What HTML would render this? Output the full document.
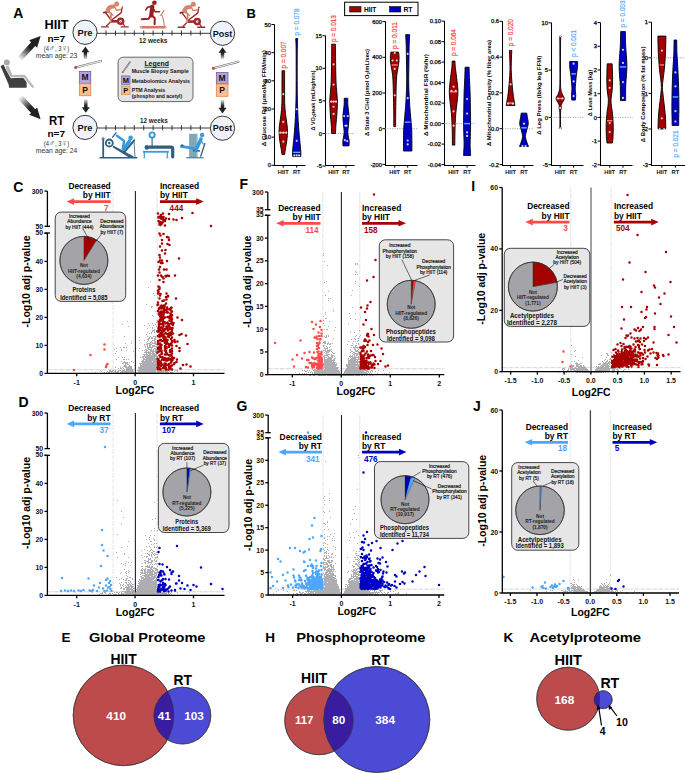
<!DOCTYPE html>
<html><head><meta charset="utf-8"><style>
html,body{margin:0;padding:0;background:#fff;width:685px;height:773px;overflow:hidden}
svg{display:block}
text{font-family:"Liberation Sans",sans-serif}
</style></head><body>
<svg width="685" height="773" viewBox="0 0 685 773">
<text x="246.5" y="17.8" font-size="13" font-weight="bold">B</text>
<rect x="344.6" y="2.2" width="73.4" height="13.4" fill="#fff" stroke="#000" stroke-width="1"/>
<rect x="349.7" y="6.6" width="11.3" height="5.4" fill="#a30000" stroke="#000" stroke-width="0.6"/>
<text x="363.9" y="12" font-size="7" font-weight="bold" textLength="12.5" lengthAdjust="spacingAndGlyphs">HIIT</text>
<rect x="389.6" y="6.6" width="11.2" height="5.4" fill="#0000c4" stroke="#000" stroke-width="0.6"/>
<text x="403.4" y="12" font-size="7" font-weight="bold" textLength="9.1" lengthAdjust="spacingAndGlyphs">RT</text>
<path d="M274.5 24.5V165.5H305.5" fill="none" stroke="#000" stroke-width="1.05"/>
<line x1="271.5" y1="165.3" x2="274.5" y2="165.3" stroke="#000" stroke-width="1" />
<text x="271" y="167.4" font-size="5.8" text-anchor="end" stroke="#000" stroke-width="0.25">0</text>
<line x1="271.5" y1="137.14" x2="274.5" y2="137.14" stroke="#000" stroke-width="1" />
<text x="271" y="139.24" font-size="5.8" text-anchor="end" stroke="#000" stroke-width="0.25">10</text>
<line x1="271.5" y1="108.98" x2="274.5" y2="108.98" stroke="#000" stroke-width="1" />
<text x="271" y="111.08" font-size="5.8" text-anchor="end" stroke="#000" stroke-width="0.25">20</text>
<line x1="271.5" y1="80.82" x2="274.5" y2="80.82" stroke="#000" stroke-width="1" />
<text x="271" y="82.92" font-size="5.8" text-anchor="end" stroke="#000" stroke-width="0.25">30</text>
<line x1="271.5" y1="52.66" x2="274.5" y2="52.66" stroke="#000" stroke-width="1" />
<text x="271" y="54.76" font-size="5.8" text-anchor="end" stroke="#000" stroke-width="0.25">40</text>
<line x1="271.5" y1="24.5" x2="274.5" y2="24.5" stroke="#000" stroke-width="1" />
<text x="271" y="26.6" font-size="5.8" text-anchor="end" stroke="#000" stroke-width="0.25">50</text>
<line x1="283.3" y1="165.5" x2="283.3" y2="167.7" stroke="#000" stroke-width="1" />
<line x1="296.7" y1="165.5" x2="296.7" y2="167.7" stroke="#000" stroke-width="1" />
<text x="283.3" y="173.6" font-size="5.8" font-weight="bold" text-anchor="middle" fill="#111" textLength="10.9" lengthAdjust="spacingAndGlyphs">HIIT</text>
<text x="296.7" y="173.6" font-size="5.8" font-weight="bold" text-anchor="middle" fill="#111" textLength="7.6" lengthAdjust="spacingAndGlyphs">RT</text>
<text x="265.8" y="98.2" font-size="5.6" font-weight="bold" text-anchor="middle" transform="rotate(-90 265.8 98.2)" textLength="96" lengthAdjust="spacingAndGlyphs">&#916; Glucose Rd (&#956;mol/kg FFM/min)</text>
<path d="M282 70.68L284.6 70.68C284.6 73.31 284.58 81.01 284.6 86.45C284.62 91.9 284.53 98.65 284.7 103.35C284.87 108.04 285.25 111.33 285.6 114.61C285.95 117.9 286.48 120.34 286.8 123.06C287.12 125.78 287.48 128.13 287.5 130.94C287.52 133.76 287.23 137.05 286.9 139.96C286.57 142.87 285.88 145.96 285.5 148.4C285.12 150.84 284.75 153.57 284.6 154.6L282 154.6C281.85 153.57 281.48 150.84 281.1 148.4C280.72 145.96 280.03 142.87 279.7 139.96C279.37 137.05 279.08 133.76 279.1 130.94C279.12 128.13 279.48 125.78 279.8 123.06C280.12 120.34 280.65 117.9 281 114.61C281.35 111.33 281.73 108.04 281.9 103.35C282.07 98.65 281.98 91.9 282 86.45C282.02 81.01 282 73.31 282 70.68Z" fill="#a30000" stroke="#000" stroke-width="0.9"/>
<path d="M295.7 38.58L297.7 38.58C297.63 39.99 297.38 42.33 297.3 47.03C297.22 51.72 297.2 58.76 297.2 66.74C297.2 74.72 297.17 86.45 297.3 94.9C297.43 103.35 297.68 110.86 298 117.43C298.32 124 298.82 129.63 299.2 134.32C299.58 139.02 300.02 142.54 300.3 145.59C300.58 148.64 300.83 150.8 300.9 152.63C300.97 154.46 300.73 155.91 300.7 156.57L292.7 156.57C292.67 155.91 292.43 154.46 292.5 152.63C292.57 150.8 292.82 148.64 293.1 145.59C293.38 142.54 293.82 139.02 294.2 134.32C294.58 129.63 295.08 124 295.4 117.43C295.72 110.86 295.97 103.35 296.1 94.9C296.23 86.45 296.2 74.72 296.2 66.74C296.2 58.76 296.18 51.72 296.1 47.03C296.02 42.33 295.77 39.99 295.7 38.58Z" fill="#0000c4" stroke="#000" stroke-width="0.9"/>
<line x1="279.81" y1="132.63" x2="286.79" y2="132.63" stroke="#ff7a7a" stroke-width="1.4" />
<line x1="293.12" y1="152.35" x2="300.28" y2="152.35" stroke="#5cb0ff" stroke-width="1.4" />
<circle cx="283.3" cy="94.06" r="1.1" fill="#d4d4d4"/>
<circle cx="283.3" cy="121.93" r="1.1" fill="#d4d4d4"/>
<circle cx="280.3" cy="132.63" r="1.1" fill="#d4d4d4"/>
<circle cx="283.3" cy="132.63" r="1.1" fill="#d4d4d4"/>
<circle cx="286.3" cy="132.63" r="1.1" fill="#d4d4d4"/>
<circle cx="283.3" cy="141.65" r="1.1" fill="#d4d4d4"/>
<circle cx="296.7" cy="109.26" r="1.1" fill="#d4d4d4"/>
<circle cx="296.7" cy="140.8" r="1.1" fill="#d4d4d4"/>
<circle cx="294.3" cy="155.44" r="1.1" fill="#d4d4d4"/>
<circle cx="296.7" cy="155.44" r="1.1" fill="#d4d4d4"/>
<circle cx="299.1" cy="155.44" r="1.1" fill="#d4d4d4"/>
<text x="286" y="54.9" font-size="6.8" text-anchor="middle" fill="#ff3b3b" transform="rotate(-90 286 54.9)" textLength="27" lengthAdjust="spacingAndGlyphs" stroke="#ff3b3b" stroke-width="0.2">p = 0.007</text>
<text x="299" y="22" font-size="6.8" text-anchor="middle" fill="#55a8ff" transform="rotate(-90 299 22)" textLength="27" lengthAdjust="spacingAndGlyphs" stroke="#55a8ff" stroke-width="0.2">p = 0.078</text>
<path d="M325.5 35.7V165.5H354.5" fill="none" stroke="#000" stroke-width="1.05"/>
<line x1="322.5" y1="166.1" x2="325.5" y2="166.1" stroke="#000" stroke-width="1" />
<text x="322" y="168.2" font-size="5.8" text-anchor="end" stroke="#000" stroke-width="0.25">-5</text>
<line x1="322.5" y1="133.5" x2="325.5" y2="133.5" stroke="#000" stroke-width="1" />
<text x="322" y="135.6" font-size="5.8" text-anchor="end" stroke="#000" stroke-width="0.25">0</text>
<line x1="322.5" y1="100.9" x2="325.5" y2="100.9" stroke="#000" stroke-width="1" />
<text x="322" y="103" font-size="5.8" text-anchor="end" stroke="#000" stroke-width="0.25">5</text>
<line x1="322.5" y1="68.3" x2="325.5" y2="68.3" stroke="#000" stroke-width="1" />
<text x="322" y="70.4" font-size="5.8" text-anchor="end" stroke="#000" stroke-width="0.25">10</text>
<line x1="322.5" y1="35.7" x2="325.5" y2="35.7" stroke="#000" stroke-width="1" />
<text x="322" y="37.8" font-size="5.8" text-anchor="end" stroke="#000" stroke-width="0.25">15</text>
<line x1="333.6" y1="165.5" x2="333.6" y2="167.7" stroke="#000" stroke-width="1" />
<line x1="346" y1="165.5" x2="346" y2="167.7" stroke="#000" stroke-width="1" />
<text x="333.6" y="173.6" font-size="5.8" font-weight="bold" text-anchor="middle" fill="#111" textLength="10.9" lengthAdjust="spacingAndGlyphs">HIIT</text>
<text x="346" y="173.6" font-size="5.8" font-weight="bold" text-anchor="middle" fill="#111" textLength="7.6" lengthAdjust="spacingAndGlyphs">RT</text>
<line x1="325.4" y1="133.5" x2="354.5" y2="133.5" stroke="#888" stroke-width="0.7" stroke-dasharray="1.2 1.2"/>
<text x="314.9" y="100.5" font-size="5.6" font-weight="bold" text-anchor="middle" transform="rotate(-90 314.9 100.5)" textLength="60" lengthAdjust="spacingAndGlyphs">&#916; VO<tspan font-size="4" dy="1.2">2</tspan><tspan dy="-1.2">peak (mL/kg/min)</tspan></text>
<path d="M331.7 44.18L335.5 44.18C335.52 47.11 335.52 55.59 335.6 61.78C335.68 67.97 335.8 76.23 336 81.34C336.2 86.45 336.57 89.16 336.8 92.42C337.03 95.68 337.38 97.31 337.4 100.9C337.42 104.49 337.15 109.92 336.9 113.94C336.65 117.96 336.13 121.76 335.9 125.02C335.67 128.28 335.57 132.09 335.5 133.5L331.7 133.5C331.63 132.09 331.53 128.28 331.3 125.02C331.07 121.76 330.55 117.96 330.3 113.94C330.05 109.92 329.78 104.49 329.8 100.9C329.82 97.31 330.17 95.68 330.4 92.42C330.63 89.16 331 86.45 331.2 81.34C331.4 76.23 331.52 67.97 331.6 61.78C331.68 55.59 331.68 47.11 331.7 44.18Z" fill="#a30000" stroke="#000" stroke-width="0.9"/>
<path d="M344.2 98.29L347.8 98.29C347.8 99.27 347.7 102.2 347.8 104.16C347.9 106.12 348.18 107.96 348.4 110.03C348.62 112.09 349.08 114.05 349.1 116.55C349.12 119.05 348.72 122.42 348.5 125.02C348.28 127.63 347.8 130.13 347.8 132.2C347.8 134.26 348.27 135.89 348.5 137.41C348.73 138.93 349.12 139.91 349.2 141.32C349.28 142.74 349.03 145.13 349 145.89L343 145.89C342.97 145.13 342.72 142.74 342.8 141.32C342.88 139.91 343.27 138.93 343.5 137.41C343.73 135.89 344.2 134.26 344.2 132.2C344.2 130.13 343.72 127.63 343.5 125.02C343.28 122.42 342.88 119.05 342.9 116.55C342.92 114.05 343.38 112.09 343.6 110.03C343.82 107.96 344.1 106.12 344.2 104.16C344.3 102.2 344.2 99.27 344.2 98.29Z" fill="#0000c4" stroke="#000" stroke-width="0.9"/>
<line x1="330.43" y1="101.55" x2="336.77" y2="101.55" stroke="#ff7a7a" stroke-width="1.4" />
<line x1="344.16" y1="125.68" x2="347.84" y2="125.68" stroke="#5cb0ff" stroke-width="1.4" />
<circle cx="333.6" cy="64.39" r="1.1" fill="#d4d4d4"/>
<circle cx="333.6" cy="84.6" r="1.1" fill="#d4d4d4"/>
<circle cx="331.2" cy="101.55" r="1.1" fill="#d4d4d4"/>
<circle cx="333.6" cy="101.55" r="1.1" fill="#d4d4d4"/>
<circle cx="336" cy="101.55" r="1.1" fill="#d4d4d4"/>
<circle cx="333.6" cy="106.77" r="1.1" fill="#d4d4d4"/>
<circle cx="333.6" cy="113.94" r="1.1" fill="#d4d4d4"/>
<circle cx="344.2" cy="116.09" r="1.1" fill="#d4d4d4"/>
<circle cx="347.8" cy="116.09" r="1.1" fill="#d4d4d4"/>
<circle cx="346" cy="125.68" r="1.1" fill="#d4d4d4"/>
<circle cx="344.8" cy="140.22" r="1.1" fill="#d4d4d4"/>
<circle cx="347.2" cy="141.19" r="1.1" fill="#d4d4d4"/>
<text x="335.9" y="28.6" font-size="6.8" text-anchor="middle" fill="#ff3b3b" transform="rotate(-90 335.9 28.6)" textLength="27" lengthAdjust="spacingAndGlyphs" stroke="#ff3b3b" stroke-width="0.2">p = 0.013</text>
<path d="M385.5 21.6V165.5H417.5" fill="none" stroke="#000" stroke-width="1.05"/>
<line x1="382.5" y1="164.4" x2="385.5" y2="164.4" stroke="#000" stroke-width="1" />
<text x="382" y="166.5" font-size="5.8" text-anchor="end" stroke="#000" stroke-width="0.25">-200</text>
<line x1="382.5" y1="128.7" x2="385.5" y2="128.7" stroke="#000" stroke-width="1" />
<text x="382" y="130.8" font-size="5.8" text-anchor="end" stroke="#000" stroke-width="0.25">0</text>
<line x1="382.5" y1="93" x2="385.5" y2="93" stroke="#000" stroke-width="1" />
<text x="382" y="95.1" font-size="5.8" text-anchor="end" stroke="#000" stroke-width="0.25">200</text>
<line x1="382.5" y1="57.3" x2="385.5" y2="57.3" stroke="#000" stroke-width="1" />
<text x="382" y="59.4" font-size="5.8" text-anchor="end" stroke="#000" stroke-width="0.25">400</text>
<line x1="382.5" y1="21.6" x2="385.5" y2="21.6" stroke="#000" stroke-width="1" />
<text x="382" y="23.7" font-size="5.8" text-anchor="end" stroke="#000" stroke-width="0.25">600</text>
<line x1="394.7" y1="165.5" x2="394.7" y2="167.7" stroke="#000" stroke-width="1" />
<line x1="407.7" y1="165.5" x2="407.7" y2="167.7" stroke="#000" stroke-width="1" />
<text x="394.7" y="173.6" font-size="5.8" font-weight="bold" text-anchor="middle" fill="#111" textLength="10.9" lengthAdjust="spacingAndGlyphs">HIIT</text>
<text x="407.7" y="173.6" font-size="5.8" font-weight="bold" text-anchor="middle" fill="#111" textLength="7.6" lengthAdjust="spacingAndGlyphs">RT</text>
<line x1="385" y1="128.7" x2="417.5" y2="128.7" stroke="#888" stroke-width="0.7" stroke-dasharray="1.2 1.2"/>
<text x="368.9" y="92.5" font-size="5.6" font-weight="bold" text-anchor="middle" transform="rotate(-90 368.9 92.5)" textLength="87" lengthAdjust="spacingAndGlyphs">&#916; State 3 CI+II (pmol O<tspan font-size="4" dy="1.2">2</tspan><tspan dy="-1.2">/mL/sec)</tspan></text>
<path d="M390.9 52.12L398.5 52.12C398.58 52.69 398.93 53.91 399 55.51C399.07 57.12 399.08 59.68 398.9 61.76C398.72 63.84 398.27 65.66 397.9 68.01C397.53 70.36 396.98 72.89 396.7 75.86C396.42 78.84 396.32 82.68 396.2 85.86C396.08 89.04 396.08 90.8 396 94.96C395.92 99.13 395.77 105.58 395.7 110.85C395.63 116.12 395.62 123.94 395.6 126.56L393.8 126.56C393.78 123.94 393.77 116.12 393.7 110.85C393.63 105.58 393.48 99.13 393.4 94.96C393.32 90.8 393.32 89.04 393.2 85.86C393.08 82.68 392.98 78.84 392.7 75.86C392.42 72.89 391.87 70.36 391.5 68.01C391.13 65.66 390.68 63.84 390.5 61.76C390.32 59.68 390.33 57.12 390.4 55.51C390.47 53.91 390.82 52.69 390.9 52.12Z" fill="#a30000" stroke="#000" stroke-width="0.9"/>
<path d="M405.7 34.63L409.7 34.63C409.62 36.33 409.32 41.03 409.2 44.8C409.08 48.58 409.08 50.96 409 57.3C408.92 63.64 408.62 75.39 408.7 82.83C408.78 90.26 409.23 96.99 409.5 101.92C409.77 106.86 410.03 109.12 410.3 112.46C410.57 115.79 410.87 119 411.1 121.92C411.33 124.83 411.57 126.74 411.7 129.95C411.83 133.16 411.87 137.68 411.9 141.19C411.93 144.71 411.9 149.38 411.9 151.01L403.5 151.01C403.5 149.38 403.47 144.71 403.5 141.19C403.53 137.68 403.57 133.16 403.7 129.95C403.83 126.74 404.07 124.83 404.3 121.92C404.53 119 404.83 115.79 405.1 112.46C405.37 109.12 405.63 106.86 405.9 101.92C406.17 96.99 406.62 90.26 406.7 82.83C406.78 75.39 406.48 63.64 406.4 57.3C406.32 50.96 406.32 48.58 406.2 44.8C406.08 41.03 405.78 36.33 405.7 34.63Z" fill="#0000c4" stroke="#000" stroke-width="0.9"/>
<line x1="391.61" y1="64.98" x2="397.79" y2="64.98" stroke="#ff7a7a" stroke-width="1.4" />
<line x1="404.89" y1="122.1" x2="410.51" y2="122.1" stroke="#5cb0ff" stroke-width="1.4" />
<circle cx="394.7" cy="53.02" r="1.1" fill="#d4d4d4"/>
<circle cx="392.6" cy="60.51" r="1.1" fill="#d4d4d4"/>
<circle cx="396.8" cy="60.51" r="1.1" fill="#d4d4d4"/>
<circle cx="394.7" cy="68.9" r="1.1" fill="#d4d4d4"/>
<circle cx="394.7" cy="95.32" r="1.1" fill="#d4d4d4"/>
<circle cx="407.7" cy="53.91" r="1.1" fill="#d4d4d4"/>
<circle cx="407.7" cy="98.18" r="1.1" fill="#d4d4d4"/>
<circle cx="407.7" cy="140.48" r="1.1" fill="#d4d4d4"/>
<circle cx="407.7" cy="144.41" r="1.1" fill="#d4d4d4"/>
<text x="397.1" y="35.5" font-size="6.8" text-anchor="middle" fill="#ff3b3b" transform="rotate(-90 397.1 35.5)" textLength="27" lengthAdjust="spacingAndGlyphs" stroke="#ff3b3b" stroke-width="0.2">p = 0.011</text>
<path d="M444.5 21.1V165.5H475.5" fill="none" stroke="#000" stroke-width="1.05"/>
<line x1="441.5" y1="164.6" x2="444.5" y2="164.6" stroke="#000" stroke-width="1" />
<text x="441" y="166.7" font-size="5.8" text-anchor="end" stroke="#000" stroke-width="0.25">-0.04</text>
<line x1="441.5" y1="144.1" x2="444.5" y2="144.1" stroke="#000" stroke-width="1" />
<text x="441" y="146.2" font-size="5.8" text-anchor="end" stroke="#000" stroke-width="0.25">-0.02</text>
<line x1="441.5" y1="123.6" x2="444.5" y2="123.6" stroke="#000" stroke-width="1" />
<text x="441" y="125.7" font-size="5.8" text-anchor="end" stroke="#000" stroke-width="0.25">0.00</text>
<line x1="441.5" y1="103.1" x2="444.5" y2="103.1" stroke="#000" stroke-width="1" />
<text x="441" y="105.2" font-size="5.8" text-anchor="end" stroke="#000" stroke-width="0.25">0.02</text>
<line x1="441.5" y1="82.6" x2="444.5" y2="82.6" stroke="#000" stroke-width="1" />
<text x="441" y="84.7" font-size="5.8" text-anchor="end" stroke="#000" stroke-width="0.25">0.04</text>
<line x1="441.5" y1="62.1" x2="444.5" y2="62.1" stroke="#000" stroke-width="1" />
<text x="441" y="64.2" font-size="5.8" text-anchor="end" stroke="#000" stroke-width="0.25">0.06</text>
<line x1="441.5" y1="41.6" x2="444.5" y2="41.6" stroke="#000" stroke-width="1" />
<text x="441" y="43.7" font-size="5.8" text-anchor="end" stroke="#000" stroke-width="0.25">0.08</text>
<line x1="441.5" y1="21.1" x2="444.5" y2="21.1" stroke="#000" stroke-width="1" />
<text x="441" y="23.2" font-size="5.8" text-anchor="end" stroke="#000" stroke-width="0.25">0.10</text>
<line x1="453.6" y1="165.5" x2="453.6" y2="167.7" stroke="#000" stroke-width="1" />
<line x1="467.1" y1="165.5" x2="467.1" y2="167.7" stroke="#000" stroke-width="1" />
<text x="453.6" y="173.6" font-size="5.8" font-weight="bold" text-anchor="middle" fill="#111" textLength="10.9" lengthAdjust="spacingAndGlyphs">HIIT</text>
<text x="467.1" y="173.6" font-size="5.8" font-weight="bold" text-anchor="middle" fill="#111" textLength="7.6" lengthAdjust="spacingAndGlyphs">RT</text>
<line x1="444" y1="123.6" x2="475.5" y2="123.6" stroke="#888" stroke-width="0.7" stroke-dasharray="1.2 1.2"/>
<text x="427.7" y="95" font-size="5.6" font-weight="bold" text-anchor="middle" transform="rotate(-90 427.7 95)" textLength="82" lengthAdjust="spacingAndGlyphs">&#916; Mitochondrial FSR (%/hr)</text>
<path d="M452.2 61.07L455 61.07C455.05 62.1 455.03 64.49 455.3 67.22C455.57 69.96 456.17 73.55 456.6 77.47C457.03 81.4 457.8 86.87 457.9 90.8C458 94.73 457.55 97.29 457.2 101.05C456.85 104.81 456.13 109.59 455.8 113.35C455.47 117.11 455.35 120.18 455.2 123.6C455.05 127.02 454.97 130.26 454.9 133.85C454.83 137.44 454.82 143.25 454.8 145.12L452.4 145.12C452.38 143.25 452.37 137.44 452.3 133.85C452.23 130.26 452.15 127.02 452 123.6C451.85 120.18 451.73 117.11 451.4 113.35C451.07 109.59 450.35 104.81 450 101.05C449.65 97.29 449.2 94.73 449.3 90.8C449.4 86.87 450.17 81.4 450.6 77.47C451.03 73.55 451.63 69.96 451.9 67.22C452.17 64.49 452.15 62.1 452.2 61.07Z" fill="#a30000" stroke="#000" stroke-width="0.9"/>
<path d="M465.1 67.22L469.1 67.22C469.15 68.93 469.23 73.2 469.4 77.47C469.57 81.75 469.93 87.72 470.1 92.85C470.27 97.97 470.32 103.1 470.4 108.22C470.48 113.35 470.6 119.33 470.6 123.6C470.6 127.87 470.48 130.43 470.4 133.85C470.32 137.27 470.08 141.03 470.1 144.1C470.12 147.17 470.4 150.42 470.5 152.3C470.6 154.18 470.67 154.86 470.7 155.38L463.5 155.38C463.53 154.86 463.6 154.18 463.7 152.3C463.8 150.42 464.08 147.17 464.1 144.1C464.12 141.03 463.88 137.27 463.8 133.85C463.72 130.43 463.6 127.87 463.6 123.6C463.6 119.33 463.72 113.35 463.8 108.22C463.88 103.1 463.93 97.97 464.1 92.85C464.27 87.72 464.63 81.75 464.8 77.47C464.97 73.2 465.05 68.93 465.1 67.22Z" fill="#0000c4" stroke="#000" stroke-width="0.9"/>
<line x1="449.97" y1="91.82" x2="457.23" y2="91.82" stroke="#ff7a7a" stroke-width="1.4" />
<line x1="464.2" y1="123.6" x2="470" y2="123.6" stroke="#5cb0ff" stroke-width="1.4" />
<circle cx="453.6" cy="86.7" r="1.1" fill="#d4d4d4"/>
<circle cx="451.5" cy="90.8" r="1.1" fill="#d4d4d4"/>
<circle cx="455.7" cy="90.8" r="1.1" fill="#d4d4d4"/>
<circle cx="453.6" cy="111.3" r="1.1" fill="#d4d4d4"/>
<circle cx="453.6" cy="125.65" r="1.1" fill="#d4d4d4"/>
<circle cx="467.1" cy="99" r="1.1" fill="#d4d4d4"/>
<circle cx="467.1" cy="113.55" r="1.1" fill="#d4d4d4"/>
<circle cx="467.1" cy="132.31" r="1.1" fill="#d4d4d4"/>
<circle cx="467.1" cy="135.9" r="1.1" fill="#d4d4d4"/>
<text x="456" y="42.6" font-size="6.8" text-anchor="middle" fill="#ff3b3b" transform="rotate(-90 456 42.6)" textLength="27" lengthAdjust="spacingAndGlyphs" stroke="#ff3b3b" stroke-width="0.2">p = 0.064</text>
<path d="M502.5 21.3V165.5H533.5" fill="none" stroke="#000" stroke-width="1.05"/>
<line x1="499.5" y1="164.5" x2="502.5" y2="164.5" stroke="#000" stroke-width="1" />
<text x="499" y="166.6" font-size="5.8" text-anchor="end" stroke="#000" stroke-width="0.25">-0.2</text>
<line x1="499.5" y1="128.7" x2="502.5" y2="128.7" stroke="#000" stroke-width="1" />
<text x="499" y="130.8" font-size="5.8" text-anchor="end" stroke="#000" stroke-width="0.25">0.0</text>
<line x1="499.5" y1="92.9" x2="502.5" y2="92.9" stroke="#000" stroke-width="1" />
<text x="499" y="95" font-size="5.8" text-anchor="end" stroke="#000" stroke-width="0.25">0.2</text>
<line x1="499.5" y1="57.1" x2="502.5" y2="57.1" stroke="#000" stroke-width="1" />
<text x="499" y="59.2" font-size="5.8" text-anchor="end" stroke="#000" stroke-width="0.25">0.4</text>
<line x1="499.5" y1="21.3" x2="502.5" y2="21.3" stroke="#000" stroke-width="1" />
<text x="499" y="23.4" font-size="5.8" text-anchor="end" stroke="#000" stroke-width="0.25">0.6</text>
<line x1="510.6" y1="165.5" x2="510.6" y2="167.7" stroke="#000" stroke-width="1" />
<line x1="524" y1="165.5" x2="524" y2="167.7" stroke="#000" stroke-width="1" />
<text x="510.6" y="173.6" font-size="5.8" font-weight="bold" text-anchor="middle" fill="#111" textLength="10.9" lengthAdjust="spacingAndGlyphs">HIIT</text>
<text x="524" y="173.6" font-size="5.8" font-weight="bold" text-anchor="middle" fill="#111" textLength="7.6" lengthAdjust="spacingAndGlyphs">RT</text>
<line x1="502.5" y1="128.7" x2="533.5" y2="128.7" stroke="#888" stroke-width="0.7" stroke-dasharray="1.2 1.2"/>
<text x="491.2" y="93" font-size="5.6" font-weight="bold" text-anchor="middle" transform="rotate(-90 491.2 93)" textLength="106" lengthAdjust="spacingAndGlyphs">&#916; Mitochondrial Density (% fiber area)</text>
<path d="M509.4 50.48L511.8 50.48C511.75 51.58 511.6 53.91 511.5 57.1C511.4 60.29 511.15 65.75 511.2 69.63C511.25 73.51 511.57 77.09 511.8 80.37C512.03 83.65 512.33 86.63 512.6 89.32C512.87 92 513.13 94.54 513.4 96.48C513.67 98.42 513.93 99.46 514.2 100.95C514.47 102.45 514.87 104.68 515 105.43L506.2 105.43C506.33 104.68 506.73 102.45 507 100.95C507.27 99.46 507.53 98.42 507.8 96.48C508.07 94.54 508.33 92 508.6 89.32C508.87 86.63 509.17 83.65 509.4 80.37C509.63 77.09 509.95 73.51 510 69.63C510.05 65.75 509.8 60.29 509.7 57.1C509.6 53.91 509.45 51.58 509.4 50.48Z" fill="#a30000" stroke="#000" stroke-width="0.9"/>
<path d="M521.2 113.13L526.8 113.13C526.87 113.63 526.95 114.47 527.2 116.17C527.45 117.87 528.28 121.39 528.3 123.33C528.32 125.27 527.65 126.31 527.3 127.8C526.95 129.3 526.52 130.79 526.2 132.28C525.88 133.77 525.3 135.11 525.4 136.75C525.5 138.4 526.28 140.51 526.8 142.12C527.32 143.74 528.22 145.7 528.5 146.42L519.5 146.42C519.78 145.7 520.68 143.74 521.2 142.12C521.72 140.51 522.5 138.4 522.6 136.75C522.7 135.11 522.12 133.77 521.8 132.28C521.48 130.79 521.05 129.3 520.7 127.8C520.35 126.31 519.68 125.27 519.7 123.33C519.72 121.39 520.55 117.87 520.8 116.17C521.05 114.47 521.13 113.63 521.2 113.13Z" fill="#0000c4" stroke="#000" stroke-width="0.9"/>
<line x1="507.22" y1="103.1" x2="513.98" y2="103.1" stroke="#ff7a7a" stroke-width="1.4" />
<line x1="521.3" y1="127.8" x2="526.7" y2="127.8" stroke="#5cb0ff" stroke-width="1.4" />
<circle cx="510.6" cy="84.31" r="1.1" fill="#d4d4d4"/>
<circle cx="508.2" cy="103.64" r="1.1" fill="#d4d4d4"/>
<circle cx="513" cy="103.64" r="1.1" fill="#d4d4d4"/>
<circle cx="524" cy="123.69" r="1.1" fill="#d4d4d4"/>
<circle cx="522.4" cy="146.06" r="1.1" fill="#d4d4d4"/>
<circle cx="525.6" cy="146.06" r="1.1" fill="#d4d4d4"/>
<text x="513" y="32.7" font-size="6.8" text-anchor="middle" fill="#ff3b3b" transform="rotate(-90 513 32.7)" textLength="27" lengthAdjust="spacingAndGlyphs" stroke="#ff3b3b" stroke-width="0.2">p = 0.020</text>
<path d="M551.5 22.8V165.5H583.5" fill="none" stroke="#000" stroke-width="1.05"/>
<line x1="548.5" y1="164.7" x2="551.5" y2="164.7" stroke="#000" stroke-width="1" />
<text x="548" y="166.8" font-size="5.8" text-anchor="end" stroke="#000" stroke-width="0.25">-5</text>
<line x1="548.5" y1="117.4" x2="551.5" y2="117.4" stroke="#000" stroke-width="1" />
<text x="548" y="119.5" font-size="5.8" text-anchor="end" stroke="#000" stroke-width="0.25">0</text>
<line x1="548.5" y1="70.1" x2="551.5" y2="70.1" stroke="#000" stroke-width="1" />
<text x="548" y="72.2" font-size="5.8" text-anchor="end" stroke="#000" stroke-width="0.25">5</text>
<line x1="548.5" y1="22.8" x2="551.5" y2="22.8" stroke="#000" stroke-width="1" />
<text x="548" y="24.9" font-size="5.8" text-anchor="end" stroke="#000" stroke-width="0.25">10</text>
<line x1="560.2" y1="165.5" x2="560.2" y2="167.7" stroke="#000" stroke-width="1" />
<line x1="573.6" y1="165.5" x2="573.6" y2="167.7" stroke="#000" stroke-width="1" />
<text x="560.2" y="173.6" font-size="5.8" font-weight="bold" text-anchor="middle" fill="#111" textLength="10.9" lengthAdjust="spacingAndGlyphs">HIIT</text>
<text x="573.6" y="173.6" font-size="5.8" font-weight="bold" text-anchor="middle" fill="#111" textLength="7.6" lengthAdjust="spacingAndGlyphs">RT</text>
<line x1="551" y1="117.4" x2="583.5" y2="117.4" stroke="#888" stroke-width="0.7" stroke-dasharray="1.2 1.2"/>
<text x="541.2" y="95.3" font-size="5.6" font-weight="bold" text-anchor="middle" transform="rotate(-90 541.2 95.3)" textLength="79" lengthAdjust="spacingAndGlyphs">&#916; Leg Press (lb/kg leg FFM)</text>
<path d="M559.1 36.23L561.3 36.23C561.18 36.83 560.73 35.76 560.6 39.83C560.47 43.9 560.52 53.23 560.5 60.64C560.48 68.05 560.3 78.93 560.5 84.29C560.7 89.65 561.07 90.44 561.7 92.8C562.33 95.17 564.25 96.75 564.3 98.48C564.35 100.21 562.55 101.95 562 103.21C561.45 104.47 561.1 105.26 561 106.05C560.9 106.84 561.45 107.15 561.4 107.94C561.35 108.73 560.85 109.2 560.7 110.78C560.55 112.35 560.53 114.88 560.5 117.4C560.47 119.92 560.37 124.07 560.5 125.91C560.63 127.76 561.17 128.04 561.3 128.47L559.1 128.47C559.23 128.04 559.77 127.76 559.9 125.91C560.03 124.07 559.93 119.92 559.9 117.4C559.87 114.88 559.85 112.35 559.7 110.78C559.55 109.2 559.05 108.73 559 107.94C558.95 107.15 559.5 106.84 559.4 106.05C559.3 105.26 558.95 104.47 558.4 103.21C557.85 101.95 556.05 100.21 556.1 98.48C556.15 96.75 558.07 95.17 558.7 92.8C559.33 90.44 559.7 89.65 559.9 84.29C560.1 78.93 559.92 68.05 559.9 60.64C559.88 53.23 559.93 43.9 559.8 39.83C559.67 35.76 559.22 36.83 559.1 36.23Z" fill="#a30000" stroke="#000" stroke-width="0.9"/>
<path d="M569.6 61.59L577.6 61.59C577.6 62.22 577.68 63.95 577.6 65.37C577.52 66.79 577.33 68.21 577.1 70.1C576.87 71.99 576.45 74.51 576.2 76.72C575.95 78.93 575.77 81.29 575.6 83.34C575.43 85.39 575.18 87.13 575.2 89.02C575.22 90.91 575.67 92.85 575.7 94.7C575.73 96.54 575.45 99.19 575.4 100.09L571.8 100.09C571.75 99.19 571.47 96.54 571.5 94.7C571.53 92.85 571.98 90.91 572 89.02C572.02 87.13 571.77 85.39 571.6 83.34C571.43 81.29 571.25 78.93 571 76.72C570.75 74.51 570.33 71.99 570.1 70.1C569.87 68.21 569.68 66.79 569.6 65.37C569.52 63.95 569.6 62.22 569.6 61.59Z" fill="#0000c4" stroke="#000" stroke-width="0.9"/>
<line x1="556.7" y1="98.48" x2="563.7" y2="98.48" stroke="#ff7a7a" stroke-width="1.4" />
<line x1="571.21" y1="73.88" x2="575.99" y2="73.88" stroke="#5cb0ff" stroke-width="1.4" />
<circle cx="560.2" cy="36.23" r="1.1" fill="#d4d4d4"/>
<circle cx="558" cy="98.48" r="1.1" fill="#d4d4d4"/>
<circle cx="562.4" cy="98.48" r="1.1" fill="#d4d4d4"/>
<circle cx="560.2" cy="107.94" r="1.1" fill="#d4d4d4"/>
<circle cx="560.2" cy="128.47" r="1.1" fill="#d4d4d4"/>
<circle cx="573.6" cy="63.67" r="1.1" fill="#d4d4d4"/>
<circle cx="573.6" cy="81.45" r="1.1" fill="#d4d4d4"/>
<circle cx="573.6" cy="96.12" r="1.1" fill="#d4d4d4"/>
<text x="576.2" y="43.4" font-size="6.8" text-anchor="middle" fill="#55a8ff" transform="rotate(-90 576.2 43.4)" textLength="27" lengthAdjust="spacingAndGlyphs" stroke="#55a8ff" stroke-width="0.2">p &lt; 0.001</text>
<path d="M600.5 22.6V165.5H632.5" fill="none" stroke="#000" stroke-width="1.05"/>
<line x1="597.5" y1="164.8" x2="600.5" y2="164.8" stroke="#000" stroke-width="1" />
<text x="597" y="166.9" font-size="5.8" text-anchor="end" stroke="#000" stroke-width="0.25">-2</text>
<line x1="597.5" y1="141.1" x2="600.5" y2="141.1" stroke="#000" stroke-width="1" />
<text x="597" y="143.2" font-size="5.8" text-anchor="end" stroke="#000" stroke-width="0.25">-1</text>
<line x1="597.5" y1="117.4" x2="600.5" y2="117.4" stroke="#000" stroke-width="1" />
<text x="597" y="119.5" font-size="5.8" text-anchor="end" stroke="#000" stroke-width="0.25">0</text>
<line x1="597.5" y1="93.7" x2="600.5" y2="93.7" stroke="#000" stroke-width="1" />
<text x="597" y="95.8" font-size="5.8" text-anchor="end" stroke="#000" stroke-width="0.25">1</text>
<line x1="597.5" y1="70" x2="600.5" y2="70" stroke="#000" stroke-width="1" />
<text x="597" y="72.1" font-size="5.8" text-anchor="end" stroke="#000" stroke-width="0.25">2</text>
<line x1="597.5" y1="46.3" x2="600.5" y2="46.3" stroke="#000" stroke-width="1" />
<text x="597" y="48.4" font-size="5.8" text-anchor="end" stroke="#000" stroke-width="0.25">3</text>
<line x1="597.5" y1="22.6" x2="600.5" y2="22.6" stroke="#000" stroke-width="1" />
<text x="597" y="24.7" font-size="5.8" text-anchor="end" stroke="#000" stroke-width="0.25">4</text>
<line x1="609.7" y1="165.5" x2="609.7" y2="167.7" stroke="#000" stroke-width="1" />
<line x1="623" y1="165.5" x2="623" y2="167.7" stroke="#000" stroke-width="1" />
<text x="609.7" y="173.6" font-size="5.8" font-weight="bold" text-anchor="middle" fill="#111" textLength="10.9" lengthAdjust="spacingAndGlyphs">HIIT</text>
<text x="623" y="173.6" font-size="5.8" font-weight="bold" text-anchor="middle" fill="#111" textLength="7.6" lengthAdjust="spacingAndGlyphs">RT</text>
<line x1="600.8" y1="117.4" x2="632.5" y2="117.4" stroke="#888" stroke-width="0.7" stroke-dasharray="1.2 1.2"/>
<text x="592.3" y="93" font-size="5.6" font-weight="bold" text-anchor="middle" transform="rotate(-90 592.3 93)" textLength="46.5" lengthAdjust="spacingAndGlyphs">&#916; Lean Mass (kg)</text>
<path d="M607.2 63.84L612.2 63.84C612.23 64.87 612.33 67.39 612.4 70C612.47 72.61 612.63 76.12 612.6 79.48C612.57 82.84 612.47 86.83 612.2 90.15C611.93 93.46 611.12 96.62 611 99.39C610.88 102.15 611.28 104.64 611.5 106.74C611.72 108.83 612.02 108.99 612.3 111.95C612.58 114.91 613.08 120.36 613.2 124.51C613.32 128.66 613.13 133.75 613 136.83C612.87 139.91 612.5 141.97 612.4 143L607 143C606.9 141.97 606.53 139.91 606.4 136.83C606.27 133.75 606.08 128.66 606.2 124.51C606.32 120.36 606.82 114.91 607.1 111.95C607.38 108.99 607.68 108.83 607.9 106.74C608.12 104.64 608.52 102.15 608.4 99.39C608.28 96.62 607.47 93.46 607.2 90.15C606.93 86.83 606.83 82.84 606.8 79.48C606.77 76.12 606.93 72.61 607 70C607.07 67.39 607.17 64.87 607.2 63.84Z" fill="#a30000" stroke="#000" stroke-width="0.9"/>
<path d="M620.6 31.61L625.4 31.61C625.43 33.66 625.47 40.3 625.6 43.93C625.73 47.56 626 50.33 626.2 53.41C626.4 56.49 626.72 59.37 626.8 62.42C626.88 65.46 626.87 68.06 626.7 71.66C626.53 75.25 625.98 80.39 625.8 83.98C625.62 87.58 625.63 90.46 625.6 93.23C625.57 95.99 625.6 99.35 625.6 100.57L620.4 100.57C620.4 99.35 620.43 95.99 620.4 93.23C620.37 90.46 620.38 87.58 620.2 83.98C620.02 80.39 619.47 75.25 619.3 71.66C619.13 68.06 619.12 65.46 619.2 62.42C619.28 59.37 619.6 56.49 619.8 53.41C620 50.33 620.27 47.56 620.4 43.93C620.53 40.3 620.57 33.66 620.6 31.61Z" fill="#0000c4" stroke="#000" stroke-width="0.9"/>
<line x1="607.07" y1="120.72" x2="612.33" y2="120.72" stroke="#ff7a7a" stroke-width="1.4" />
<line x1="619.85" y1="66.92" x2="626.15" y2="66.92" stroke="#5cb0ff" stroke-width="1.4" />
<circle cx="609.7" cy="80.43" r="1.1" fill="#d4d4d4"/>
<circle cx="609.7" cy="87.78" r="1.1" fill="#d4d4d4"/>
<circle cx="609.7" cy="123.09" r="1.1" fill="#d4d4d4"/>
<circle cx="609.7" cy="132.09" r="1.1" fill="#d4d4d4"/>
<circle cx="623" cy="49.86" r="1.1" fill="#d4d4d4"/>
<circle cx="623" cy="62.89" r="1.1" fill="#d4d4d4"/>
<circle cx="623" cy="82.09" r="1.1" fill="#d4d4d4"/>
<circle cx="623" cy="97.97" r="1.1" fill="#d4d4d4"/>
<text x="625.4" y="14" font-size="6.8" text-anchor="middle" fill="#55a8ff" transform="rotate(-90 625.4 14)" textLength="27" lengthAdjust="spacingAndGlyphs" stroke="#55a8ff" stroke-width="0.2">p = 0.003</text>
<path d="M651.5 22.2V165.5H685" fill="none" stroke="#000" stroke-width="1.05"/>
<line x1="648.5" y1="164.6" x2="651.5" y2="164.6" stroke="#000" stroke-width="1" />
<text x="648" y="166.7" font-size="5.8" text-anchor="end" stroke="#000" stroke-width="0.25">-3</text>
<line x1="648.5" y1="129" x2="651.5" y2="129" stroke="#000" stroke-width="1" />
<text x="648" y="131.1" font-size="5.8" text-anchor="end" stroke="#000" stroke-width="0.25">-2</text>
<line x1="648.5" y1="93.4" x2="651.5" y2="93.4" stroke="#000" stroke-width="1" />
<text x="648" y="95.5" font-size="5.8" text-anchor="end" stroke="#000" stroke-width="0.25">-1</text>
<line x1="648.5" y1="57.8" x2="651.5" y2="57.8" stroke="#000" stroke-width="1" />
<text x="648" y="59.9" font-size="5.8" text-anchor="end" stroke="#000" stroke-width="0.25">0</text>
<line x1="648.5" y1="22.2" x2="651.5" y2="22.2" stroke="#000" stroke-width="1" />
<text x="648" y="24.3" font-size="5.8" text-anchor="end" stroke="#000" stroke-width="0.25">1</text>
<line x1="661.9" y1="165.5" x2="661.9" y2="167.7" stroke="#000" stroke-width="1" />
<line x1="675.4" y1="165.5" x2="675.4" y2="167.7" stroke="#000" stroke-width="1" />
<text x="661.9" y="173.6" font-size="5.8" font-weight="bold" text-anchor="middle" fill="#111" textLength="10.9" lengthAdjust="spacingAndGlyphs">HIIT</text>
<text x="675.4" y="173.6" font-size="5.8" font-weight="bold" text-anchor="middle" fill="#111" textLength="7.6" lengthAdjust="spacingAndGlyphs">RT</text>
<line x1="651" y1="57.8" x2="685" y2="57.8" stroke="#888" stroke-width="0.7" stroke-dasharray="1.2 1.2"/>
<text x="644.8" y="94.4" font-size="5.6" font-weight="bold" text-anchor="middle" transform="rotate(-90 644.8 94.4)" textLength="95.6" lengthAdjust="spacingAndGlyphs">&#916; Body Composition (% fat mass)</text>
<path d="M657.9 36.08L665.9 36.08C665.87 37.92 665.78 44.03 665.7 47.12C665.62 50.21 665.63 50.86 665.4 54.6C665.17 58.33 664.68 65.45 664.3 69.55C663.92 73.64 663.42 76.19 663.1 79.16C662.78 82.13 662.35 84.26 662.4 87.35C662.45 90.43 662.93 93.22 663.4 97.67C663.87 102.12 664.82 109.72 665.2 114.05C665.58 118.38 665.62 121.17 665.7 123.66C665.78 126.15 665.7 128.11 665.7 129L658.1 129C658.1 128.11 658.02 126.15 658.1 123.66C658.18 121.17 658.22 118.38 658.6 114.05C658.98 109.72 659.93 102.12 660.4 97.67C660.87 93.22 661.35 90.43 661.4 87.35C661.45 84.26 661.02 82.13 660.7 79.16C660.38 76.19 659.88 73.64 659.5 69.55C659.12 65.45 658.63 58.33 658.4 54.6C658.17 50.86 658.18 50.21 658.1 47.12C658.02 44.03 657.93 37.92 657.9 36.08Z" fill="#a30000" stroke="#000" stroke-width="0.9"/>
<path d="M674.1 40L676.7 40C676.75 42.43 676.8 49.67 677 54.6C677.2 59.52 677.63 64.09 677.9 69.55C678.17 75.01 678.43 81.12 678.6 87.35C678.77 93.58 678.88 101.47 678.9 106.93C678.92 112.39 678.73 117.01 678.7 120.1C678.67 123.19 678.7 124.55 678.7 125.44L672.1 125.44C672.1 124.55 672.13 123.19 672.1 120.1C672.07 117.01 671.88 112.39 671.9 106.93C671.92 101.47 672.03 93.58 672.2 87.35C672.37 81.12 672.63 75.01 672.9 69.55C673.17 64.09 673.6 59.52 673.8 54.6C674 49.67 674.05 42.43 674.1 40Z" fill="#0000c4" stroke="#000" stroke-width="0.9"/>
<line x1="659.76" y1="64.92" x2="664.04" y2="64.92" stroke="#ff7a7a" stroke-width="1.4" />
<line x1="672.65" y1="96.96" x2="678.15" y2="96.96" stroke="#5cb0ff" stroke-width="1.4" />
<circle cx="661.9" cy="50.68" r="1.1" fill="#d4d4d4"/>
<circle cx="661.9" cy="118.32" r="1.1" fill="#d4d4d4"/>
<circle cx="659.7" cy="129" r="1.1" fill="#d4d4d4"/>
<circle cx="664.1" cy="129" r="1.1" fill="#d4d4d4"/>
<circle cx="675.4" cy="72.4" r="1.1" fill="#d4d4d4"/>
<circle cx="675.4" cy="86.28" r="1.1" fill="#d4d4d4"/>
<circle cx="675.4" cy="111.2" r="1.1" fill="#d4d4d4"/>
<circle cx="675.4" cy="121.52" r="1.1" fill="#d4d4d4"/>
<text x="677.8" y="144" font-size="6.8" text-anchor="middle" fill="#55a8ff" transform="rotate(-90 677.8 144)" textLength="27" lengthAdjust="spacingAndGlyphs" stroke="#55a8ff" stroke-width="0.2">p = 0.021</text>
<text x="13.2" y="191.6" font-size="14" font-weight="bold">C</text>
<line x1="113.08" y1="191" x2="113.08" y2="373.4" stroke="#d8d8d8" stroke-width="0.7" stroke-dasharray="5 1"/>
<line x1="157.12" y1="191" x2="157.12" y2="373.4" stroke="#d8d8d8" stroke-width="0.7" stroke-dasharray="5 1"/>
<line x1="47.4" y1="369.76" x2="224.5" y2="369.76" stroke="#c4c4c4" stroke-width="0.7" stroke-dasharray="5 1"/>
<line x1="135.4" y1="191" x2="135.4" y2="373.4" stroke="#222" stroke-width="1.1" />
<path d="M118.5 271.5h0m32 10h0m-2 6h0m-32 1h0m37 5h0m1 2h0m3 2h0m-11 7h0m11 0h0m-6 2h0m1 0h0m-1 1h0m4 4h0m2 3h0m-5 1h0m1 1h0m-26 5h0m29 1h0m-8 1h0m4 0h0m-30 1h0m33 0h0m-11 1h0m5 0h0m4 0h0m-25 1h0m28 0h0m-4 1h0m-5 1h0m5 0h0m2 1h0m-2 1h0m1 0h0m1 0h0m2 0h0m-4 1h0m2 0h0m2 0h0m-9 1h0m4 0h0m3 0h0m-5 1h0m2 0h0m-5 1h0m-22 2h0m23 0h0m3 0h0m3 0h0m1 0h0m1 0h0m-16 1h0m10 0h0m2 0h0m1 0h0m3 0h0m-7 1h0m1 0h0m2 0h0m1 0h0m2 0h0m1 0h0m-8 1h0m1 0h0m6 0h0m1 0h0m-16 1h0m5 0h0m4 0h0m4 0h0m1 0h0m1 0h0m-23 1h0m16 0h0m4 0h0m3 0h0m1 0h0m2 0h0m-11 1h0m4 0h0m1 0h0m1 0h0m2 0h0m1 0h0m-30 1h0m6 0h0m16 0h0m1 0h0m1 0h0m1 0h0m2 0h0m1 0h0m1 0h0m1 0h0m2 0h0m-13 1h0m2 0h0m1 0h0m2 0h0m1 0h0m1 0h0m4 0h0m1 0h0m-12 1h0m3 0h0m2 0h0m1 0h0m2 0h0m1 0h0m1 0h0m3 0h0m-12 1h0m2 0h0m2 0h0m1 0h0m2 0h0m1 0h0m1 0h0m1 0h0m1 0h0m1 0h0m-37 1h0m3 0h0m1 0h0m2 0h0m19 0h0m2 0h0m1 0h0m1 0h0m1 0h0m1 0h0m1 0h0m4 0h0m1 0h0m-41 1h0m23 0h0m8 0h0m1 0h0m3 0h0m3 0h0m1 0h0m2 0h0m-43 1h0m7 0h0m24 0h0m1 0h0m2 0h0m1 0h0m1 0h0m1 0h0m2 0h0m2 0h0m1 0h0m-35 1h0m5 0h0m16 0h0m2 0h0m2 0h0m1 0h0m3 0h0m1 0h0m1 0h0m1 0h0m2 0h0m1 0h0m1 0h0m-41 1h0m17 0h0m12 0h0m1 0h0m2 0h0m2 0h0m1 0h0m1 0h0m1 0h0m1 0h0m1 0h0m1 0h0m1 0h0m-13 1h0m1 0h0m1 0h0m1 0h0m1 0h0m1 0h0m1 0h0m2 0h0m1 0h0m2 0h0m1 0h0m1 0h0m-42 1h0m31 0h0m2 0h0m1 0h0m1 0h0m1 0h0m1 0h0m1 0h0m1 0h0m2 0h0m1 0h0m-14 1h0m1 0h0m1 0h0m1 0h0m1 0h0m2 0h0m1 0h0m2 0h0m1 0h0m1 0h0m1 0h0m1 0h0m-12 1h0m2 0h0m1 0h0m1 0h0m1 0h0m1 0h0m1 0h0m1 0h0m1 0h0m1 0h0m1 0h0m1 0h0m-14 1h0m1 0h0m1 0h0m1 0h0m1 0h0m1 0h0m1 0h0m1 0h0m1 0h0m1 0h0m1 0h0m1 0h0m1 0h0m1 0h0m1 0h0m1 0h0m-39 1h0m4 0h0m2 0h0m16 0h0m2 0h0m1 0h0m2 0h0m1 0h0m1 0h0m1 0h0m1 0h0m1 0h0m1 0h0m1 0h0m1 0h0m1 0h0m2 0h0m1 0h0m-14 1h0m1 0h0m2 0h0m1 0h0m1 0h0m1 0h0m1 0h0m1 0h0m1 0h0m1 0h0m1 0h0m1 0h0m2 0h0m-41 1h0m7 0h0m1 0h0m2 0h0m2 0h0m15 0h0m1 0h0m1 0h0m1 0h0m1 0h0m1 0h0m1 0h0m1 0h0m1 0h0m1 0h0m1 0h0m1 0h0m1 0h0m1 0h0m1 0h0m-15 1h0m1 0h0m2 0h0m1 0h0m1 0h0m1 0h0m1 0h0m1 0h0m1 0h0m1 0h0m1 0h0m1 0h0m1 0h0m1 0h0m-35 1h0m3 0h0m7 0h0m10 0h0m1 0h0m1 0h0m1 0h0m1 0h0m1 0h0m1 0h0m1 0h0m1 0h0m1 0h0m1 0h0m2 0h0m1 0h0m1 0h0m1 0h0m1 0h0m-34 1h0m1 0h0m1 0h0m1 0h0m1 0h0m2 0h0m4 0h0m9 0h0m1 0h0m1 0h0m1 0h0m1 0h0m1 0h0m1 0h0m1 0h0m1 0h0m1 0h0m1 0h0m1 0h0m1 0h0m1 0h0m1 0h0m1 0h0m-35 1h0m1 0h0m2 0h0m1 0h0m1 0h0m12 0h0m1 0h0m1 0h0m1 0h0m1 0h0m1 0h0m1 0h0m1 0h0m1 0h0m1 0h0m1 0h0m1 0h0m1 0h0m1 0h0m1 0h0m1 0h0m1 0h0m1 0h0m1 0h0m-32 1h0m2 0h0m1 0h0m12 0h0m2 0h0m1 0h0m1 0h0m1 0h0m1 0h0m1 0h0m1 0h0m1 0h0m1 0h0m1 0h0m1 0h0m1 0h0m1 0h0m1 0h0m1 0h0m1 0h0m-33 1h0m1 0h0m1 0h0m3 0h0m5 0h0m6 0h0m1 0h0m1 0h0m1 0h0m1 0h0m1 0h0m1 0h0m1 0h0m1 0h0m1 0h0m1 0h0m1 0h0m1 0h0m1 0h0m1 0h0m1 0h0m1 0h0m1 0h0m-34 1h0m1 0h0m1 0h0m1 0h0m2 0h0m1 0h0m1 0h0m1 0h0m9 0h0m1 0h0m1 0h0m1 0h0m1 0h0m1 0h0m1 0h0m1 0h0m1 0h0m1 0h0m1 0h0m1 0h0m1 0h0m1 0h0m1 0h0m1 0h0m1 0h0m1 0h0m-42 1h0m5 0h0m2 0h0m3 0h0m1 0h0m1 0h0m1 0h0m1 0h0m1 0h0m1 0h0m7 0h0m1 0h0m1 0h0m1 0h0m1 0h0m1 0h0m1 0h0m1 0h0m1 0h0m1 0h0m1 0h0m1 0h0m1 0h0m1 0h0m1 0h0m1 0h0m1 0h0m1 0h0m1 0h0m1 0h0m-39 1h0m2 0h0m1 0h0m2 0h0m3 0h0m1 0h0m1 0h0m1 0h0m1 0h0m1 0h0m7 0h0m1 0h0m1 0h0m1 0h0m1 0h0m1 0h0m1 0h0m1 0h0m1 0h0m1 0h0m1 0h0m1 0h0m1 0h0m1 0h0m1 0h0m1 0h0m1 0h0m1 0h0m1 0h0m1 0h0m-33 1h0m2 0h0m1 0h0m1 0h0m1 0h0m1 0h0m1 0h0m1 0h0m1 0h0m6 0h0m1 0h0m1 0h0m1 0h0m1 0h0m1 0h0m1 0h0m1 0h0m1 0h0m1 0h0m1 0h0m1 0h0m1 0h0m1 0h0m1 0h0m1 0h0m1 0h0m1 0h0m-56 1h0m9 0h0m1 0h0m2 0h0m1 0h0m2 0h0m3 0h0m1 0h0m1 0h0m2 0h0m1 0h0m1 0h0m2 0h0m1 0h0m1 0h0m1 0h0m1 0h0m1 0h0m1 0h0m5 0h0m1 0h0m1 0h0m1 0h0m1 0h0m1 0h0m1 0h0m1 0h0m1 0h0m1 0h0m1 0h0m1 0h0m1 0h0m1 0h0m1 0h0m1 0h0m1 0h0m1 0h0m1 0h0m1 0h0m1 0h0m1 0h0m1 0h0m1 0h0m1 0h0m1 0h0m1 0h0m1 0h0m1 0h0m1 0h0m1 0h0m1 0h0m2 0h0m2 0h0m3 0h0m1 0h0m1 0h0m-76 1h0m6 0h0m2 0h0m1 0h0m1 0h0m1 0h0m2 0h0m1 0h0m2 0h0m1 0h0m3 0h0m1 0h0m1 0h0m1 0h0m1 0h0m1 0h0m1 0h0m1 0h0m1 0h0m1 0h0m1 0h0m1 0h0m1 0h0m5 0h0m1 0h0m1 0h0m1 0h0m1 0h0m1 0h0m1 0h0m1 0h0m1 0h0m1 0h0m1 0h0m1 0h0m1 0h0m1 0h0m1 0h0m1 0h0m1 0h0m1 0h0m2 0h0m1 0h0m1 0h0m1 0h0m1 0h0m1 0h0m1 0h0m1 0h0m1 0h0m1 0h0m1 0h0m2 0h0m5 0h0m3 0h0m-82 1h0m9 0h0m2 0h0m2 0h0m1 0h0m2 0h0m2 0h0m2 0h0m1 0h0m1 0h0m1 0h0m2 0h0m1 0h0m1 0h0m1 0h0m1 0h0m1 0h0m1 0h0m1 0h0m1 0h0m1 0h0m1 0h0m1 0h0m1 0h0m1 0h0m1 0h0m2 0h0m1 0h0m1 0h0m1 0h0m1 0h0m1 0h0m1 0h0m1 0h0m1 0h0m1 0h0m1 0h0m1 0h0m1 0h0m1 0h0m1 0h0m1 0h0m1 0h0m1 0h0m1 0h0m1 0h0m1 0h0m1 0h0m1 0h0m1 0h0m1 0h0m1 0h0m1 0h0m1 0h0m2 0h0m1 0h0m1 0h0m1 0h0m2 0h0m1 0h0m1 0h0m9 0h0m4 0h0m-76 1h0m1 0h0m3 0h0m1 0h0m1 0h0m4 0h0m1 0h0m1 0h0m2 0h0m1 0h0m1 0h0m1 0h0m1 0h0m1 0h0m1 0h0m1 0h0m1 0h0m1 0h0m1 0h0m1 0h0m1 0h0m1 0h0m1 0h0m1 0h0m1 0h0m1 0h0m1 0h0m1 0h0m1 0h0m1 0h0m1 0h0m1 0h0m1 0h0m1 0h0m1 0h0m1 0h0m1 0h0m1 0h0m1 0h0m1 0h0m1 0h0m1 0h0m1 0h0m1 0h0m1 0h0m1 0h0m1 0h0m1 0h0m1 0h0m1 0h0m2 0h0m1 0h0m1 0h0m1 0h0m2 0h0m1 0h0m1 0h0m5 0h0" stroke="#a3a3a7" stroke-width="1.2" stroke-linecap="round" fill="none"/>
<path d="M192.5 213h0m-34.5 0.5h0m5 0h0m6 0.5h0m-8 1h0m-1 1.5h0m-1.5 0.5h0m1.5 0h0m2 0h0m1.5 0h0m-5 0.5h0m1.5 0h0m3 0h0m19 0.5h0m-16 0.5h0m-4.5 0.5h0m7.5 0h0m-5 0.5h0m9.5 0h0m3 0.5h0m-12 0.5h0m-6 0.5h0m5 0h0m1.5 0h0m-4.5 1h0m2 0.5h0m-3 0.5h0m1 0.5h0m1.5 0h0m-2.5 1h0m1 0h0m0 0.5h0m4.5 0.5h0m46 0.5h0m-51.5 7.5h0m4 0.5h0m-3 1.5h0m6.5 1.5h0m1.5 0.5h0m-6.5 2.5h0m7 0h0m-7 3.5h0m5.5 0.5h0m2 1h0m-9.5 1.5h0m5.5 3.5h0m-3.5 0.5h0m3 3h0m-5.5 1.5h0m0.5 2.5h0m19 1h0m-19 2h0m2 0h0m5 0.5h0m-8.5 1h0m2.5 1h0m1.5 0h0m-2.5 4h0m-1 2.5h0m5 0h0m2.5 0h0m-7 3h0m-1.5 3h0m3 0h0m6.5 0h0m7.5 0h0m-9.5 0.5h0m3.5 0h0m-3 0.5h0m-3.5 0.5h0m1 1.5h0m-4 1.5h0m4 2h0m-5 4.5h0m1 1h0m0 1.5h0m-1.5 1.5h0m0.5 1.5h0m-0.5 1.5h0m8.5 0h0m-6 0.5h0m-0.5 1.5h0m8 0.5h0m0 0.5h0m-2 0.5h0m-6.5 1.5h0m16.5 0h0m-9.5 1h0m-2.5 1h0m-1.5 0.5h0m-4.5 1.5h0m8 1h0m-8 1h0m-0.5 0.5h0m4 0.5h0m2.5 0h0m0.5 0h0m-4 1h0m2 0h0m2 0h0m-0.5 1h0m3 0h0m4.5 0h0m-12 0.5h0m3.5 0h0m8 0h0m-9.5 0.5h0m9.5 0h0m-12 0.5h0m8 0h0m2.5 0h0m-5.5 0.5h0m1 0h0m2 0h0m2.5 0h0m1 0h0m-6 1h0m2 0h0m-8.5 0.5h0m3 0.5h0m1.5 0h0m9 0h0m0.5 0h0m-11.5 0.5h0m2 0h0m2 0.5h0m2.5 0h0m1 0h0m-9 1h0m1.5 0h0m1 0h0m9 0h0m-9 0.5h0m2 0.5h0m-4 0.5h0m1.5 0h0m2.5 0h0m8.5 0h0m-1.5 0.5h0m-10.5 0.5h0m11.5 0h0m-2 0.5h0m2 0h0m-11 0.5h0m2 0h0m5 0h0m-3.5 0.5h0m1 0h0m12.5 0h0m-16 0.5h0m2 0h0m6 0h0m2 0h0m-1 0.5h0m-9.5 0.5h0m-1 0.5h0m3 0h0m9 0h0m10 0.5h0m-20.5 0.5h0m8 0h0m-11 1h0m13 0h0m-12 0.5h0m4 0h0m1 0h0m-1.5 0.5h0m1.5 0h0m3 0h0m-0.5 0.5h0m4.5 0h0m2 0h0m-14 0.5h0m6 0h0m-6.5 0.5h0m1.5 0h0m1.5 0h0m7.5 0h0m-6.5 0.5h0m5.5 0h0m4 0h0m-4 0.5h0m4.5 0h0m-14 1h0m4.5 0h0m5.5 0h0m-2.5 0.5h0m3 0h0m-3 0.5h0m1 0h0m-6.5 0.5h0m0.5 0h0m-3 0.5h0m4 0h0m8 0h0m2 0h0m-5 0.5h0m-8 0.5h0m5.5 0h0m5 0h0m-6.5 0.5h0m4 0h0m-9 0.5h0m1.5 0h0m12 0h0m-13 0.5h0m2.5 0h0m3 0h0m3.5 0h0m-10.5 1h0m1.5 0h0m4 0h0m-1 0.5h0m0 0.5h0m8.5 0h0m1 0h0m0.5 0h0m-11 0.5h0m4.5 0h0m0.5 0.5h0m3 0h0m4 0h0m-11 0.5h0m5 0h0m2.5 0h0m1 0h0m11 0h0m-22 0.5h0m4 0h0m7.5 0.5h0m8.5 0h0m-16.5 0.5h0m6 0h0m17 0h0m-28 0.5h0m1 0h0m1.5 0h0m1 0h0m0.5 0h0m2 0.5h0m0.5 0h0m3.5 0h0m-8.5 0.5h0m9.5 0h0m-3.5 0.5h0m6.5 0h0m-8.5 0.5h0m7.5 1h0m-5 0.5h0m-5.5 0.5h0m0.5 0h0m3 0h0m3.5 0h0m7 0h0m-15 0.5h0m-1.5 0.5h0m4 0h0m10 0h0m-7.5 0.5h0m1 0h0m7 0h0m5 0h0m-10.5 0.5h0m8 0h0m-17 1h0m7 0h0m2 0h0m4.5 0h0m-13.5 0.5h0m2 0h0m7 0h0m-9 0.5h0m8 0h0m2.5 0h0m2.5 0h0m16.5 0h0m-18 0.5h0m-9 0.5h0m0.5 0h0m0.5 0h0m8.5 0h0m-1 0.5h0m3 0h0m-7 0.5h0m11.5 0h0m-17 0.5h0m5.5 0.5h0m1.5 0h0m2.5 0h0m-10 0.5h0m2 0h0m5.5 0h0m-8.5 0.5h0m3 0h0m18.5 0h0m-13 0.5h0m5.5 0h0m-14 0.5h0m2 0h0m5 0h0m5.5 1h0m-9 0.5h0m3.5 0h0m5 0h0m-9.5 0.5h0m5.5 0h0m6 0h0m7.5 0h0m-20.5 0.5h0m2.5 0h0m4 0h0m0.5 0.5h0m4 0h0m-12.5 0.5h0m4.5 1h0m5 0h0m5 0h0m-10.5 0.5h0m3.5 0.5h0m1 0h0m2.5 0.5h0m2.5 0h0m-11.5 0.5h0m10 0h0m2 0.5h0m-11 1h0m2 0h0m9.5 0h0m-7 1h0m9 0h0m-11 0.5h0m3 0h0m2 0h0m1 0h0m3 0h0m-14.5 0.5h0m1 0h0m12 0h0m-8.5 0.5h0m0.5 0h0m2.5 0h0m4.5 0h0m7.5 0h0m-13 0.5h0m3.5 0h0m4.5 0h0m0.5 0h0m-14 0.5h0m7.5 0h0m0.5 0h0m1 0h0m4 0h0m-13 0.5h0m0.5 0h0m-1 0.5h0m2.5 0h0m11 0h0m-12 0.5h0m17 0h0m-5.5 0.5h0m-13 0.5h0m3 0h0m13.5 0h0m-14.5 0.5h0m4.5 0h0m1 0h0m-4 0.5h0m7.5 0h0m5 0h0m-16 0.5h0m1 0h0m9.5 0h0m18 0h0m-28 0.5h0m7 0h0m1.5 0h0m16 0h0m-19.5 0.5h0m2.5 0h0m5.5 0h0m0.5 0h0m-13.5 0.5h0m2.5 0h0m8.5 0.5h0m0.5 0h0m20.5 0h0m-26.5 0.5h0m1 0h0m4 0h0m-11.5 0.5h0m0.5 0h0m0.5 0h0m11.5 0h0m0.5 0h0m-7.5 0.5h0m1 0h0m1.5 0h0m0.5 0h0m-6 0.5h0m10 0h0m10.5 0h0m-22.5 0.5h0m1.5 0h0m1 0h0m0 0.5h0m5.5 0h0m2.5 0h0m3.5 0h0" stroke="#a80000" stroke-width="2.6" stroke-linecap="round" fill="none"/>
<path d="M104.5 344.5h0m0 5h0m-14 5.5h0m17 9h0m-1 1.5h0m-0.5 1.5h0m-32 3h0" stroke="#ff4a4a" stroke-width="2.6" stroke-linecap="round" fill="none"/>
<path d="M47.4 191.1V226.3" stroke="#000" stroke-width="1.3" fill="none"/>
<path d="M47.4 233V373.4H224.5" stroke="#000" stroke-width="1.3" fill="none"/>
<line x1="44.5" y1="191.1" x2="47.4" y2="191.1" stroke="#000" stroke-width="1.3" />
<text x="43.2" y="193.6" font-size="7" font-weight="bold" text-anchor="end" fill="#111" textLength="11.55" lengthAdjust="spacingAndGlyphs">300</text>
<line x1="44.5" y1="226.3" x2="50" y2="226.3" stroke="#000" stroke-width="1.3" />
<text x="43.2" y="228.7" font-size="7" font-weight="bold" text-anchor="end" fill="#111" textLength="7.7" lengthAdjust="spacingAndGlyphs">50</text>
<line x1="44.5" y1="233" x2="50" y2="233" stroke="#000" stroke-width="1.3" />
<line x1="44.5" y1="373.4" x2="47.4" y2="373.4" stroke="#000" stroke-width="1.3" />
<text x="43.2" y="375.9" font-size="7" font-weight="bold" text-anchor="end" fill="#111" textLength="3.85" lengthAdjust="spacingAndGlyphs">0</text>
<line x1="44.5" y1="345.4" x2="47.4" y2="345.4" stroke="#000" stroke-width="1.3" />
<text x="43.2" y="347.9" font-size="7" font-weight="bold" text-anchor="end" fill="#111" textLength="7.7" lengthAdjust="spacingAndGlyphs">10</text>
<line x1="44.5" y1="317.4" x2="47.4" y2="317.4" stroke="#000" stroke-width="1.3" />
<text x="43.2" y="319.9" font-size="7" font-weight="bold" text-anchor="end" fill="#111" textLength="7.7" lengthAdjust="spacingAndGlyphs">20</text>
<line x1="44.5" y1="289.4" x2="47.4" y2="289.4" stroke="#000" stroke-width="1.3" />
<text x="43.2" y="291.9" font-size="7" font-weight="bold" text-anchor="end" fill="#111" textLength="7.7" lengthAdjust="spacingAndGlyphs">30</text>
<line x1="44.5" y1="261.4" x2="47.4" y2="261.4" stroke="#000" stroke-width="1.3" />
<text x="43.2" y="263.9" font-size="7" font-weight="bold" text-anchor="end" fill="#111" textLength="7.7" lengthAdjust="spacingAndGlyphs">40</text>
<line x1="44.5" y1="233.4" x2="47.4" y2="233.4" stroke="#000" stroke-width="1.3" />
<text x="43.2" y="235.2" font-size="7" font-weight="bold" text-anchor="end" fill="#111" textLength="7.7" lengthAdjust="spacingAndGlyphs">50</text>
<line x1="76.7" y1="373.4" x2="76.7" y2="376.3" stroke="#000" stroke-width="1.3" />
<text x="76.7" y="384.6" font-size="7" font-weight="bold" text-anchor="middle" fill="#111">-1</text>
<line x1="135.1" y1="373.4" x2="135.1" y2="376.3" stroke="#000" stroke-width="1.3" />
<text x="135.1" y="384.6" font-size="7" font-weight="bold" text-anchor="middle" fill="#111">0</text>
<line x1="193.5" y1="373.4" x2="193.5" y2="376.3" stroke="#000" stroke-width="1.3" />
<text x="193.5" y="384.6" font-size="7" font-weight="bold" text-anchor="middle" fill="#111">1</text>
<text x="135" y="394.3" font-size="10.5" font-weight="bold" text-anchor="middle" textLength="38.8" lengthAdjust="spacingAndGlyphs">Log2FC</text>
<text x="30.4" y="281.5" font-size="10.5" font-weight="bold" text-anchor="middle" transform="rotate(-90 30.4 281.5)" textLength="92" lengthAdjust="spacingAndGlyphs">-Log10 adj p-value</text>
<text x="110.7" y="188.7" font-size="8.4" font-weight="bold" text-anchor="end" textLength="42.3" lengthAdjust="spacingAndGlyphs">Decreased</text>
<text x="110.7" y="198.3" font-size="8.4" font-weight="bold" text-anchor="end">by HIIT</text>
<path d="M66.6 201.6l7.5 -3.3v1.9H110.7v2.8H74.1v1.9z" fill="#ff4a4a"/>
<text x="108.6" y="210.6" font-size="8.2" font-weight="bold" text-anchor="end" fill="#ff4a4a">7</text>
<text x="159.9" y="188.7" font-size="8.4" font-weight="bold" textLength="39.3" lengthAdjust="spacingAndGlyphs">Increased</text>
<text x="159.9" y="198.3" font-size="8.4" font-weight="bold">by HIIT</text>
<path d="M159.9 200.2H196.2v-1.9L203.7 201.6L196.2 204.9v-1.9H159.9z" fill="#a80000"/>
<text x="169.6" y="210.6" font-size="8.2" font-weight="bold" fill="#a80000">444</text>
<rect x="55.2" y="212.1" width="70.5" height="89.3" rx="6" ry="6" fill="#e6e6e6" stroke="#333" stroke-width="0.9"/>
<circle cx="83.9" cy="260.4" r="24" fill="#a3a3a8" stroke="#333" stroke-width="0.7"/>
<path d="M83.9 260.4L83.9 236.4A24 24 0 0 1 96.4 239.91Z" fill="#a30000" stroke="#333" stroke-width="0.3"/>
<path d="M83.9 260.4L96.4 239.91A24 24 0 0 1 96.62 240.05Z" fill="#ff4a4a" stroke="#333" stroke-width="0.3"/>
<circle cx="83.9" cy="260.4" r="24" fill="none" stroke="#333" stroke-width="0.7"/>
<text x="79.5" y="218.1" font-size="4.8" text-anchor="middle" fill="#111" stroke="#111" stroke-width="0.18">Increased</text>
<text x="79.5" y="223.4" font-size="4.8" text-anchor="middle" fill="#111" stroke="#111" stroke-width="0.18">Abundance</text>
<text x="79.5" y="228.7" font-size="4.8" text-anchor="middle" fill="#111" stroke="#111" stroke-width="0.18">by HIIT (444)</text>
<text x="111.9" y="222.9" font-size="4.8" text-anchor="middle" fill="#111" stroke="#111" stroke-width="0.18">Decreased</text>
<text x="111.9" y="228.2" font-size="4.8" text-anchor="middle" fill="#111" stroke="#111" stroke-width="0.18">Abundance</text>
<text x="111.9" y="233.5" font-size="4.8" text-anchor="middle" fill="#111" stroke="#111" stroke-width="0.18">by HIIT (7)</text>
<line x1="83.4" y1="229.6" x2="88.8" y2="239.3" stroke="#111" stroke-width="0.6" />
<line x1="101.8" y1="233.5" x2="96" y2="241.2" stroke="#111" stroke-width="0.6" />
<text x="83.9" y="267.3" font-size="4.8" font-weight="bold" text-anchor="middle" fill="#222">Not</text>
<text x="83.9" y="272.7" font-size="4.8" font-weight="bold" text-anchor="middle" fill="#222">HIIT-regulated</text>
<text x="83.9" y="278.1" font-size="4.8" font-weight="bold" text-anchor="middle" fill="#222">(4,634)</text>
<text x="83.9" y="292.4" font-size="7.4" font-weight="bold" text-anchor="middle" fill="#111" textLength="23" lengthAdjust="spacingAndGlyphs">Proteins</text>
<text x="83.9" y="299.5" font-size="7.2" font-weight="bold" text-anchor="middle" fill="#111" textLength="47.5" lengthAdjust="spacingAndGlyphs">Identified = 5,085</text>
<text x="239.4" y="189.2" font-size="14" font-weight="bold">F</text>
<line x1="322.83" y1="192" x2="322.83" y2="374.7" stroke="#d8d8d8" stroke-width="0.7" stroke-dasharray="5 1"/>
<line x1="359.77" y1="192" x2="359.77" y2="374.7" stroke="#d8d8d8" stroke-width="0.7" stroke-dasharray="5 1"/>
<line x1="267.8" y1="368.78" x2="444.3" y2="368.78" stroke="#c4c4c4" stroke-width="0.7" stroke-dasharray="5 1"/>
<line x1="341.4" y1="192" x2="341.4" y2="374.7" stroke="#222" stroke-width="1.1" />
<path d="M323.5 253.5h0m0 2h0m1 6h0m31 2h0m2 0h0m-2 1h0m2 0h0m-30 1h0m28 6h0m1 1h0m-1 2h0m2 0h0m-31 7h0m29 0h0m-31 1h0m31 1h0m4 3h0m-7 4h0m-24 1h0m-3 4h0m26 0h0m-23 3h0m2 0h0m-2 2h0m24 7h0m-19 2h0m0 2h0m-8 1h0m24 1h0m6 0h0m-30 1h0m-2 2h0m37 1h0m-35 1h0m1 0h0m24 0h0m5 1h0m-32 1h0m6 1h0m-6 2h0m25 0h0m-24 2h0m4 1h0m7 1h0m-11 2h0m2 0h0m1 0h0m7 1h0m25 0h0m-9 1h0m4 1h0m-28 3h0m2 0h0m28 0h0m4 0h0m-36 1h0m2 0h0m2 0h0m27 0h0m4 0h0m-34 1h0m1 0h0m7 1h0m21 0h0m4 0h0m-7 1h0m4 0h0m3 1h0m-34 1h0m1 0h0m23 0h0m5 0h0m2 0h0m2 0h0m-34 1h0m1 0h0m1 0h0m3 0h0m-4 1h0m1 0h0m2 0h0m1 0h0m2 0h0m2 0h0m20 0h0m4 0h0m2 0h0m-31 1h0m2 0h0m1 0h0m17 0h0m11 0h0m-35 1h0m1 0h0m27 0h0m1 0h0m3 0h0m1 0h0m-33 1h0m3 0h0m4 0h0m25 0h0m-31 1h0m3 0h0m2 0h0m22 0h0m2 0h0m1 0h0m1 0h0m1 0h0m1 0h0m1 0h0m1 0h0m-35 1h0m1 0h0m1 0h0m1 0h0m27 0h0m3 0h0m3 0h0m-35 1h0m2 0h0m2 0h0m2 0h0m19 0h0m4 0h0m1 0h0m3 0h0m-35 1h0m1 0h0m1 0h0m2 0h0m1 0h0m1 0h0m1 0h0m20 0h0m5 0h0m1 0h0m1 0h0m-32 1h0m1 0h0m1 0h0m1 0h0m1 0h0m2 0h0m20 0h0m1 0h0m3 0h0m1 0h0m1 0h0m1 0h0m2 0h0m-36 1h0m2 0h0m1 0h0m1 0h0m4 0h0m18 0h0m3 0h0m1 0h0m4 0h0m1 0h0m-34 1h0m1 0h0m7 0h0m1 0h0m18 0h0m2 0h0m1 0h0m1 0h0m1 0h0m1 0h0m-32 1h0m1 0h0m1 0h0m1 0h0m2 0h0m22 0h0m1 0h0m2 0h0m1 0h0m-33 1h0m1 0h0m1 0h0m1 0h0m4 0h0m1 0h0m1 0h0m17 0h0m2 0h0m2 0h0m2 0h0m1 0h0m3 0h0m-37 1h0m1 0h0m3 0h0m1 0h0m3 0h0m1 0h0m2 0h0m15 0h0m1 0h0m1 0h0m1 0h0m2 0h0m1 0h0m3 0h0m2 0h0m-36 1h0m1 0h0m1 0h0m2 0h0m1 0h0m1 0h0m1 0h0m1 0h0m18 0h0m2 0h0m1 0h0m1 0h0m1 0h0m1 0h0m1 0h0m1 0h0m1 0h0m-35 1h0m3 0h0m1 0h0m1 0h0m1 0h0m1 0h0m3 0h0m1 0h0m13 0h0m3 0h0m1 0h0m1 0h0m1 0h0m1 0h0m3 0h0m-34 1h0m1 0h0m1 0h0m1 0h0m1 0h0m1 0h0m1 0h0m1 0h0m2 0h0m1 0h0m14 0h0m2 0h0m1 0h0m1 0h0m1 0h0m1 0h0m1 0h0m1 0h0m1 0h0m1 0h0m1 0h0m1 0h0m-36 1h0m1 0h0m1 0h0m1 0h0m1 0h0m1 0h0m1 0h0m1 0h0m1 0h0m1 0h0m1 0h0m14 0h0m1 0h0m1 0h0m1 0h0m1 0h0m1 0h0m1 0h0m1 0h0m2 0h0m3 0h0m-36 1h0m1 0h0m1 0h0m1 0h0m1 0h0m1 0h0m1 0h0m1 0h0m2 0h0m15 0h0m1 0h0m1 0h0m1 0h0m1 0h0m1 0h0m1 0h0m1 0h0m1 0h0m1 0h0m1 0h0m-34 1h0m1 0h0m1 0h0m1 0h0m1 0h0m1 0h0m1 0h0m1 0h0m1 0h0m1 0h0m1 0h0m1 0h0m13 0h0m1 0h0m1 0h0m1 0h0m1 0h0m1 0h0m1 0h0m1 0h0m1 0h0m1 0h0m1 0h0m-35 1h0m1 0h0m1 0h0m1 0h0m1 0h0m1 0h0m1 0h0m1 0h0m1 0h0m1 0h0m1 0h0m1 0h0m2 0h0m12 0h0m1 0h0m1 0h0m1 0h0m1 0h0m1 0h0m1 0h0m1 0h0m2 0h0m2 0h0m1 0h0m-37 1h0m1 0h0m1 0h0m1 0h0m1 0h0m1 0h0m1 0h0m1 0h0m1 0h0m1 0h0m1 0h0m1 0h0m1 0h0m1 0h0m10 0h0m1 0h0m1 0h0m1 0h0m1 0h0m1 0h0m1 0h0m1 0h0m1 0h0m1 0h0m1 0h0m1 0h0m1 0h0m1 0h0m-36 1h0m1 0h0m1 0h0m1 0h0m1 0h0m1 0h0m1 0h0m1 0h0m1 0h0m1 0h0m1 0h0m1 0h0m1 0h0m1 0h0m10 0h0m1 0h0m1 0h0m1 0h0m1 0h0m1 0h0m1 0h0m1 0h0m1 0h0m1 0h0m1 0h0m1 0h0m1 0h0m1 0h0m1 0h0m-36 1h0m1 0h0m1 0h0m1 0h0m1 0h0m1 0h0m1 0h0m1 0h0m1 0h0m1 0h0m1 0h0m1 0h0m11 0h0m1 0h0m1 0h0m1 0h0m1 0h0m1 0h0m1 0h0m1 0h0m1 0h0m1 0h0m2 0h0m1 0h0m1 0h0m-36 1h0m1 0h0m1 0h0m1 0h0m1 0h0m1 0h0m1 0h0m1 0h0m1 0h0m1 0h0m1 0h0m1 0h0m1 0h0m1 0h0m1 0h0m1 0h0m9 0h0m1 0h0m1 0h0m1 0h0m1 0h0m1 0h0m1 0h0m1 0h0m1 0h0m1 0h0m1 0h0m1 0h0m1 0h0m-36 1h0m2 0h0m1 0h0m1 0h0m1 0h0m1 0h0m1 0h0m1 0h0m1 0h0m1 0h0m1 0h0m1 0h0m1 0h0m1 0h0m9 0h0m1 0h0m1 0h0m1 0h0m1 0h0m1 0h0m1 0h0m1 0h0m1 0h0m1 0h0m1 0h0m1 0h0m1 0h0m1 0h0m-47 1h0m2 0h0m1 0h0m2 0h0m1 0h0m1 0h0m1 0h0m1 0h0m1 0h0m2 0h0m1 0h0m1 0h0m1 0h0m1 0h0m1 0h0m1 0h0m1 0h0m1 0h0m1 0h0m1 0h0m1 0h0m1 0h0m1 0h0m8 0h0m1 0h0m1 0h0m1 0h0m1 0h0m1 0h0m1 0h0m1 0h0m1 0h0m1 0h0m1 0h0m1 0h0m1 0h0m1 0h0m1 0h0m1 0h0m1 0h0m1 0h0m1 0h0m1 0h0m1 0h0m2 0h0m1 0h0m1 0h0m-67 1h0m2 0h0m3 0h0m2 0h0m4 0h0m1 0h0m1 0h0m1 0h0m1 0h0m1 0h0m1 0h0m1 0h0m1 0h0m1 0h0m1 0h0m1 0h0m1 0h0m1 0h0m1 0h0m1 0h0m1 0h0m1 0h0m1 0h0m1 0h0m1 0h0m1 0h0m1 0h0m1 0h0m1 0h0m1 0h0m7 0h0m1 0h0m1 0h0m1 0h0m1 0h0m1 0h0m1 0h0m1 0h0m1 0h0m1 0h0m1 0h0m1 0h0m1 0h0m1 0h0m1 0h0m1 0h0m1 0h0m1 0h0m1 0h0m1 0h0m1 0h0m1 0h0m1 0h0m4 0h0m1 0h0m6 0h0m5 0h0m-78 1h0m1 0h0m5 0h0m3 0h0m1 0h0m1 0h0m1 0h0m1 0h0m1 0h0m1 0h0m1 0h0m1 0h0m1 0h0m1 0h0m1 0h0m1 0h0m1 0h0m1 0h0m1 0h0m1 0h0m1 0h0m1 0h0m1 0h0m1 0h0m1 0h0m1 0h0m1 0h0m1 0h0m1 0h0m5 0h0m1 0h0m1 0h0m1 0h0m1 0h0m1 0h0m1 0h0m1 0h0m1 0h0m1 0h0m1 0h0m1 0h0m1 0h0m1 0h0m1 0h0m1 0h0m1 0h0m1 0h0m1 0h0m1 0h0m3 0h0m1 0h0m1 0h0m2 0h0m2 0h0m3 0h0m-80 1h0m13 0h0m2 0h0m2 0h0m2 0h0m1 0h0m1 0h0m1 0h0m1 0h0m1 0h0m1 0h0m1 0h0m1 0h0m1 0h0m1 0h0m1 0h0m1 0h0m1 0h0m1 0h0m1 0h0m1 0h0m1 0h0m1 0h0m1 0h0m1 0h0m1 0h0m1 0h0m1 0h0m1 0h0m1 0h0m5 0h0m1 0h0m1 0h0m1 0h0m1 0h0m1 0h0m1 0h0m1 0h0m1 0h0m1 0h0m1 0h0m1 0h0m1 0h0m1 0h0m1 0h0m1 0h0m1 0h0m1 0h0m1 0h0m1 0h0m1 0h0m1 0h0m1 0h0m2 0h0m2 0h0m19 0h0m-90 1h0m3 0h0m2 0h0m2 0h0m6 0h0m2 0h0m1 0h0m1 0h0m1 0h0m1 0h0m1 0h0m1 0h0m1 0h0m1 0h0m1 0h0m1 0h0m1 0h0m1 0h0m1 0h0m1 0h0m1 0h0m1 0h0m1 0h0m1 0h0m1 0h0m1 0h0m1 0h0m1 0h0m1 0h0m1 0h0m1 0h0m1 0h0m3 0h0m1 0h0m1 0h0m1 0h0m1 0h0m1 0h0m1 0h0m1 0h0m1 0h0m1 0h0m1 0h0m1 0h0m1 0h0m1 0h0m1 0h0m1 0h0m1 0h0m1 0h0m1 0h0m1 0h0m1 0h0m1 0h0m1 0h0m1 0h0m1 0h0m2 0h0m2 0h0m6 0h0m7 0h0m2 0h0m-79 1h0m2 0h0m1 0h0m2 0h0m2 0h0m1 0h0m1 0h0m1 0h0m1 0h0m1 0h0m1 0h0m1 0h0m1 0h0m1 0h0m1 0h0m1 0h0m1 0h0m1 0h0m1 0h0m1 0h0m1 0h0m1 0h0m1 0h0m1 0h0m1 0h0m1 0h0m1 0h0m1 0h0m1 0h0m1 0h0m1 0h0m1 0h0m1 0h0m1 0h0m1 0h0m1 0h0m1 0h0m1 0h0m1 0h0m1 0h0m1 0h0m1 0h0m1 0h0m1 0h0m1 0h0m1 0h0m1 0h0m1 0h0m1 0h0m1 0h0m1 0h0m1 0h0m1 0h0m1 0h0m1 0h0m2 0h0m1 0h0m1 0h0m3 0h0m1 0h0m2 0h0m1 0h0m9 0h0m4 0h0m-79 1h0m1 0h0m3 0h0m1 0h0m4 0h0m1 0h0m1 0h0m1 0h0m1 0h0m1 0h0m1 0h0m1 0h0m2 0h0m1 0h0m1 0h0m1 0h0m1 0h0m1 0h0m1 0h0m1 0h0m1 0h0m1 0h0m1 0h0m1 0h0m1 0h0m1 0h0m1 0h0m1 0h0m1 0h0m1 0h0m1 0h0m1 0h0m1 0h0m1 0h0m1 0h0m1 0h0m1 0h0m1 0h0m1 0h0m2 0h0m1 0h0m1 0h0m1 0h0m1 0h0m2 0h0m1 0h0m2 0h0m2 0h0m4 0h0m2 0h0m14 0h0" stroke="#a3a3a7" stroke-width="1.2" stroke-linecap="round" fill="none"/>
<path d="M320.5 321h0m-8.5 1h0m4 2.5h0m4 2.5h0m-6.5 2h0m8 1h0m-3 2.5h0m3 1h0m-2.5 2.5h0m2.5 0h0m-5 0.5h0m-2 1h0m2 0.5h0m1 1h0m3 0h0m-0.5 0.5h0m-19.5 1h0m19 2h0m-44.5 0.5h0m42 0h0m2.5 0h0m-1 1.5h0m-1.5 1.5h0m1 0h0m1 2h0m-2 1h0m1.5 2.5h0m-9 0.5h0m8 0h0m4 0h0m-7.5 0.5h0m-9.5 0.5h0m14 1h0m1.5 0h0m1 0.5h0m0.5 0h0m-24.5 0.5h0m21.5 0.5h0m2 1.5h0m-8.5 0.5h0m5.5 0h0m-1 0.5h0m2.5 0h0m2.5 0h0m-19.5 0.5h0m11.5 0h0m1.5 0h0m-0.5 0.5h0m1 0h0m6.5 0h0m-29.5 0.5h0m27.5 0h0m-13 0.5h0m1.5 0h0m11.5 0h0m1 0h0m-3 0.5h0m1 0h0m0 0.5h0m1 0h0m2 0h0m0 0.5h0m-1 0.5h0m-11.5 1h0m2 0h0m3 0h0m5 0h0m1 0h0m-3 0.5h0m1.5 0h0m2 0h0m0.5 0h0m0.5 0h0m-5.5 0.5h0m0.5 0h0m-4 0.5h0m1.5 0h0m5 0h0m-7 0.5h0m1 0h0m4.5 0h0m2 0h0m2 0h0m-10 0.5h0m2 0h0m3 0h0m0.5 0h0m0.5 0h0m1.5 0h0m-7.5 0.5h0m8.5 0h0m-26.5 0.5h0m27.5 0h0m0.5 0h0m-16 0.5h0m8 0h0m4.5 0h0m1 0h0m-11.5 0.5h0m4.5 0h0m8 0h0m1 0h0m-4.5 0.5h0m3 0h0m1.5 0h0m-3.5 0.5h0m0.5 0h0" stroke="#ff4a4a" stroke-width="2.5" stroke-linecap="round" fill="none"/>
<path d="M374 194.5h0m1.5 65.5h0m-2 17h0m-6.5 3.5h0m3.5 21.5h0m-3 3.5h0m-6.5 2h0m6 1h0m-2 3.5h0m1 8h0m-2.5 4.5h0m8 4.5h0m-4 5h0m0.5 0h0m6 1h0m-7 0.5h0m1.5 1h0m-3.5 3h0m-0.5 1h0m1.5 0h0m3.5 0h0m-5 0.5h0m3.5 1h0m9.5 2.5h0m-10 0.5h0m5.5 0h0m-9.5 1h0m1 0.5h0m0.5 0.5h0m-4.5 0.5h0m1 0h0m1 1h0m1 0h0m18 0h0m-19.5 2.5h0m1.5 0h0m7.5 0h0m-4 0.5h0m-6.5 1.5h0m5 0.5h0m17.5 0.5h0m-22.5 0.5h0m7.5 0h0m-3.5 0.5h0m8 0h0m1 0h0m-11.5 0.5h0m6 0h0m2.5 0h0m-1 0.5h0m0.5 0h0m-6.5 0.5h0m5 0h0m-7.5 0.5h0m7.5 0h0m6.5 0h0m-13.5 0.5h0m1 0h0m5.5 0h0m-6 0.5h0m4.5 0h0m2.5 0h0m-8 0.5h0m3 0h0m-3 0.5h0m0.5 0h0m0.5 0h0m0.5 0h0m1 0h0m-2 1h0m2.5 0.5h0m2.5 0h0m-3.5 0.5h0m2.5 0h0m10 0h0m5 0h0m-19.5 0.5h0m0.5 0h0m0.5 0h0m-1.5 0.5h0m0.5 0h0m1 0h0m2.5 0h0m-2 0.5h0m1 0h0m3 0h0m0.5 0h0m1.5 0h0m1.5 0h0m0.5 0h0m-7 0.5h0m6.5 0h0m-8.5 0.5h0m0.5 0h0m1.5 0h0m1.5 0h0m4 0h0m0.5 0h0m1 0h0m3 0h0m-7.5 0.5h0m12 0h0m-17 0.5h0m0.5 0h0m0.5 0h0m4 0h0m8.5 0h0m-13.5 0.5h0m0.5 0h0m3.5 0h0m7 0h0m-10 0.5h0m1.5 0h0m2.5 0h0m2 0h0m20 0h0m-26.5 0.5h0m3 0h0m1 0h0m7 0h0m-11.5 0.5h0m1 0h0m2.5 0h0m7 0h0m14 0h0m-22 0.5h0m5 0h0m-8 0.5h0m1.5 0h0m1.5 0h0m0.5 0h0m1 0h0m0.5 0h0m1.5 0h0m0.5 0h0m4.5 0h0m-10.5 0.5h0m0.5 0h0m3.5 0h0m0.5 0h0m3.5 0h0m5 0h0m-14 0.5h0m3.5 0h0m3.5 0h0m1.5 0h0" stroke="#a80000" stroke-width="2.5" stroke-linecap="round" fill="none"/>
<path d="M267.8 192V209.7" stroke="#000" stroke-width="1.3" fill="none"/>
<path d="M267.8 215.3V374.7H444.3" stroke="#000" stroke-width="1.3" fill="none"/>
<line x1="264.9" y1="192" x2="267.8" y2="192" stroke="#000" stroke-width="1.3" />
<text x="263.6" y="194.5" font-size="7" font-weight="bold" text-anchor="end" fill="#111" textLength="11.55" lengthAdjust="spacingAndGlyphs">300</text>
<line x1="264.9" y1="209.7" x2="270.4" y2="209.7" stroke="#000" stroke-width="1.3" />
<text x="263.6" y="212.1" font-size="7" font-weight="bold" text-anchor="end" fill="#111" textLength="7.7" lengthAdjust="spacingAndGlyphs">35</text>
<line x1="264.9" y1="215.3" x2="270.4" y2="215.3" stroke="#000" stroke-width="1.3" />
<line x1="264.9" y1="374.7" x2="267.8" y2="374.7" stroke="#000" stroke-width="1.3" />
<text x="263.6" y="377.2" font-size="7" font-weight="bold" text-anchor="end" fill="#111" textLength="3.85" lengthAdjust="spacingAndGlyphs">0</text>
<line x1="264.9" y1="351.93" x2="267.8" y2="351.93" stroke="#000" stroke-width="1.3" />
<text x="263.6" y="354.43" font-size="7" font-weight="bold" text-anchor="end" fill="#111" textLength="3.85" lengthAdjust="spacingAndGlyphs">5</text>
<line x1="264.9" y1="329.16" x2="267.8" y2="329.16" stroke="#000" stroke-width="1.3" />
<text x="263.6" y="331.66" font-size="7" font-weight="bold" text-anchor="end" fill="#111" textLength="7.7" lengthAdjust="spacingAndGlyphs">10</text>
<line x1="264.9" y1="306.39" x2="267.8" y2="306.39" stroke="#000" stroke-width="1.3" />
<text x="263.6" y="308.89" font-size="7" font-weight="bold" text-anchor="end" fill="#111" textLength="7.7" lengthAdjust="spacingAndGlyphs">15</text>
<line x1="264.9" y1="283.62" x2="267.8" y2="283.62" stroke="#000" stroke-width="1.3" />
<text x="263.6" y="286.12" font-size="7" font-weight="bold" text-anchor="end" fill="#111" textLength="7.7" lengthAdjust="spacingAndGlyphs">20</text>
<line x1="264.9" y1="260.85" x2="267.8" y2="260.85" stroke="#000" stroke-width="1.3" />
<text x="263.6" y="263.35" font-size="7" font-weight="bold" text-anchor="end" fill="#111" textLength="7.7" lengthAdjust="spacingAndGlyphs">25</text>
<line x1="264.9" y1="238.08" x2="267.8" y2="238.08" stroke="#000" stroke-width="1.3" />
<text x="263.6" y="240.58" font-size="7" font-weight="bold" text-anchor="end" fill="#111" textLength="7.7" lengthAdjust="spacingAndGlyphs">30</text>
<line x1="264.9" y1="215.31" x2="267.8" y2="215.31" stroke="#000" stroke-width="1.3" />
<text x="263.6" y="217.11" font-size="7" font-weight="bold" text-anchor="end" fill="#111" textLength="7.7" lengthAdjust="spacingAndGlyphs">35</text>
<line x1="292.3" y1="374.7" x2="292.3" y2="377.6" stroke="#000" stroke-width="1.3" />
<text x="292.3" y="385.9" font-size="7" font-weight="bold" text-anchor="middle" fill="#111">-1</text>
<line x1="341.3" y1="374.7" x2="341.3" y2="377.6" stroke="#000" stroke-width="1.3" />
<text x="341.3" y="385.9" font-size="7" font-weight="bold" text-anchor="middle" fill="#111">0</text>
<line x1="390.3" y1="374.7" x2="390.3" y2="377.6" stroke="#000" stroke-width="1.3" />
<text x="390.3" y="385.9" font-size="7" font-weight="bold" text-anchor="middle" fill="#111">1</text>
<line x1="439.3" y1="374.7" x2="439.3" y2="377.6" stroke="#000" stroke-width="1.3" />
<text x="439.3" y="385.9" font-size="7" font-weight="bold" text-anchor="middle" fill="#111">2</text>
<text x="356" y="395.4" font-size="10.5" font-weight="bold" text-anchor="middle" textLength="38.8" lengthAdjust="spacingAndGlyphs">Log2FC</text>
<text x="251.4" y="281.7" font-size="10.5" font-weight="bold" text-anchor="middle" transform="rotate(-90 251.4 281.7)" textLength="92" lengthAdjust="spacingAndGlyphs">-Log10 adj p-value</text>
<text x="320.5" y="210.6" font-size="8.4" font-weight="bold" text-anchor="end" textLength="42.3" lengthAdjust="spacingAndGlyphs">Decreased</text>
<text x="320.5" y="220.2" font-size="8.4" font-weight="bold" text-anchor="end">by HIIT</text>
<path d="M276.2 223.3l7.5 -3.3v1.9H320.5v2.8H283.7v1.9z" fill="#ff4a4a"/>
<text x="318.7" y="232.5" font-size="8.2" font-weight="bold" text-anchor="end" fill="#ff4a4a">114</text>
<text x="362" y="210.6" font-size="8.4" font-weight="bold" textLength="39.3" lengthAdjust="spacingAndGlyphs">Increased</text>
<text x="362" y="220.2" font-size="8.4" font-weight="bold">by HIIT</text>
<path d="M362 221.9H398.5v-1.9L406 223.3L398.5 226.6v-1.9H362z" fill="#a80000"/>
<text x="364" y="232.5" font-size="8.2" font-weight="bold" fill="#a80000">158</text>
<rect x="379.3" y="239.8" width="74.3" height="102.2" rx="6" ry="6" fill="#e6e6e6" stroke="#333" stroke-width="0.9"/>
<circle cx="411.2" cy="304.3" r="24" fill="#a3a3a8" stroke="#333" stroke-width="0.7"/>
<path d="M411.2 304.3L411.2 280.3A24 24 0 0 1 413.81 280.44Z" fill="#a30000" stroke="#333" stroke-width="0.3"/>
<path d="M411.2 304.3L413.81 280.44A24 24 0 0 1 415.68 280.72Z" fill="#ff4a4a" stroke="#333" stroke-width="0.3"/>
<circle cx="411.2" cy="304.3" r="24" fill="none" stroke="#333" stroke-width="0.7"/>
<text x="399.8" y="247.2" font-size="4.8" text-anchor="middle" fill="#111" stroke="#111" stroke-width="0.18">Increased</text>
<text x="399.8" y="252.5" font-size="4.8" text-anchor="middle" fill="#111" stroke="#111" stroke-width="0.18">Phosphorylation</text>
<text x="399.8" y="257.8" font-size="4.8" text-anchor="middle" fill="#111" stroke="#111" stroke-width="0.18">by HIIT (158)</text>
<text x="433.7" y="263.2" font-size="4.8" text-anchor="middle" fill="#111" stroke="#111" stroke-width="0.18">Decreased</text>
<text x="433.7" y="268.5" font-size="4.8" text-anchor="middle" fill="#111" stroke="#111" stroke-width="0.18">Phosphorylation</text>
<text x="433.7" y="273.8" font-size="4.8" text-anchor="middle" fill="#111" stroke="#111" stroke-width="0.18">by HIIT (114)</text>
<line x1="401.8" y1="259.5" x2="411.6" y2="280" stroke="#111" stroke-width="0.6" />
<line x1="429.8" y1="275" x2="414.3" y2="280.5" stroke="#111" stroke-width="0.6" />
<text x="411.2" y="309.4" font-size="4.8" font-weight="bold" text-anchor="middle" fill="#222">Not</text>
<text x="411.2" y="314.8" font-size="4.8" font-weight="bold" text-anchor="middle" fill="#222">HIIT-regulated</text>
<text x="411.2" y="320.2" font-size="4.8" font-weight="bold" text-anchor="middle" fill="#222">(8,826)</text>
<text x="410.9" y="334.4" font-size="7.4" font-weight="bold" text-anchor="middle" fill="#111" textLength="50" lengthAdjust="spacingAndGlyphs">Phosphopeptides</text>
<text x="410.9" y="341.1" font-size="7.2" font-weight="bold" text-anchor="middle" fill="#111" textLength="48" lengthAdjust="spacingAndGlyphs">Identified = 9,098</text>
<text x="471.2" y="190.8" font-size="14" font-weight="bold">I</text>
<line x1="570.73" y1="187.5" x2="570.73" y2="371.7" stroke="#d8d8d8" stroke-width="0.7" stroke-dasharray="5 1"/>
<line x1="611.07" y1="187.5" x2="611.07" y2="371.7" stroke="#d8d8d8" stroke-width="0.7" stroke-dasharray="5 1"/>
<line x1="502.2" y1="367.71" x2="680.5" y2="367.71" stroke="#c4c4c4" stroke-width="0.7" stroke-dasharray="5 1"/>
<line x1="591" y1="187.5" x2="591" y2="371.7" stroke="#8a8a8a" stroke-width="1.6" />
<path d="M571.5 345.5h0m4 5h0m-1 1h0m37 1h0m-5 1h0m1 0h0m-36 1h0m36 0h0m-6 1h0m6 0h0m1 0h0m3 0h0m-36 1h0m36 0h0m-29 1h0m24 0h0m4 1h0m-5 1h0m4 0h0m1 0h0m1 0h0m-33 1h0m26 0h0m3 0h0m-36 1h0m3 0h0m28 0h0m4 0h0m1 0h0m2 0h0m-33 1h0m27 0h0m2 0h0m1 0h0m2 0h0m1 0h0m1 0h0m-35 1h0m1 0h0m1 0h0m3 0h0m1 0h0m18 0h0m1 0h0m3 0h0m1 0h0m1 0h0m1 0h0m1 0h0m1 0h0m1 0h0m-38 1h0m5 0h0m1 0h0m1 0h0m1 0h0m19 0h0m1 0h0m1 0h0m2 0h0m1 0h0m1 0h0m1 0h0m1 0h0m1 0h0m2 0h0m-38 1h0m1 0h0m1 0h0m3 0h0m1 0h0m1 0h0m2 0h0m1 0h0m2 0h0m18 0h0m1 0h0m1 0h0m1 0h0m1 0h0m1 0h0m1 0h0m1 0h0m-36 1h0m1 0h0m3 0h0m1 0h0m1 0h0m1 0h0m1 0h0m1 0h0m2 0h0m1 0h0m12 0h0m2 0h0m2 0h0m1 0h0m1 0h0m1 0h0m2 0h0m1 0h0m1 0h0m1 0h0m1 0h0m2 0h0m-39 1h0m3 0h0m3 0h0m1 0h0m1 0h0m1 0h0m1 0h0m1 0h0m1 0h0m1 0h0m12 0h0m1 0h0m1 0h0m1 0h0m1 0h0m1 0h0m1 0h0m1 0h0m1 0h0m1 0h0m1 0h0m1 0h0m-46 1h0m1 0h0m1 0h0m4 0h0m2 0h0m1 0h0m1 0h0m1 0h0m1 0h0m1 0h0m1 0h0m1 0h0m1 0h0m1 0h0m1 0h0m1 0h0m1 0h0m1 0h0m1 0h0m1 0h0m1 0h0m10 0h0m1 0h0m1 0h0m1 0h0m1 0h0m1 0h0m1 0h0m1 0h0m1 0h0m1 0h0m1 0h0m1 0h0m1 0h0m1 0h0m1 0h0m1 0h0m1 0h0m1 0h0m1 0h0m1 0h0m2 0h0m2 0h0m1 0h0m-58 1h0m2 0h0m4 0h0m2 0h0m1 0h0m1 0h0m1 0h0m1 0h0m2 0h0m1 0h0m1 0h0m1 0h0m1 0h0m1 0h0m1 0h0m1 0h0m1 0h0m1 0h0m1 0h0m1 0h0m8 0h0m1 0h0m1 0h0m1 0h0m1 0h0m1 0h0m1 0h0m1 0h0m1 0h0m1 0h0m1 0h0m1 0h0m1 0h0m1 0h0m1 0h0m3 0h0m1 0h0m1 0h0m2 0h0m1 0h0m7 0h0m1 0h0m3 0h0m-65 1h0m4 0h0m1 0h0m2 0h0m1 0h0m2 0h0m1 0h0m1 0h0m1 0h0m1 0h0m1 0h0m1 0h0m1 0h0m1 0h0m1 0h0m1 0h0m1 0h0m1 0h0m1 0h0m1 0h0m1 0h0m7 0h0m1 0h0m1 0h0m1 0h0m1 0h0m1 0h0m1 0h0m1 0h0m1 0h0m1 0h0m1 0h0m1 0h0m1 0h0m1 0h0m1 0h0m3 0h0m1 0h0m1 0h0m3 0h0m1 0h0m5 0h0m-84 1h0m23 0h0m1 0h0m2 0h0m1 0h0m2 0h0m1 0h0m1 0h0m1 0h0m1 0h0m1 0h0m1 0h0m2 0h0m1 0h0m1 0h0m1 0h0m1 0h0m1 0h0m1 0h0m1 0h0m1 0h0m1 0h0m1 0h0m1 0h0m1 0h0m1 0h0m1 0h0m2 0h0m1 0h0m1 0h0m1 0h0m1 0h0m1 0h0m1 0h0m1 0h0m1 0h0m1 0h0m1 0h0m1 0h0m1 0h0m1 0h0m1 0h0m1 0h0m2 0h0m1 0h0m1 0h0m1 0h0m2 0h0m1 0h0m1 0h0m10 0h0m19 0h0m-87 1h0m5 0h0m3 0h0m10 0h0m1 0h0m2 0h0m1 0h0m2 0h0m1 0h0m1 0h0m1 0h0m1 0h0m1 0h0m1 0h0m1 0h0m1 0h0m1 0h0m1 0h0m1 0h0m1 0h0m1 0h0m1 0h0m1 0h0m1 0h0m1 0h0m1 0h0m1 0h0m2 0h0m2 0h0m7 0h0m1 0h0" stroke="#a3a3a7" stroke-width="1.2" stroke-linecap="round" fill="none"/>
<path d="M563.5 351.5h0m-1 10.5h0m8 4.5h0" stroke="#ff4a4a" stroke-width="2.5" stroke-linecap="round" fill="none"/>
<path d="M627.5 195h0m10 40h0m28.5 17h0m-36.5 10.5h0m16 9.5h0m-22.5 7.5h0m47.5 2.5h0m-16.5 3.5h0m1 2h0m-13.5 4.5h0m23 1.5h0m-5.5 4h0m1.5 6.5h0m-38.5 3h0m9 0h0m16 0h0m-0.5 2.5h0m-5 2.5h0m13.5 1.5h0m16 3h0m-25 0.5h0m-1 1h0m-21 1.5h0m19 7.5h0m11.5 0h0m19.5 0h0m-36 1h0m-16.5 0.5h0m33 0.5h0m-20 0.5h0m6.5 0h0m-5 1h0m3.5 0.5h0m-9 2.5h0m38 1.5h0m-42 0.5h0m1.5 0h0m-0.5 0.5h0m4 1.5h0m16.5 0h0m-22.5 0.5h0m12 0h0m6.5 0h0m-9.5 0.5h0m6 0h0m5.5 0.5h0m-7.5 1.5h0m-0.5 0.5h0m1 0h0m5 0h0m-8 0.5h0m4 0.5h0m13.5 0.5h0m23 0h0m-56 0.5h0m3 1h0m-6 0.5h0m16 0h0m8.5 0h0m-4 0.5h0m1 0.5h0m-17.5 0.5h0m8 0h0m15.5 0h0m-14.5 0.5h0m-6 0.5h0m1.5 0h0m0.5 0h0m0.5 0h0m1 0h0m7.5 0h0m3.5 0h0m-9 1h0m-5.5 0.5h0m7 0h0m-16 0.5h0m24 0h0m0.5 0h0m12 0h0m-30 0.5h0m12.5 0h0m0.5 0h0m14.5 0h0m-36 0.5h0m12.5 0h0m18.5 0h0m-26.5 0.5h0m12 0h0m18 0h0m-23 0.5h0m1 0h0m0.5 0h0m0.5 0h0m7 0h0m1 0h0m-16.5 0.5h0m3.5 0h0m10 0h0m3 0h0m-13.5 0.5h0m5 0h0m2 0h0m-12.5 0.5h0m8.5 0h0m2.5 0h0m1 0h0m2.5 0h0m7.5 0h0m0.5 0h0m6.5 0h0m8.5 0h0m-31 0.5h0m3 0h0m0.5 0h0m3 0h0m3.5 0h0m9 0h0m15 0h0m-24.5 0.5h0m1 0h0m7 0h0m10.5 0h0m7.5 0h0m-41 0.5h0m2.5 0h0m4 0h0m0.5 0h0m4.5 0h0m-11 0.5h0m3 0h0m0.5 0h0m2.5 0h0m1.5 0h0m7 0h0m3.5 0h0m7.5 0h0m25.5 0h0m-51.5 0.5h0m0.5 0h0m5 0h0m3.5 0h0m1.5 0h0m2.5 0h0m5.5 0h0m27.5 0h0m-49 0.5h0m4 0h0m2.5 0h0m1 0h0m3 0h0m0.5 0h0m1 0h0m7.5 0h0m4 0h0m3 0h0m17 0h0m1 0h0m-42.5 0.5h0m0.5 0h0m1.5 0h0m1 0h0m3 0h0m0.5 0h0m1.5 0h0m6.5 0h0m4 0h0m29 0h0m-47 0.5h0m1 0h0m1 0h0m1 0h0m1.5 0h0m3 0h0m4 0h0m2.5 0h0m2.5 0h0m3.5 0h0m0.5 0h0m1.5 0h0m9 0h0m-35 0.5h0m3 0h0m0.5 0h0m1.5 0h0m2.5 0h0m1 0h0m4 0h0m1 0h0m0.5 0h0m7 0h0m-18.5 0.5h0m2 0h0m5.5 0h0m3.5 0h0m1 0h0m5 0h0m26.5 0h0m-42.5 0.5h0m0.5 0h0m2 0h0m0.5 0h0m1.5 0h0m0.5 0h0m0.5 0h0m10 0h0m11.5 0h0m12.5 0h0m-40.5 0.5h0m2.5 0h0m1.5 0h0m2 0h0m2.5 0h0m0.5 0h0m1 0h0m0.5 0h0m0.5 0h0m1 0h0m1 0h0m1.5 0h0m0.5 0h0m10 0h0m-25 0.5h0m5.5 0h0m1.5 0h0m1.5 0h0m2.5 0h0m0.5 0h0m2 0h0m1.5 0h0m1 0h0m14.5 0h0m11.5 0h0m-40.5 0.5h0m1 0h0m1.5 0h0m2.5 0h0m0.5 0h0m10.5 0h0m0.5 0h0m2 0h0m2 0h0m-23 0.5h0m4 0h0m1 0h0m0.5 0h0m1 0h0m5 0h0m1.5 0h0m1.5 0h0m-12.5 0.5h0m0.5 0h0m2 0h0m1 0h0m0.5 0h0m1 0h0m0.5 0h0m5.5 0h0m2.5 0h0m2 0h0m0.5 0h0m2 0h0m1 0h0m1.5 0h0m-24.5 0.5h0m2 0h0m1 0h0m0.5 0h0m1 0h0m0.5 0h0m0.5 0h0m1.5 0h0m1 0h0m1.5 0h0m0.5 0h0m3 0h0m1 0h0m0.5 0h0m2.5 0h0m0.5 0h0m1 0h0m1 0h0m2 0h0m1 0h0m1 0h0m7.5 0h0m-29.5 0.5h0m3 0h0m2 0h0m4.5 0h0m1 0h0m1.5 0h0m1.5 0h0m4 0h0m0.5 0h0m2.5 0h0m3.5 0h0m-23 0.5h0m0.5 0h0m1 0h0m1.5 0h0m0.5 0h0m3.5 0h0m2 0h0m1 0h0m0.5 0h0m14.5 0h0m1.5 0h0m1.5 0h0m-29 0.5h0m1 0h0m0.5 0h0m1 0h0m0.5 0h0m1 0h0m0.5 0h0m0.5 0h0m1.5 0h0m3 0h0m0.5 0h0m1 0h0m1.5 0h0m1 0h0m1.5 0h0m1.5 0h0m1 0h0m2.5 0h0m-21.5 0.5h0m0.5 0h0m0.5 0h0m0.5 0h0m0.5 0h0m1.5 0h0m1 0h0m0.5 0h0m3 0h0m0.5 0h0m0.5 0h0m0.5 0h0m0.5 0h0m1 0h0m1.5 0h0m1 0h0m0.5 0h0m2.5 0h0m10.5 0h0m-25.5 0.5h0m1.5 0h0m0.5 0h0m1 0h0m0.5 0h0m0.5 0h0m2 0h0m0.5 0h0m0.5 0h0m2 0h0m0.5 0h0m2 0h0m1.5 0h0m2 0h0m1 0h0m2.5 0h0m2 0h0m-20 0.5h0m1.5 0h0m0.5 0h0m1 0h0m0.5 0h0m0.5 0h0m1 0h0m1 0h0m1 0h0m4 0h0m3 0h0m3.5 0h0m2 0h0m1.5 0h0m7.5 0h0m-29.5 0.5h0m0.5 0h0m1 0h0m2.5 0h0m0.5 0h0m2 0h0m1.5 0h0m3 0h0m2.5 0h0m0.5 0h0m5.5 0h0m4 0h0m5 0h0m7 0h0m-35.5 0.5h0m0.5 0h0m0.5 0h0m0.5 0h0m0.5 0h0m0.5 0h0m0.5 0h0m1 0h0m0.5 0h0m1.5 0h0m1 0h0m1 0h0m1.5 0h0m0.5 0h0m0.5 0h0m1 0h0m3 0h0m3.5 0h0m7.5 0h0m18.5 0h0m-43.5 0.5h0m1.5 0h0m1 0h0m4.5 0h0m0.5 0h0m0.5 0h0m1 0h0m1.5 0h0m25 0h0m-36.5 0.5h0m2.5 0h0m0.5 0h0m1.5 0h0m0.5 0h0m3.5 0h0m-9 0.5h0m1 0h0m0.5 0h0m1.5 0h0m0.5 0h0m1 0h0m3 0h0m2 0h0m1 0h0m4 0h0m5 0h0m-19.5 0.5h0m1.5 0h0m1 0h0m4.5 0h0m9.5 0h0m10 0h0" stroke="#a80000" stroke-width="2.5" stroke-linecap="round" fill="none"/>
<path d="M502.2 187.5V371.7H680.5" stroke="#000" stroke-width="1.3" fill="none"/>
<line x1="499.3" y1="371.7" x2="502.2" y2="371.7" stroke="#000" stroke-width="1.3" />
<text x="498" y="374.2" font-size="7" font-weight="bold" text-anchor="end" fill="#111" textLength="3.85" lengthAdjust="spacingAndGlyphs">0</text>
<line x1="499.3" y1="310.3" x2="502.2" y2="310.3" stroke="#000" stroke-width="1.3" />
<text x="498" y="312.8" font-size="7" font-weight="bold" text-anchor="end" fill="#111" textLength="7.7" lengthAdjust="spacingAndGlyphs">20</text>
<line x1="499.3" y1="248.9" x2="502.2" y2="248.9" stroke="#000" stroke-width="1.3" />
<text x="498" y="251.4" font-size="7" font-weight="bold" text-anchor="end" fill="#111" textLength="7.7" lengthAdjust="spacingAndGlyphs">40</text>
<line x1="499.3" y1="187.5" x2="502.2" y2="187.5" stroke="#000" stroke-width="1.3" />
<text x="498" y="190" font-size="7" font-weight="bold" text-anchor="end" fill="#111" textLength="7.7" lengthAdjust="spacingAndGlyphs">60</text>
<line x1="510.65" y1="371.7" x2="510.65" y2="374.6" stroke="#000" stroke-width="1.3" />
<text x="510.65" y="382.9" font-size="7" font-weight="bold" text-anchor="middle" fill="#111">-1.5</text>
<line x1="537.4" y1="371.7" x2="537.4" y2="374.6" stroke="#000" stroke-width="1.3" />
<text x="537.4" y="382.9" font-size="7" font-weight="bold" text-anchor="middle" fill="#111">-1.0</text>
<line x1="564.15" y1="371.7" x2="564.15" y2="374.6" stroke="#000" stroke-width="1.3" />
<text x="564.15" y="382.9" font-size="7" font-weight="bold" text-anchor="middle" fill="#111">-0.5</text>
<line x1="590.9" y1="371.7" x2="590.9" y2="374.6" stroke="#000" stroke-width="1.3" />
<text x="590.9" y="382.9" font-size="7" font-weight="bold" text-anchor="middle" fill="#111">0.0</text>
<line x1="617.65" y1="371.7" x2="617.65" y2="374.6" stroke="#000" stroke-width="1.3" />
<text x="617.65" y="382.9" font-size="7" font-weight="bold" text-anchor="middle" fill="#111">0.5</text>
<line x1="644.4" y1="371.7" x2="644.4" y2="374.6" stroke="#000" stroke-width="1.3" />
<text x="644.4" y="382.9" font-size="7" font-weight="bold" text-anchor="middle" fill="#111">1.0</text>
<line x1="671.15" y1="371.7" x2="671.15" y2="374.6" stroke="#000" stroke-width="1.3" />
<text x="671.15" y="382.9" font-size="7" font-weight="bold" text-anchor="middle" fill="#111">1.5</text>
<text x="591.2" y="396.3" font-size="10.5" font-weight="bold" text-anchor="middle" textLength="38.8" lengthAdjust="spacingAndGlyphs">Log2FC</text>
<text x="485.2" y="278.8" font-size="10.5" font-weight="bold" text-anchor="middle" transform="rotate(-90 485.2 278.8)" textLength="92" lengthAdjust="spacingAndGlyphs">-Log10 adj p-value</text>
<text x="569.5" y="209.4" font-size="8.4" font-weight="bold" text-anchor="end" textLength="42.3" lengthAdjust="spacingAndGlyphs">Decreased</text>
<text x="569.5" y="219" font-size="8.4" font-weight="bold" text-anchor="end">by HIIT</text>
<path d="M525.3 222.1l7.5 -3.3v1.9H569.5v2.8H532.8v1.9z" fill="#ff4a4a"/>
<text x="567.7" y="231.3" font-size="8.2" font-weight="bold" text-anchor="end" fill="#ff4a4a">3</text>
<text x="613.9" y="209.4" font-size="8.4" font-weight="bold" textLength="39.3" lengthAdjust="spacingAndGlyphs">Increased</text>
<text x="613.9" y="219" font-size="8.4" font-weight="bold">by HIIT</text>
<path d="M613.9 220.7H651.2v-1.9L658.7 222.1L651.2 225.4v-1.9H613.9z" fill="#a80000"/>
<text x="616" y="231.3" font-size="8.2" font-weight="bold" fill="#a80000">504</text>
<rect x="504.3" y="248.3" width="85.5" height="78.1" rx="6" ry="6" fill="#e6e6e6" stroke="#333" stroke-width="0.9"/>
<circle cx="532.9" cy="286.6" r="24.5" fill="#a3a3a8" stroke="#333" stroke-width="0.7"/>
<path d="M532.9 286.6L532.9 262.1A24.5 24.5 0 0 1 557 282.18Z" fill="#a30000" stroke="#333" stroke-width="0.3"/>
<path d="M532.9 286.6L557 282.18A24.5 24.5 0 0 1 557.04 282.39Z" fill="#ff4a4a" stroke="#333" stroke-width="0.3"/>
<circle cx="532.9" cy="286.6" r="24.5" fill="none" stroke="#333" stroke-width="0.7"/>
<text x="567.2" y="253.7" font-size="4.8" text-anchor="middle" fill="#111" stroke="#111" stroke-width="0.18">Increased</text>
<text x="567.2" y="259" font-size="4.8" text-anchor="middle" fill="#111" stroke="#111" stroke-width="0.18">Acetylation</text>
<text x="567.2" y="264.3" font-size="4.8" text-anchor="middle" fill="#111" stroke="#111" stroke-width="0.18">by HIIT (504)</text>
<text x="575.2" y="278" font-size="4.8" text-anchor="middle" fill="#111" stroke="#111" stroke-width="0.18">Decreased</text>
<text x="575.2" y="283.3" font-size="4.8" text-anchor="middle" fill="#111" stroke="#111" stroke-width="0.18">Acetylation</text>
<text x="575.2" y="288.6" font-size="4.8" text-anchor="middle" fill="#111" stroke="#111" stroke-width="0.18">by HIIT (3)</text>
<line x1="546.5" y1="271" x2="554.2" y2="264.3" stroke="#111" stroke-width="0.6" />
<line x1="556.2" y1="282.3" x2="563" y2="279.4" stroke="#111" stroke-width="0.6" />
<text x="532.9" y="293.7" font-size="4.8" font-weight="bold" text-anchor="middle" fill="#222">Not</text>
<text x="532.9" y="299.1" font-size="4.8" font-weight="bold" text-anchor="middle" fill="#222">HIIT-regulated</text>
<text x="532.9" y="304.5" font-size="4.8" font-weight="bold" text-anchor="middle" fill="#222">(1,771)</text>
<text x="531.9" y="318" font-size="7.4" font-weight="bold" text-anchor="middle" fill="#111" textLength="44" lengthAdjust="spacingAndGlyphs">Acetylpeptides</text>
<text x="531.9" y="325" font-size="7.2" font-weight="bold" text-anchor="middle" fill="#111" textLength="50" lengthAdjust="spacingAndGlyphs">Identified = 2,278</text>
<text x="18.5" y="406.5" font-size="14" font-weight="bold">D</text>
<line x1="113.08" y1="413" x2="113.08" y2="595.4" stroke="#d8d8d8" stroke-width="0.7" stroke-dasharray="5 1"/>
<line x1="157.12" y1="413" x2="157.12" y2="595.4" stroke="#d8d8d8" stroke-width="0.7" stroke-dasharray="5 1"/>
<line x1="47.4" y1="591.76" x2="224.5" y2="591.76" stroke="#c4c4c4" stroke-width="0.7" stroke-dasharray="5 1"/>
<line x1="135.4" y1="413" x2="135.4" y2="595.4" stroke="#222" stroke-width="1.1" />
<path d="M117.5 500.5h0m37 2h0m-33 9h0m2 6h0m32 1h0m-3 1h0m-31 4h0m33 5h0m-3 2h0m3 0h0m3 0h0m-40 4h0m28 1h0m5 0h0m4 0h0m-5 2h0m4 1h0m-7 1h0m3 0h0m5 0h0m0 1h0m-26 1h0m22 0h0m1 0h0m-3 2h0m6 0h0m2 0h0m-5 1h0m2 0h0m-26 2h0m19 0h0m3 0h0m5 0h0m3 0h0m-36 1h0m29 0h0m4 0h0m2 0h0m-12 2h0m7 0h0m-10 1h0m6 0h0m3 0h0m2 0h0m-3 1h0m4 0h0m1 0h0m-38 1h0m35 0h0m1 0h0m4 0h0m-32 1h0m21 0h0m2 0h0m5 0h0m2 0h0m-30 1h0m24 0h0m1 0h0m2 0h0m2 0h0m2 0h0m1 0h0m1 0h0m-16 1h0m8 0h0m2 0h0m3 0h0m-10 1h0m2 0h0m1 0h0m4 0h0m6 0h0m-40 1h0m11 0h0m14 0h0m4 0h0m6 0h0m3 0h0m1 0h0m1 0h0m-9 1h0m2 0h0m5 0h0m-7 1h0m1 0h0m1 0h0m4 0h0m-10 1h0m1 0h0m3 0h0m3 0h0m1 0h0m2 0h0m2 0h0m-30 1h0m20 0h0m1 0h0m1 0h0m3 0h0m1 0h0m3 0h0m1 0h0m-28 1h0m3 0h0m13 0h0m1 0h0m3 0h0m1 0h0m1 0h0m1 0h0m-30 1h0m4 0h0m17 0h0m3 0h0m3 0h0m3 0h0m4 0h0m2 0h0m-34 1h0m27 0h0m2 0h0m2 0h0m2 0h0m-31 1h0m5 0h0m17 0h0m2 0h0m-8 1h0m1 0h0m3 0h0m1 0h0m1 0h0m1 0h0m1 0h0m2 0h0m1 0h0m5 0h0m-10 1h0m1 0h0m1 0h0m1 0h0m1 0h0m1 0h0m2 0h0m-12 1h0m3 0h0m5 0h0m1 0h0m2 0h0m1 0h0m1 0h0m1 0h0m-32 1h0m17 0h0m2 0h0m1 0h0m1 0h0m2 0h0m1 0h0m1 0h0m1 0h0m1 0h0m1 0h0m3 0h0m1 0h0m1 0h0m-29 1h0m12 0h0m1 0h0m1 0h0m2 0h0m1 0h0m2 0h0m1 0h0m1 0h0m1 0h0m2 0h0m1 0h0m2 0h0m1 0h0m1 0h0m-31 1h0m3 0h0m13 0h0m2 0h0m1 0h0m2 0h0m1 0h0m1 0h0m1 0h0m1 0h0m1 0h0m1 0h0m1 0h0m3 0h0m-36 1h0m4 0h0m3 0h0m12 0h0m1 0h0m1 0h0m2 0h0m1 0h0m1 0h0m1 0h0m1 0h0m1 0h0m1 0h0m1 0h0m1 0h0m2 0h0m1 0h0m1 0h0m1 0h0m-37 1h0m6 0h0m15 0h0m1 0h0m1 0h0m1 0h0m1 0h0m2 0h0m2 0h0m1 0h0m1 0h0m1 0h0m2 0h0m1 0h0m1 0h0m-16 1h0m5 0h0m1 0h0m1 0h0m1 0h0m1 0h0m1 0h0m1 0h0m1 0h0m1 0h0m1 0h0m2 0h0m-30 1h0m16 0h0m1 0h0m1 0h0m1 0h0m1 0h0m1 0h0m1 0h0m1 0h0m1 0h0m1 0h0m1 0h0m2 0h0m1 0h0m1 0h0m-29 1h0m13 0h0m1 0h0m3 0h0m1 0h0m1 0h0m1 0h0m1 0h0m1 0h0m2 0h0m1 0h0m1 0h0m1 0h0m1 0h0m2 0h0m-41 1h0m13 0h0m1 0h0m11 0h0m1 0h0m1 0h0m2 0h0m1 0h0m1 0h0m1 0h0m1 0h0m1 0h0m1 0h0m1 0h0m1 0h0m1 0h0m1 0h0m1 0h0m1 0h0m-36 1h0m5 0h0m1 0h0m5 0h0m9 0h0m1 0h0m1 0h0m1 0h0m1 0h0m1 0h0m1 0h0m1 0h0m1 0h0m1 0h0m1 0h0m1 0h0m1 0h0m1 0h0m2 0h0m-37 1h0m4 0h0m3 0h0m6 0h0m7 0h0m2 0h0m2 0h0m1 0h0m1 0h0m1 0h0m1 0h0m1 0h0m1 0h0m1 0h0m1 0h0m1 0h0m1 0h0m2 0h0m1 0h0m1 0h0m-32 1h0m1 0h0m2 0h0m1 0h0m10 0h0m1 0h0m1 0h0m1 0h0m1 0h0m1 0h0m1 0h0m1 0h0m1 0h0m1 0h0m1 0h0m1 0h0m1 0h0m1 0h0m2 0h0m1 0h0m1 0h0m-26 1h0m8 0h0m2 0h0m1 0h0m1 0h0m1 0h0m1 0h0m1 0h0m1 0h0m1 0h0m1 0h0m1 0h0m1 0h0m1 0h0m1 0h0m1 0h0m1 0h0m1 0h0m1 0h0m-35 1h0m4 0h0m1 0h0m2 0h0m2 0h0m9 0h0m1 0h0m1 0h0m1 0h0m1 0h0m1 0h0m1 0h0m1 0h0m1 0h0m1 0h0m1 0h0m1 0h0m1 0h0m1 0h0m1 0h0m1 0h0m1 0h0m1 0h0m-37 1h0m7 0h0m3 0h0m2 0h0m7 0h0m1 0h0m1 0h0m1 0h0m1 0h0m1 0h0m1 0h0m1 0h0m1 0h0m1 0h0m1 0h0m1 0h0m1 0h0m1 0h0m1 0h0m1 0h0m1 0h0m1 0h0m1 0h0m-36 1h0m3 0h0m4 0h0m1 0h0m1 0h0m1 0h0m2 0h0m1 0h0m6 0h0m1 0h0m1 0h0m1 0h0m1 0h0m1 0h0m1 0h0m1 0h0m1 0h0m1 0h0m1 0h0m1 0h0m1 0h0m1 0h0m1 0h0m1 0h0m1 0h0m1 0h0m1 0h0m-37 1h0m2 0h0m3 0h0m2 0h0m1 0h0m2 0h0m1 0h0m6 0h0m1 0h0m1 0h0m1 0h0m1 0h0m1 0h0m1 0h0m1 0h0m1 0h0m1 0h0m1 0h0m1 0h0m1 0h0m1 0h0m1 0h0m1 0h0m1 0h0m1 0h0m1 0h0m1 0h0m-33 1h0m3 0h0m2 0h0m1 0h0m1 0h0m1 0h0m1 0h0m1 0h0m5 0h0m1 0h0m1 0h0m1 0h0m1 0h0m1 0h0m1 0h0m1 0h0m1 0h0m1 0h0m1 0h0m1 0h0m1 0h0m1 0h0m1 0h0m1 0h0m1 0h0m1 0h0m1 0h0m-35 1h0m4 0h0m1 0h0m1 0h0m1 0h0m1 0h0m2 0h0m1 0h0m5 0h0m1 0h0m1 0h0m1 0h0m1 0h0m1 0h0m1 0h0m1 0h0m1 0h0m1 0h0m1 0h0m1 0h0m1 0h0m1 0h0m1 0h0m1 0h0m1 0h0m1 0h0m1 0h0m1 0h0m-36 1h0m1 0h0m2 0h0m1 0h0m2 0h0m1 0h0m1 0h0m1 0h0m1 0h0m1 0h0m2 0h0m1 0h0m3 0h0m1 0h0m1 0h0m1 0h0m1 0h0m1 0h0m1 0h0m1 0h0m1 0h0m1 0h0m1 0h0m1 0h0m1 0h0m1 0h0m1 0h0m1 0h0m1 0h0m1 0h0m1 0h0m-32 1h0m1 0h0m2 0h0m1 0h0m1 0h0m1 0h0m1 0h0m1 0h0m1 0h0m4 0h0m1 0h0m1 0h0m1 0h0m1 0h0m1 0h0m1 0h0m1 0h0m1 0h0m1 0h0m1 0h0m1 0h0m1 0h0m1 0h0m1 0h0m1 0h0m1 0h0m1 0h0m1 0h0m1 0h0m1 0h0m1 0h0m-31 1h0m1 0h0m1 0h0m1 0h0m2 0h0m1 0h0m1 0h0m1 0h0m3 0h0m1 0h0m1 0h0m1 0h0m1 0h0m1 0h0m1 0h0m1 0h0m1 0h0m1 0h0m1 0h0m1 0h0m1 0h0m1 0h0m1 0h0m1 0h0m1 0h0m1 0h0m1 0h0m1 0h0m1 0h0m-35 1h0m1 0h0m1 0h0m1 0h0m1 0h0m1 0h0m1 0h0m1 0h0m1 0h0m1 0h0m1 0h0m1 0h0m1 0h0m2 0h0m1 0h0m1 0h0m1 0h0m1 0h0m1 0h0m1 0h0m1 0h0m1 0h0m1 0h0m1 0h0m1 0h0m1 0h0m1 0h0m1 0h0m1 0h0m1 0h0m1 0h0m1 0h0m1 0h0m1 0h0m-64 1h0m10 0h0m2 0h0m1 0h0m9 0h0m2 0h0m1 0h0m2 0h0m2 0h0m3 0h0m1 0h0m1 0h0m1 0h0m1 0h0m1 0h0m1 0h0m1 0h0m1 0h0m1 0h0m1 0h0m1 0h0m1 0h0m1 0h0m1 0h0m1 0h0m1 0h0m1 0h0m1 0h0m1 0h0m1 0h0m1 0h0m1 0h0m1 0h0m1 0h0m1 0h0m1 0h0m1 0h0m1 0h0m1 0h0m1 0h0m1 0h0m1 0h0m1 0h0m1 0h0m1 0h0m1 0h0m1 0h0m1 0h0m1 0h0m1 0h0m2 0h0m5 0h0m6 0h0m12 0h0m-89 1h0m1 0h0m1 0h0m3 0h0m4 0h0m1 0h0m2 0h0m6 0h0m3 0h0m1 0h0m1 0h0m2 0h0m1 0h0m1 0h0m1 0h0m1 0h0m1 0h0m1 0h0m1 0h0m1 0h0m1 0h0m1 0h0m1 0h0m1 0h0m1 0h0m1 0h0m1 0h0m1 0h0m1 0h0m1 0h0m1 0h0m1 0h0m1 0h0m1 0h0m1 0h0m1 0h0m1 0h0m1 0h0m1 0h0m1 0h0m1 0h0m1 0h0m1 0h0m1 0h0m1 0h0m1 0h0m1 0h0m1 0h0m1 0h0m1 0h0m1 0h0m1 0h0m1 0h0m2 0h0m2 0h0m-71 1h0m9 0h0m2 0h0m3 0h0m1 0h0m1 0h0m1 0h0m2 0h0m1 0h0m1 0h0m1 0h0m1 0h0m1 0h0m1 0h0m1 0h0m1 0h0m1 0h0m1 0h0m1 0h0m1 0h0m1 0h0m1 0h0m1 0h0m1 0h0m1 0h0m1 0h0m1 0h0m1 0h0m1 0h0m1 0h0m1 0h0m1 0h0m1 0h0m1 0h0m1 0h0m1 0h0m1 0h0m1 0h0m1 0h0m1 0h0m1 0h0m1 0h0m1 0h0m1 0h0m1 0h0m1 0h0m1 0h0m1 0h0m1 0h0m1 0h0m1 0h0m1 0h0m1 0h0m1 0h0m1 0h0m1 0h0m1 0h0m1 0h0m1 0h0m2 0h0m-93 1h0m3 0h0m13 0h0m4 0h0m2 0h0m1 0h0m1 0h0m5 0h0m1 0h0m1 0h0m1 0h0m1 0h0m1 0h0m1 0h0m1 0h0m1 0h0m1 0h0m1 0h0m1 0h0m1 0h0m1 0h0m1 0h0m1 0h0m1 0h0m1 0h0m1 0h0m1 0h0m1 0h0m1 0h0m1 0h0m1 0h0m1 0h0m1 0h0m1 0h0m1 0h0m1 0h0m1 0h0m1 0h0m1 0h0m1 0h0m1 0h0m1 0h0m1 0h0m1 0h0m1 0h0m1 0h0m1 0h0m1 0h0m1 0h0m1 0h0m1 0h0m1 0h0m1 0h0m1 0h0m1 0h0m1 0h0m1 0h0m1 0h0m1 0h0m1 0h0m1 0h0m1 0h0m1 0h0m1 0h0m1 0h0m2 0h0m1 0h0m1 0h0m1 0h0m1 0h0m1 0h0m2 0h0m12 0h0" stroke="#a3a3a7" stroke-width="1.2" stroke-linecap="round" fill="none"/>
<path d="M105 447h0m-3 83h0m0 15h0m1.5 5.5h0m4 5.5h0m-6.5 10h0m-39 12h0m26.5 0.5h0m19 0h0m-1.5 1.5h0m4 1h0m-10 2h0m9 0h0m2 2h0m-17 0.5h0m12 0h0m3.5 1.5h0m-10.5 0.5h0m9 0h0m-5 1h0m7.5 0.5h0m-27 1h0m9.5 0h0m-28 0.5h0m6 0h0m7.5 0h0m11 0h0m17.5 0h0m-46 0.5h0m7 0h0m6 0h0m7 0h0m10.5 0h0m5.5 0h0m7.5 0h0m7 0h0" stroke="#4ea6ff" stroke-width="2.5" stroke-linecap="round" fill="none"/>
<path d="M177 546h0m-17.5 2h0m-1 4h0m1 12h0m3 0.5h0m4.5 2.5h0m34 0.5h0m-31 2.5h0m-9 1h0m2 0.5h0m10 0h0m-13.5 1h0m12 0h0m-11 0.5h0m3.5 0.5h0m7.5 0.5h0m-7 0.5h0m-5.5 0.5h0m0.5 0h0m1.5 0.5h0m0.5 0h0m17.5 0.5h0m-20.5 1h0m4.5 2h0m2.5 0h0m3.5 0.5h0m-11 0.5h0m0.5 0h0m4 0h0m-1 0.5h0m17.5 0h0m-18.5 1h0m2.5 1.5h0m19 0h0m-6 0.5h0m0.5 0h0m-12 0.5h0m0.5 0h0m46 0h0m-51 0.5h0m-1 0.5h0m1.5 0h0m2 0h0m3 0h0m28 0h0m-34 0.5h0m3 0h0m25 0h0m-28.5 0.5h0m0.5 0h0m-1 0.5h0m4.5 0h0m1.5 0h0m5.5 0h0m26.5 0h0m-37 0.5h0m9.5 0.5h0m-10.5 0.5h0m5.5 0h0m-5.5 0.5h0m3.5 0h0m0.5 0h0m18 0h0m-22.5 0.5h0m0.5 0h0m3 0h0m2 0h0m4 0h0m17 0h0m38 0h0m-64 0.5h0m1 0h0m2.5 0h0m2 0h0m0.5 0h0m2 0h0m-8.5 0.5h0m1.5 0h0m1 0h0m3 0h0m0.5 0h0m1 0h0m10 0h0m15.5 0h0m-32 0.5h0m1 0h0m1 0h0m3.5 0h0m1 0h0m6.5 0h0m3.5 0h0m-17 0.5h0m6 0h0m1 0h0m0.5 0h0m-7.5 0.5h0m2 0h0m8.5 0h0" stroke="#0000c4" stroke-width="2.5" stroke-linecap="round" fill="none"/>
<path d="M47.4 413V448.6" stroke="#000" stroke-width="1.3" fill="none"/>
<path d="M47.4 455.3V595.4H224.5" stroke="#000" stroke-width="1.3" fill="none"/>
<line x1="44.5" y1="413" x2="47.4" y2="413" stroke="#000" stroke-width="1.3" />
<text x="43.2" y="415.5" font-size="7" font-weight="bold" text-anchor="end" fill="#111" textLength="11.55" lengthAdjust="spacingAndGlyphs">300</text>
<line x1="44.5" y1="448.6" x2="50" y2="448.6" stroke="#000" stroke-width="1.3" />
<text x="43.2" y="451" font-size="7" font-weight="bold" text-anchor="end" fill="#111" textLength="7.7" lengthAdjust="spacingAndGlyphs">50</text>
<line x1="44.5" y1="455.3" x2="50" y2="455.3" stroke="#000" stroke-width="1.3" />
<line x1="44.5" y1="595.4" x2="47.4" y2="595.4" stroke="#000" stroke-width="1.3" />
<text x="43.2" y="597.9" font-size="7" font-weight="bold" text-anchor="end" fill="#111" textLength="3.85" lengthAdjust="spacingAndGlyphs">0</text>
<line x1="44.5" y1="567.4" x2="47.4" y2="567.4" stroke="#000" stroke-width="1.3" />
<text x="43.2" y="569.9" font-size="7" font-weight="bold" text-anchor="end" fill="#111" textLength="7.7" lengthAdjust="spacingAndGlyphs">10</text>
<line x1="44.5" y1="539.4" x2="47.4" y2="539.4" stroke="#000" stroke-width="1.3" />
<text x="43.2" y="541.9" font-size="7" font-weight="bold" text-anchor="end" fill="#111" textLength="7.7" lengthAdjust="spacingAndGlyphs">20</text>
<line x1="44.5" y1="511.4" x2="47.4" y2="511.4" stroke="#000" stroke-width="1.3" />
<text x="43.2" y="513.9" font-size="7" font-weight="bold" text-anchor="end" fill="#111" textLength="7.7" lengthAdjust="spacingAndGlyphs">30</text>
<line x1="44.5" y1="483.4" x2="47.4" y2="483.4" stroke="#000" stroke-width="1.3" />
<text x="43.2" y="485.9" font-size="7" font-weight="bold" text-anchor="end" fill="#111" textLength="7.7" lengthAdjust="spacingAndGlyphs">40</text>
<line x1="44.5" y1="455.4" x2="47.4" y2="455.4" stroke="#000" stroke-width="1.3" />
<text x="43.2" y="457.2" font-size="7" font-weight="bold" text-anchor="end" fill="#111" textLength="7.7" lengthAdjust="spacingAndGlyphs">50</text>
<line x1="76.7" y1="595.4" x2="76.7" y2="598.3" stroke="#000" stroke-width="1.3" />
<text x="76.7" y="606.6" font-size="7" font-weight="bold" text-anchor="middle" fill="#111">-1</text>
<line x1="135.1" y1="595.4" x2="135.1" y2="598.3" stroke="#000" stroke-width="1.3" />
<text x="135.1" y="606.6" font-size="7" font-weight="bold" text-anchor="middle" fill="#111">0</text>
<line x1="193.5" y1="595.4" x2="193.5" y2="598.3" stroke="#000" stroke-width="1.3" />
<text x="193.5" y="606.6" font-size="7" font-weight="bold" text-anchor="middle" fill="#111">1</text>
<text x="135.1" y="616.3" font-size="10.5" font-weight="bold" text-anchor="middle" textLength="38.8" lengthAdjust="spacingAndGlyphs">Log2FC</text>
<text x="30.4" y="503" font-size="10.5" font-weight="bold" text-anchor="middle" transform="rotate(-90 30.4 503)" textLength="92" lengthAdjust="spacingAndGlyphs">-Log10 adj p-value</text>
<text x="110.5" y="411.3" font-size="8.4" font-weight="bold" text-anchor="end" textLength="42.3" lengthAdjust="spacingAndGlyphs">Decreased</text>
<text x="110.5" y="420.9" font-size="8.4" font-weight="bold" text-anchor="end">by RT</text>
<path d="M66.6 423.9l7.5 -3.3v1.9H110.5v2.8H74.1v1.9z" fill="#4ea6ff"/>
<text x="108.6" y="433.2" font-size="8.2" font-weight="bold" text-anchor="end" fill="#4ea6ff">37</text>
<text x="159.9" y="411.3" font-size="8.4" font-weight="bold" textLength="39.3" lengthAdjust="spacingAndGlyphs">Increased</text>
<text x="159.9" y="420.9" font-size="8.4" font-weight="bold">by RT</text>
<path d="M159.9 422.5H196.2v-1.9L203.7 423.9L196.2 427.2v-1.9H159.9z" fill="#0000c4"/>
<text x="162" y="433.2" font-size="8.2" font-weight="bold" fill="#0000c4">107</text>
<rect x="158.4" y="443.4" width="70.6" height="89.1" rx="6" ry="6" fill="#e6e6e6" stroke="#333" stroke-width="0.9"/>
<circle cx="186.9" cy="492" r="24" fill="#a3a3a8" stroke="#333" stroke-width="0.7"/>
<path d="M186.9 492L186.9 468A24 24 0 0 1 189.91 468.19Z" fill="#0000c4" stroke="#333" stroke-width="0.3"/>
<path d="M186.9 492L189.91 468.19A24 24 0 0 1 190.94 468.34Z" fill="#4ea6ff" stroke="#333" stroke-width="0.3"/>
<circle cx="186.9" cy="492" r="24" fill="none" stroke="#333" stroke-width="0.7"/>
<text x="182.6" y="449.6" font-size="4.8" text-anchor="middle" fill="#111" stroke="#111" stroke-width="0.18">Increased</text>
<text x="182.6" y="454.9" font-size="4.8" text-anchor="middle" fill="#111" stroke="#111" stroke-width="0.18">Abundance</text>
<text x="182.6" y="460.2" font-size="4.8" text-anchor="middle" fill="#111" stroke="#111" stroke-width="0.18">by RT (107)</text>
<text x="214.9" y="454.4" font-size="4.8" text-anchor="middle" fill="#111" stroke="#111" stroke-width="0.18">Decreased</text>
<text x="214.9" y="459.7" font-size="4.8" text-anchor="middle" fill="#111" stroke="#111" stroke-width="0.18">Abundance</text>
<text x="214.9" y="465" font-size="4.8" text-anchor="middle" fill="#111" stroke="#111" stroke-width="0.18">by RT (37)</text>
<line x1="186.9" y1="462.2" x2="186.9" y2="467.6" stroke="#111" stroke-width="0.6" />
<line x1="203.6" y1="465.1" x2="190.7" y2="470.6" stroke="#111" stroke-width="0.6" />
<text x="186.9" y="499.2" font-size="4.8" font-weight="bold" text-anchor="middle" fill="#222">Not</text>
<text x="186.9" y="504.6" font-size="4.8" font-weight="bold" text-anchor="middle" fill="#222">RT-regulated</text>
<text x="186.9" y="510" font-size="4.8" font-weight="bold" text-anchor="middle" fill="#222">(5,225)</text>
<text x="186.8" y="523.8" font-size="7.4" font-weight="bold" text-anchor="middle" fill="#111" textLength="23" lengthAdjust="spacingAndGlyphs">Proteins</text>
<text x="186.8" y="530.6" font-size="7.2" font-weight="bold" text-anchor="middle" fill="#111" textLength="48.2" lengthAdjust="spacingAndGlyphs">Identified = 5,369</text>
<text x="236.5" y="410.6" font-size="14" font-weight="bold">G</text>
<line x1="323" y1="415.1" x2="323" y2="595" stroke="#d8d8d8" stroke-width="0.7" stroke-dasharray="5 1"/>
<line x1="359.8" y1="415.1" x2="359.8" y2="595" stroke="#d8d8d8" stroke-width="0.7" stroke-dasharray="5 1"/>
<line x1="268.2" y1="589.16" x2="444.3" y2="589.16" stroke="#c4c4c4" stroke-width="0.7" stroke-dasharray="5 1"/>
<line x1="341.5" y1="415.1" x2="341.5" y2="595" stroke="#222" stroke-width="1.1" />
<path d="M358.5 455.5h0m0 2h0m-33 4h0m32 28h0m-28 4h0m-5 3h0m-1 2h0m6 0h0m-5 2h0m5 0h0m-5 4h0m31 2h0m-2 3h0m-30 2h0m6 0h0m-5 1h0m30 1h0m-24 4h0m22 2h0m4 0h0m-29 2h0m0 1h0m-4 1h0m1 0h0m26 0h0m-25 1h0m2 2h0m-3 3h0m4 0h0m28 2h0m-3 1h0m-19 1h0m15 0h0m-25 1h0m6 0h0m28 1h0m-31 1h0m2 0h0m4 0h0m-9 1h0m26 0h0m4 0h0m-30 1h0m8 0h0m-5 1h0m-2 1h0m7 0h0m2 0h0m15 0h0m-25 2h0m-1 1h0m2 0h0m32 0h0m-30 1h0m-4 1h0m10 1h0m-8 1h0m2 0h0m8 0h0m-12 1h0m36 0h0m-36 1h0m4 0h0m8 0h0m-11 1h0m4 0h0m25 0h0m-27 1h0m30 0h0m3 0h0m-35 1h0m1 0h0m1 0h0m-2 1h0m2 0h0m2 0h0m4 0h0m23 0h0m1 0h0m-25 1h0m1 0h0m-8 1h0m2 0h0m2 0h0m7 0h0m21 0h0m1 0h0m1 0h0m-34 1h0m2 0h0m3 0h0m2 0h0m28 0h0m-33 1h0m3 0h0m2 0h0m2 0h0m14 0h0m7 0h0m1 0h0m2 0h0m-34 1h0m2 0h0m1 0h0m1 0h0m1 0h0m30 0h0m2 0h0m-37 1h0m1 0h0m31 0h0m1 0h0m1 0h0m2 0h0m-35 1h0m1 0h0m2 0h0m1 0h0m1 0h0m2 0h0m1 0h0m26 0h0m-31 1h0m1 0h0m1 0h0m2 0h0m1 0h0m21 0h0m1 0h0m3 0h0m2 0h0m-36 1h0m1 0h0m1 0h0m1 0h0m2 0h0m1 0h0m1 0h0m1 0h0m18 0h0m9 0h0m1 0h0m-36 1h0m3 0h0m1 0h0m2 0h0m6 0h0m20 0h0m1 0h0m2 0h0m-35 1h0m1 0h0m1 0h0m1 0h0m1 0h0m3 0h0m1 0h0m24 0h0m1 0h0m1 0h0m2 0h0m-32 1h0m1 0h0m1 0h0m1 0h0m1 0h0m2 0h0m19 0h0m5 0h0m1 0h0m-35 1h0m2 0h0m2 0h0m1 0h0m2 0h0m1 0h0m2 0h0m20 0h0m1 0h0m4 0h0m1 0h0m-36 1h0m1 0h0m1 0h0m1 0h0m1 0h0m4 0h0m1 0h0m1 0h0m20 0h0m7 0h0m-37 1h0m1 0h0m1 0h0m3 0h0m1 0h0m2 0h0m2 0h0m22 0h0m2 0h0m1 0h0m1 0h0m-35 1h0m1 0h0m2 0h0m1 0h0m1 0h0m1 0h0m1 0h0m1 0h0m1 0h0m1 0h0m19 0h0m1 0h0m2 0h0m1 0h0m2 0h0m1 0h0m-36 1h0m2 0h0m1 0h0m1 0h0m1 0h0m1 0h0m1 0h0m2 0h0m18 0h0m2 0h0m1 0h0m1 0h0m1 0h0m-30 1h0m1 0h0m1 0h0m1 0h0m1 0h0m1 0h0m1 0h0m1 0h0m2 0h0m13 0h0m4 0h0m1 0h0m2 0h0m2 0h0m1 0h0m1 0h0m-34 1h0m1 0h0m1 0h0m2 0h0m1 0h0m2 0h0m15 0h0m6 0h0m1 0h0m1 0h0m1 0h0m1 0h0m2 0h0m1 0h0m-37 1h0m2 0h0m1 0h0m2 0h0m1 0h0m1 0h0m1 0h0m1 0h0m1 0h0m20 0h0m1 0h0m1 0h0m1 0h0m2 0h0m-34 1h0m1 0h0m1 0h0m1 0h0m1 0h0m2 0h0m1 0h0m1 0h0m1 0h0m18 0h0m2 0h0m1 0h0m1 0h0m1 0h0m1 0h0m1 0h0m1 0h0m-35 1h0m2 0h0m1 0h0m1 0h0m1 0h0m1 0h0m1 0h0m1 0h0m1 0h0m1 0h0m1 0h0m16 0h0m2 0h0m2 0h0m3 0h0m1 0h0m-35 1h0m1 0h0m1 0h0m1 0h0m1 0h0m1 0h0m1 0h0m1 0h0m1 0h0m3 0h0m16 0h0m1 0h0m1 0h0m1 0h0m1 0h0m1 0h0m1 0h0m3 0h0m-36 1h0m1 0h0m1 0h0m1 0h0m1 0h0m1 0h0m1 0h0m1 0h0m1 0h0m1 0h0m1 0h0m17 0h0m2 0h0m3 0h0m1 0h0m1 0h0m1 0h0m-36 1h0m1 0h0m1 0h0m1 0h0m1 0h0m1 0h0m1 0h0m1 0h0m1 0h0m1 0h0m1 0h0m1 0h0m1 0h0m14 0h0m1 0h0m1 0h0m1 0h0m2 0h0m1 0h0m1 0h0m1 0h0m1 0h0m1 0h0m-35 1h0m1 0h0m1 0h0m1 0h0m1 0h0m1 0h0m1 0h0m1 0h0m1 0h0m1 0h0m1 0h0m2 0h0m13 0h0m1 0h0m4 0h0m1 0h0m1 0h0m1 0h0m1 0h0m1 0h0m-35 1h0m1 0h0m1 0h0m1 0h0m1 0h0m1 0h0m1 0h0m1 0h0m1 0h0m1 0h0m1 0h0m1 0h0m1 0h0m12 0h0m1 0h0m2 0h0m1 0h0m1 0h0m1 0h0m2 0h0m1 0h0m2 0h0m-35 1h0m1 0h0m1 0h0m1 0h0m1 0h0m1 0h0m1 0h0m1 0h0m1 0h0m1 0h0m1 0h0m1 0h0m1 0h0m12 0h0m1 0h0m1 0h0m1 0h0m1 0h0m1 0h0m1 0h0m1 0h0m1 0h0m1 0h0m1 0h0m1 0h0m1 0h0m-36 1h0m1 0h0m1 0h0m2 0h0m1 0h0m1 0h0m1 0h0m1 0h0m1 0h0m1 0h0m1 0h0m1 0h0m12 0h0m1 0h0m1 0h0m1 0h0m1 0h0m1 0h0m1 0h0m1 0h0m1 0h0m1 0h0m1 0h0m-34 1h0m1 0h0m1 0h0m1 0h0m1 0h0m1 0h0m1 0h0m1 0h0m1 0h0m1 0h0m1 0h0m1 0h0m1 0h0m13 0h0m1 0h0m1 0h0m1 0h0m1 0h0m1 0h0m1 0h0m1 0h0m1 0h0m1 0h0m1 0h0m1 0h0m-37 1h0m1 0h0m1 0h0m1 0h0m1 0h0m1 0h0m1 0h0m1 0h0m1 0h0m1 0h0m1 0h0m1 0h0m1 0h0m1 0h0m1 0h0m8 0h0m1 0h0m2 0h0m1 0h0m1 0h0m1 0h0m1 0h0m1 0h0m1 0h0m1 0h0m1 0h0m1 0h0m1 0h0m2 0h0m-36 1h0m1 0h0m1 0h0m1 0h0m1 0h0m1 0h0m1 0h0m1 0h0m1 0h0m1 0h0m1 0h0m1 0h0m1 0h0m1 0h0m10 0h0m2 0h0m1 0h0m1 0h0m1 0h0m1 0h0m1 0h0m1 0h0m1 0h0m1 0h0m1 0h0m2 0h0m-35 1h0m1 0h0m1 0h0m1 0h0m1 0h0m1 0h0m1 0h0m1 0h0m1 0h0m1 0h0m1 0h0m1 0h0m1 0h0m1 0h0m7 0h0m2 0h0m1 0h0m1 0h0m1 0h0m1 0h0m1 0h0m1 0h0m1 0h0m1 0h0m1 0h0m1 0h0m1 0h0m1 0h0m-36 1h0m1 0h0m1 0h0m1 0h0m1 0h0m1 0h0m1 0h0m1 0h0m1 0h0m1 0h0m1 0h0m1 0h0m1 0h0m1 0h0m1 0h0m1 0h0m9 0h0m1 0h0m1 0h0m1 0h0m1 0h0m1 0h0m1 0h0m1 0h0m1 0h0m1 0h0m1 0h0m1 0h0m1 0h0m-35 1h0m1 0h0m1 0h0m1 0h0m1 0h0m1 0h0m1 0h0m1 0h0m1 0h0m1 0h0m1 0h0m1 0h0m1 0h0m1 0h0m1 0h0m7 0h0m1 0h0m1 0h0m1 0h0m1 0h0m1 0h0m1 0h0m1 0h0m1 0h0m1 0h0m1 0h0m1 0h0m1 0h0m1 0h0m1 0h0m-52 1h0m4 0h0m2 0h0m2 0h0m2 0h0m1 0h0m2 0h0m1 0h0m1 0h0m2 0h0m1 0h0m1 0h0m1 0h0m1 0h0m1 0h0m1 0h0m1 0h0m1 0h0m1 0h0m1 0h0m1 0h0m1 0h0m1 0h0m1 0h0m1 0h0m6 0h0m1 0h0m1 0h0m1 0h0m1 0h0m1 0h0m1 0h0m1 0h0m1 0h0m1 0h0m1 0h0m1 0h0m1 0h0m1 0h0m1 0h0m1 0h0m1 0h0m1 0h0m1 0h0m1 0h0m1 0h0m2 0h0m6 0h0m1 0h0m3 0h0m13 0h0m-112 1h0m5 0h0m10 0h0m1 0h0m2 0h0m11 0h0m1 0h0m1 0h0m2 0h0m2 0h0m1 0h0m1 0h0m1 0h0m1 0h0m1 0h0m1 0h0m1 0h0m1 0h0m1 0h0m1 0h0m1 0h0m1 0h0m1 0h0m1 0h0m1 0h0m1 0h0m1 0h0m1 0h0m1 0h0m1 0h0m1 0h0m1 0h0m1 0h0m1 0h0m1 0h0m1 0h0m6 0h0m1 0h0m1 0h0m1 0h0m1 0h0m1 0h0m1 0h0m1 0h0m1 0h0m1 0h0m1 0h0m1 0h0m1 0h0m1 0h0m1 0h0m1 0h0m1 0h0m1 0h0m1 0h0m1 0h0m1 0h0m1 0h0m1 0h0m1 0h0m2 0h0m2 0h0m2 0h0m5 0h0m1 0h0m1 0h0m1 0h0m13 0h0m-119 1h0m11 0h0m12 0h0m6 0h0m1 0h0m1 0h0m1 0h0m1 0h0m1 0h0m1 0h0m1 0h0m1 0h0m1 0h0m1 0h0m1 0h0m1 0h0m1 0h0m1 0h0m1 0h0m1 0h0m1 0h0m1 0h0m1 0h0m1 0h0m1 0h0m1 0h0m1 0h0m1 0h0m1 0h0m1 0h0m1 0h0m1 0h0m1 0h0m1 0h0m1 0h0m1 0h0m1 0h0m1 0h0m5 0h0m1 0h0m1 0h0m1 0h0m1 0h0m1 0h0m1 0h0m1 0h0m1 0h0m1 0h0m1 0h0m1 0h0m1 0h0m1 0h0m1 0h0m1 0h0m1 0h0m1 0h0m1 0h0m1 0h0m1 0h0m1 0h0m1 0h0m1 0h0m1 0h0m1 0h0m5 0h0m2 0h0m4 0h0m10 0h0m3 0h0m-94 1h0m1 0h0m2 0h0m1 0h0m3 0h0m2 0h0m2 0h0m1 0h0m1 0h0m1 0h0m2 0h0m1 0h0m1 0h0m1 0h0m1 0h0m1 0h0m1 0h0m1 0h0m1 0h0m1 0h0m1 0h0m1 0h0m1 0h0m1 0h0m1 0h0m1 0h0m1 0h0m1 0h0m1 0h0m1 0h0m1 0h0m1 0h0m1 0h0m1 0h0m1 0h0m1 0h0m4 0h0m1 0h0m1 0h0m1 0h0m1 0h0m1 0h0m1 0h0m1 0h0m1 0h0m1 0h0m1 0h0m1 0h0m1 0h0m1 0h0m1 0h0m1 0h0m1 0h0m1 0h0m1 0h0m1 0h0m1 0h0m1 0h0m1 0h0m1 0h0m1 0h0m1 0h0m1 0h0m1 0h0m1 0h0m1 0h0m1 0h0m1 0h0m1 0h0m1 0h0m1 0h0m1 0h0m2 0h0m3 0h0m3 0h0m1 0h0m10 0h0m-125 1h0m20 0h0m3 0h0m1 0h0m3 0h0m1 0h0m1 0h0m2 0h0m1 0h0m2 0h0m1 0h0m1 0h0m1 0h0m1 0h0m1 0h0m1 0h0m1 0h0m1 0h0m1 0h0m1 0h0m1 0h0m1 0h0m1 0h0m1 0h0m1 0h0m1 0h0m1 0h0m1 0h0m1 0h0m1 0h0m1 0h0m1 0h0m1 0h0m1 0h0m1 0h0m1 0h0m1 0h0m1 0h0m1 0h0m1 0h0m1 0h0m1 0h0m1 0h0m3 0h0m1 0h0m1 0h0m1 0h0m1 0h0m1 0h0m1 0h0m1 0h0m1 0h0m1 0h0m1 0h0m1 0h0m1 0h0m1 0h0m1 0h0m1 0h0m1 0h0m1 0h0m1 0h0m1 0h0m1 0h0m1 0h0m1 0h0m1 0h0m1 0h0m1 0h0m1 0h0m1 0h0m1 0h0m1 0h0m1 0h0m2 0h0m2 0h0m5 0h0m3 0h0m2 0h0m8 0h0m2 0h0m1 0h0m8 0h0m-118 1h0m1 0h0m4 0h0m4 0h0m2 0h0m1 0h0m1 0h0m3 0h0m1 0h0m1 0h0m1 0h0m3 0h0m1 0h0m2 0h0m1 0h0m1 0h0m2 0h0m1 0h0m1 0h0m1 0h0m1 0h0m1 0h0m1 0h0m1 0h0m1 0h0m1 0h0m1 0h0m1 0h0m1 0h0m1 0h0m1 0h0m1 0h0m1 0h0m1 0h0m1 0h0m1 0h0m1 0h0m1 0h0m1 0h0m1 0h0m1 0h0m1 0h0m1 0h0m1 0h0m1 0h0m1 0h0m1 0h0m1 0h0m1 0h0m1 0h0m1 0h0m1 0h0m1 0h0m1 0h0m1 0h0m1 0h0m1 0h0m1 0h0m1 0h0m1 0h0m1 0h0m1 0h0m1 0h0m1 0h0m1 0h0m1 0h0m1 0h0m1 0h0m1 0h0m1 0h0m1 0h0m1 0h0m2 0h0m1 0h0m1 0h0m1 0h0m4 0h0m3 0h0m2 0h0m5 0h0m2 0h0m-107 1h0m6 0h0m4 0h0m1 0h0m3 0h0m3 0h0m1 0h0m1 0h0m1 0h0m2 0h0m2 0h0m1 0h0m1 0h0m1 0h0m1 0h0m1 0h0m1 0h0m1 0h0m1 0h0m1 0h0m1 0h0m1 0h0m1 0h0m1 0h0m1 0h0m1 0h0m2 0h0m1 0h0m1 0h0m1 0h0m1 0h0m1 0h0m1 0h0m1 0h0m1 0h0m1 0h0m1 0h0m1 0h0m1 0h0m1 0h0m1 0h0m1 0h0m1 0h0m1 0h0m1 0h0m1 0h0m1 0h0m1 0h0m1 0h0m1 0h0m1 0h0m1 0h0m1 0h0m1 0h0m1 0h0m1 0h0m1 0h0m1 0h0m1 0h0m1 0h0m1 0h0m1 0h0m1 0h0m1 0h0m1 0h0m1 0h0m1 0h0m2 0h0m2 0h0m3 0h0m1 0h0m1 0h0m1 0h0m6 0h0m1 0h0m16 0h0" stroke="#a3a3a7" stroke-width="1.2" stroke-linecap="round" fill="none"/>
<path d="M308 432.5h0m6.5 85.5h0m-2.5 7.5h0m9.5 10.5h0m-8.5 1.5h0m-3.5 1.5h0m-19.5 9h0m5 0h0m26 1h0m-12 0.5h0m-9 1.5h0m20.5 0h0m-15.5 0.5h0m-1.5 1h0m-25.5 6.5h0m32 1h0m6 0.5h0m-35.5 1h0m23.5 0h0m0.5 0.5h0m17 1h0m-10 1.5h0m-3.5 1.5h0m3 0h0m2 0h0m3.5 0h0m4.5 0h0m-8 1.5h0m0 0.5h0m3 0.5h0m-22.5 1h0m12 0.5h0m16 0h0m-2.5 0.5h0m-15 0.5h0m8.5 0h0m6 0h0m-2 0.5h0m-0.5 0.5h0m-45.5 0.5h0m17 0h0m28 0h0m2 0h0m-4.5 0.5h0m5 0h0m-2 1h0m3 0h0m-1 0.5h0m0.5 0h0m3 0h0m-38.5 0.5h0m29.5 0h0m9 0h0m-28 0.5h0m5.5 0h0m7 0h0m12.5 0.5h0m-7 0.5h0m5 0h0m-44.5 0.5h0m27.5 0h0m10.5 0h0m1 0h0m2.5 0h0m7 0h0m0.5 0h0m-27 0.5h0m13 0h0m6 0h0m0.5 0h0m5.5 0h0m-18.5 0.5h0m7 0h0m0.5 0h0m8.5 0h0m1.5 0h0m1.5 0h0m1 0h0m-11.5 0.5h0m4 0h0m1.5 0h0m1 0h0m4.5 0h0m-6 0.5h0m0.5 0h0m3.5 0h0m1.5 0h0m-12 0.5h0m4.5 0h0m1.5 0h0m1 0h0m3.5 0h0m1.5 0h0m2.5 0h0m-23 0.5h0m2.5 0h0m10 0h0m1.5 0h0m6 0h0m2 0h0m1 0h0m-36.5 0.5h0m9.5 0h0m6 0h0m7 0h0m2 0h0m2 0h0m3 0h0m0.5 0h0m1.5 0h0m2.5 0h0m0.5 0h0m0.5 0h0m-15.5 0.5h0m5.5 0h0m0.5 0h0m1 0h0m4 0h0m2 0h0m-41 0.5h0m18.5 0h0m18.5 0h0m0.5 0h0m1.5 0h0m0.5 0h0m2.5 0h0m0.5 0h0m-10.5 0.5h0m4.5 0h0m3.5 0h0m3 0h0m0.5 0h0m2 0h0m-14 0.5h0m6 0h0m2 0h0m1 0h0m-8.5 0.5h0m1 0h0m3 0h0m2 0h0m1 0h0m2 0h0m1 0h0m0.5 0h0m-17.5 0.5h0m4 0h0m0.5 0h0m5.5 0h0m0.5 0h0m4 0h0m3.5 0h0m-21.5 0.5h0m9 0h0m7.5 0h0m1 0h0m3 0h0m0.5 0h0m0.5 0h0m1.5 0h0m1 0h0m-31.5 0.5h0m5.5 0h0m12 0h0m2 0h0m1 0h0m3 0h0m1 0h0m0.5 0h0m2 0h0m1.5 0h0m-23 0.5h0m6 0h0m4.5 0h0m2.5 0h0m3.5 0h0m2 0h0m3 0h0m0.5 0h0m0.5 0h0m1 0h0m0.5 0h0m0.5 0h0m-33 0.5h0m7.5 0h0m4 0h0m2 0h0m13.5 0h0m2 0h0m0.5 0h0m1 0h0m0.5 0h0m2 0h0m1 0h0m-49 0.5h0m30.5 0h0m6.5 0h0m3.5 0h0m1 0h0m1.5 0h0m0.5 0h0m1 0h0m1.5 0h0m0.5 0h0m0.5 0h0m1 0h0m1 0h0m0.5 0h0m-26.5 0.5h0m8 0h0m8.5 0h0m0.5 0h0m0.5 0h0m3 0h0m1.5 0h0m0.5 0h0m1 0h0m0.5 0h0m1.5 0h0m1 0h0m-34 0.5h0m7.5 0h0m5 0h0m3.5 0h0m1 0h0m0.5 0h0m4 0h0m1 0h0m1.5 0h0m1.5 0h0m1 0h0m3 0h0m0.5 0h0m0.5 0h0m0.5 0h0m2.5 0h0m-29 0.5h0m8.5 0h0m1 0h0m0.5 0h0m3 0h0m1 0h0m4 0h0m2 0h0m1 0h0m1.5 0h0m1.5 0h0m1 0h0m1 0h0m0.5 0h0m1.5 0h0m0.5 0h0m0.5 0h0m-51.5 0.5h0m12.5 0h0m15.5 0h0m4.5 0h0m4.5 0h0m1.5 0h0m1.5 0h0m1 0h0m1 0h0m0.5 0h0m0.5 0h0m1 0h0m1 0h0m1 0h0m0.5 0h0m1 0h0m1.5 0h0m1 0h0m1 0h0m0.5 0h0m-17.5 0.5h0m5 0h0m1 0h0m2 0h0m1.5 0h0m0.5 0h0m0.5 0h0m1.5 0h0m1.5 0h0m2.5 0h0m0.5 0h0m0.5 0h0m0.5 0h0m0.5 0h0m-14 0.5h0m2.5 0h0m1.5 0h0m0.5 0h0m3.5 0h0m0.5 0h0" stroke="#4ea6ff" stroke-width="2.5" stroke-linecap="round" fill="none"/>
<path d="M366 432.5h0m-2.5 40h0m3.5 59.5h0m-3.5 3.5h0m1.5 3.5h0m11.5 2h0m26 0h0m-40.5 1h0m2 0.5h0m8 0.5h0m25.5 0.5h0m-29 1.5h0m-6 2.5h0m18 0.5h0m-19.5 1h0m2.5 1h0m29 0h0m-21.5 0.5h0m-9 3.5h0m7 0.5h0m-2.5 1h0m-2 1h0m-3.5 0.5h0m6 0h0m-2.5 0.5h0m18 0h0m-19.5 0.5h0m2 0h0m1 0.5h0m3.5 0h0m8 0h0m-8.5 0.5h0m-3.5 0.5h0m14.5 0h0m-15 0.5h0m-3 1h0m8.5 0h0m-0.5 0.5h0m-2.5 0.5h0m18.5 0h0m-7.5 1h0m-12.5 0.5h0m14 0h0m-16.5 0.5h0m0.5 0h0m7.5 1h0m-9 0.5h0m5 0h0m2 0h0m-8 0.5h0m1 0h0m6.5 0h0m7 0h0m-13 0.5h0m24.5 0h0m-10.5 0.5h0m47.5 0h0m-55.5 0.5h0m4.5 0h0m-13 0.5h0m0.5 0h0m4 0h0m0.5 0h0m1 0h0m1 0h0m0.5 0h0m-5.5 0.5h0m1.5 0h0m1 0h0m1.5 0.5h0m0.5 0h0m3.5 0h0m7.5 0h0m-14 0.5h0m0.5 0h0m2.5 0h0m-2 0.5h0m1.5 0h0m1.5 0h0m10 0h0m2.5 0h0m-19.5 0.5h0m2.5 0h0m5 0h0m1 0h0m1 0h0m5.5 0h0m-14 0.5h0m4 0h0m4 0h0m7 0h0m-15 0.5h0m0.5 0h0m7.5 0h0m13.5 0h0m18.5 0h0m17.5 0h0m-59 0.5h0m6 0h0m3 0h0m1.5 0h0m0.5 0h0m7.5 0h0m-17 0.5h0m7 0h0m9 0h0m8.5 0h0m18.5 0h0m-42 0.5h0m2 0h0m8.5 0h0m-10.5 0.5h0m4.5 0h0m2.5 0h0m13 0h0m21 0h0m-40.5 0.5h0m6.5 0h0m-7 0.5h0m3.5 0h0m0.5 0h0m2 0h0m4 0h0m-11.5 0.5h0m2 0h0m0.5 0h0m8.5 0h0m22.5 0h0m21 0h0m-54.5 0.5h0m0.5 0h0m1 0h0m2 0h0m2.5 0h0m1.5 0h0m2 0h0m-8.5 0.5h0m0.5 0h0m6.5 0h0m56 0h0m-62.5 0.5h0m5 0h0m0.5 0h0m1.5 0h0m1.5 0h0m11 0h0m14 0h0m-34.5 0.5h0m5.5 0h0m4.5 0h0m2 0h0m-10.5 0.5h0m1.5 0h0m1 0h0m2 0h0m14 0h0m-21 0.5h0m3 0h0m11 0h0m-14.5 0.5h0m1.5 0h0m0.5 0h0m1.5 0h0m0.5 0h0m1.5 0h0m0.5 0h0m2 0h0m0.5 0h0m0.5 0h0m1 0h0m-9 0.5h0m1 0h0m4 0h0m2 0h0m6 0h0m-13 0.5h0m0.5 0h0m0.5 0h0m5.5 0h0m1 0h0m1 0h0m0.5 0h0m9.5 0h0m0.5 0h0m0.5 0h0m-18 0.5h0m1 0h0m1 0h0m3 0h0m0.5 0h0m0.5 0h0m1.5 0h0m2 0h0m4 0h0m-14.5 0.5h0m1.5 0h0m2 0h0m2 0h0m1.5 0h0m4 0h0m1 0h0m0.5 0h0m1 0h0m0.5 0h0m1 0h0m5.5 0h0m-21.5 0.5h0m3 0h0m0.5 0h0m0.5 0h0m0.5 0h0m3.5 0h0m2.5 0h0m1 0h0m2.5 0h0m-14 0.5h0m2 0h0m1 0h0m0.5 0h0m0.5 0h0m3.5 0h0m1.5 0h0m1 0h0m2.5 0h0m5.5 0h0m2 0h0m14 0h0m17.5 0h0m-51.5 0.5h0m4.5 0h0m1.5 0h0m1.5 0h0m1.5 0h0m3 0h0m3 0h0m5 0h0m0.5 0h0m2.5 0h0m18.5 0h0m-40.5 0.5h0m1.5 0h0m1 0h0m1.5 0h0m1 0h0m0.5 0h0m5.5 0h0m3 0h0m11 0h0m-25 0.5h0m0.5 0h0m0.5 0h0m0.5 0h0m1 0h0m1 0h0m1 0h0m2 0h0m3.5 0h0m2.5 0h0m3 0h0m2.5 0h0m1 0h0m-19.5 0.5h0m0.5 0h0m1.5 0h0m1 0h0m0.5 0h0m0.5 0h0m0.5 0h0m3 0h0m3 0h0m1.5 0h0m1 0h0m0.5 0h0m1.5 0h0m28 0h0m-44 0.5h0m0.5 0h0m1 0h0m1 0h0m1.5 0h0m1 0h0m1 0h0m0.5 0h0m2 0h0m0.5 0h0m3 0h0m6 0h0m4 0h0m6.5 0h0m11 0h0m-39 0.5h0m1.5 0h0m1 0h0m1 0h0m2 0h0m1 0h0m1 0h0m1 0h0m2.5 0h0m3.5 0h0m2.5 0h0m-17.5 0.5h0m1 0h0m0.5 0h0m0.5 0h0m2.5 0h0m0.5 0h0m0.5 0h0m2.5 0h0m2 0h0m6.5 0h0m2 0h0m0.5 0h0m9 0h0m3.5 0h0m47 0h0m-78.5 0.5h0m0.5 0h0m0.5 0h0m0.5 0h0m0.5 0h0m1 0h0m0.5 0h0m1.5 0h0m3 0h0m0.5 0h0m4.5 0h0m0.5 0h0m7.5 0h0m1 0h0m3 0h0m5.5 0h0m-29 0.5h0m1.5 0h0m1.5 0h0m1.5 0h0m0.5 0h0m2.5 0h0m1 0h0m1 0h0m0.5 0h0m3 0h0m2.5 0h0m17 0h0m-33.5 0.5h0m1.5 0h0m0.5 0h0m1.5 0h0m1 0h0m0.5 0h0m1.5 0h0m1.5 0h0m0.5 0h0m0.5 0h0m0.5 0h0m0.5 0h0m0.5 0h0m3.5 0h0m0.5 0h0m11 0h0m-25 0.5h0m0.5 0h0m0.5 0h0m1 0h0m1 0h0m1 0h0m1.5 0h0m1 0h0m0.5 0h0m2.5 0h0m3.5 0h0m5 0h0m5 0h0m0.5 0h0m-24.5 0.5h0m2.5 0h0m0.5 0h0m1 0h0m1 0h0m0.5 0h0m0.5 0h0m1.5 0h0m1 0h0m1.5 0h0m4 0h0m1.5 0h0m4.5 0h0m16 0h0m-35.5 0.5h0m0.5 0h0m0.5 0h0m1 0h0m1.5 0h0m1.5 0h0m0.5 0h0m0.5 0h0m9.5 0h0m1 0h0m11 0h0m-26.5 0.5h0m1 0h0m1 0h0m2.5 0h0m1 0h0m0.5 0h0m2 0h0m1 0h0m1.5 0h0m1.5 0h0m1 0h0m2.5 0h0m11 0h0m-27 0.5h0m3 0h0m3.5 0h0m6.5 0h0m1 0h0m14.5 0h0" stroke="#0000c4" stroke-width="2.5" stroke-linecap="round" fill="none"/>
<path d="M268.2 415.1V432.7" stroke="#000" stroke-width="1.3" fill="none"/>
<path d="M268.2 437.8V595H444.3" stroke="#000" stroke-width="1.3" fill="none"/>
<line x1="265.3" y1="415.1" x2="268.2" y2="415.1" stroke="#000" stroke-width="1.3" />
<text x="264" y="417.6" font-size="7" font-weight="bold" text-anchor="end" fill="#111" textLength="11.55" lengthAdjust="spacingAndGlyphs">300</text>
<line x1="265.3" y1="432.7" x2="270.8" y2="432.7" stroke="#000" stroke-width="1.3" />
<text x="264" y="435.1" font-size="7" font-weight="bold" text-anchor="end" fill="#111" textLength="7.7" lengthAdjust="spacingAndGlyphs">35</text>
<line x1="265.3" y1="437.8" x2="270.8" y2="437.8" stroke="#000" stroke-width="1.3" />
<line x1="265.3" y1="595" x2="268.2" y2="595" stroke="#000" stroke-width="1.3" />
<text x="264" y="597.5" font-size="7" font-weight="bold" text-anchor="end" fill="#111" textLength="3.85" lengthAdjust="spacingAndGlyphs">0</text>
<line x1="265.3" y1="572.55" x2="268.2" y2="572.55" stroke="#000" stroke-width="1.3" />
<text x="264" y="575.05" font-size="7" font-weight="bold" text-anchor="end" fill="#111" textLength="3.85" lengthAdjust="spacingAndGlyphs">5</text>
<line x1="265.3" y1="550.1" x2="268.2" y2="550.1" stroke="#000" stroke-width="1.3" />
<text x="264" y="552.6" font-size="7" font-weight="bold" text-anchor="end" fill="#111" textLength="7.7" lengthAdjust="spacingAndGlyphs">10</text>
<line x1="265.3" y1="527.65" x2="268.2" y2="527.65" stroke="#000" stroke-width="1.3" />
<text x="264" y="530.15" font-size="7" font-weight="bold" text-anchor="end" fill="#111" textLength="7.7" lengthAdjust="spacingAndGlyphs">15</text>
<line x1="265.3" y1="505.2" x2="268.2" y2="505.2" stroke="#000" stroke-width="1.3" />
<text x="264" y="507.7" font-size="7" font-weight="bold" text-anchor="end" fill="#111" textLength="7.7" lengthAdjust="spacingAndGlyphs">20</text>
<line x1="265.3" y1="482.75" x2="268.2" y2="482.75" stroke="#000" stroke-width="1.3" />
<text x="264" y="485.25" font-size="7" font-weight="bold" text-anchor="end" fill="#111" textLength="7.7" lengthAdjust="spacingAndGlyphs">25</text>
<line x1="265.3" y1="460.3" x2="268.2" y2="460.3" stroke="#000" stroke-width="1.3" />
<text x="264" y="462.8" font-size="7" font-weight="bold" text-anchor="end" fill="#111" textLength="7.7" lengthAdjust="spacingAndGlyphs">30</text>
<line x1="265.3" y1="437.85" x2="268.2" y2="437.85" stroke="#000" stroke-width="1.3" />
<text x="264" y="439.65" font-size="7" font-weight="bold" text-anchor="end" fill="#111" textLength="7.7" lengthAdjust="spacingAndGlyphs">35</text>
<line x1="292.6" y1="595" x2="292.6" y2="597.9" stroke="#000" stroke-width="1.3" />
<text x="292.6" y="606.2" font-size="7" font-weight="bold" text-anchor="middle" fill="#111">-1</text>
<line x1="341.4" y1="595" x2="341.4" y2="597.9" stroke="#000" stroke-width="1.3" />
<text x="341.4" y="606.2" font-size="7" font-weight="bold" text-anchor="middle" fill="#111">0</text>
<line x1="390.2" y1="595" x2="390.2" y2="597.9" stroke="#000" stroke-width="1.3" />
<text x="390.2" y="606.2" font-size="7" font-weight="bold" text-anchor="middle" fill="#111">1</text>
<line x1="439" y1="595" x2="439" y2="597.9" stroke="#000" stroke-width="1.3" />
<text x="439" y="606.2" font-size="7" font-weight="bold" text-anchor="middle" fill="#111">2</text>
<text x="356.8" y="615.4" font-size="10.5" font-weight="bold" text-anchor="middle" textLength="38.8" lengthAdjust="spacingAndGlyphs">Log2FC</text>
<text x="251.8" y="505" font-size="10.5" font-weight="bold" text-anchor="middle" transform="rotate(-90 251.8 505)" textLength="92" lengthAdjust="spacingAndGlyphs">-Log10 adj p-value</text>
<text x="321.9" y="439.7" font-size="8.4" font-weight="bold" text-anchor="end" textLength="42.3" lengthAdjust="spacingAndGlyphs">Decreased</text>
<text x="321.9" y="449.3" font-size="8.4" font-weight="bold" text-anchor="end">by RT</text>
<path d="M278.4 452.1l7.5 -3.3v1.9H321.9v2.8H285.9v1.9z" fill="#4ea6ff"/>
<text x="319.6" y="461.6" font-size="8.2" font-weight="bold" text-anchor="end" fill="#4ea6ff">341</text>
<text x="362" y="439.7" font-size="8.4" font-weight="bold" textLength="39.3" lengthAdjust="spacingAndGlyphs">Increased</text>
<text x="362" y="449.3" font-size="8.4" font-weight="bold">by RT</text>
<path d="M362 450.7H398.9v-1.9L406.4 452.1L398.9 455.4v-1.9H362z" fill="#0000c4"/>
<text x="364" y="461.6" font-size="8.2" font-weight="bold" fill="#0000c4">476</text>
<rect x="374.5" y="461.6" width="94.3" height="76.8" rx="6" ry="6" fill="#e6e6e6" stroke="#333" stroke-width="0.9"/>
<circle cx="405" cy="499.7" r="24" fill="#a3a3a8" stroke="#333" stroke-width="0.7"/>
<path d="M405 499.7L405 475.7A24 24 0 0 1 411.05 476.47Z" fill="#0000c4" stroke="#333" stroke-width="0.3"/>
<path d="M405 499.7L411.05 476.47A24 24 0 0 1 415.18 477.97Z" fill="#4ea6ff" stroke="#333" stroke-width="0.3"/>
<circle cx="405" cy="499.7" r="24" fill="none" stroke="#333" stroke-width="0.7"/>
<text x="439.5" y="467.5" font-size="4.8" text-anchor="middle" fill="#111" stroke="#111" stroke-width="0.18">Increased</text>
<text x="439.5" y="472.8" font-size="4.8" text-anchor="middle" fill="#111" stroke="#111" stroke-width="0.18">Phosphorylation</text>
<text x="439.5" y="478.1" font-size="4.8" text-anchor="middle" fill="#111" stroke="#111" stroke-width="0.18">by RT (476)</text>
<text x="449.4" y="488" font-size="4.8" text-anchor="middle" fill="#111" stroke="#111" stroke-width="0.18">Decreased</text>
<text x="449.4" y="493.3" font-size="4.8" text-anchor="middle" fill="#111" stroke="#111" stroke-width="0.18">Phosphorylation</text>
<text x="449.4" y="498.6" font-size="4.8" text-anchor="middle" fill="#111" stroke="#111" stroke-width="0.18">by RT (341)</text>
<line x1="408.4" y1="479.4" x2="420.7" y2="471.9" stroke="#111" stroke-width="0.6" />
<line x1="413.2" y1="480.7" x2="431.5" y2="488.9" stroke="#111" stroke-width="0.6" />
<text x="405" y="505.5" font-size="4.8" font-weight="bold" text-anchor="middle" fill="#222">Not</text>
<text x="405" y="510.9" font-size="4.8" font-weight="bold" text-anchor="middle" fill="#222">RT-regulated</text>
<text x="405" y="516.3" font-size="4.8" font-weight="bold" text-anchor="middle" fill="#222">(10,917)</text>
<text x="404.4" y="530.2" font-size="7.4" font-weight="bold" text-anchor="middle" fill="#111" textLength="49" lengthAdjust="spacingAndGlyphs">Phosphopeptides</text>
<text x="404.4" y="536.6" font-size="7.2" font-weight="bold" text-anchor="middle" fill="#111" textLength="49" lengthAdjust="spacingAndGlyphs">Identified = 11,734</text>
<text x="473" y="411" font-size="14" font-weight="bold">J</text>
<line x1="570.14" y1="410.3" x2="570.14" y2="593" stroke="#d8d8d8" stroke-width="0.7" stroke-dasharray="5 1"/>
<line x1="610.26" y1="410.3" x2="610.26" y2="593" stroke="#d8d8d8" stroke-width="0.7" stroke-dasharray="5 1"/>
<line x1="502.3" y1="589.03" x2="679" y2="589.03" stroke="#c4c4c4" stroke-width="0.7" stroke-dasharray="5 1"/>
<line x1="590.4" y1="410.3" x2="590.4" y2="593" stroke="#444" stroke-width="1.3" />
<path d="M610.5 575.5h0m-37 4h0m33 0h0m-32 1h0m4 0h0m-4 2h0m32 0h0m-36 1h0m1 0h0m30 0h0m3 0h0m5 0h0m-37 1h0m1 0h0m1 0h0m2 0h0m26 0h0m2 0h0m4 0h0m-37 1h0m2 0h0m4 0h0m23 0h0m3 0h0m2 0h0m2 0h0m-35 1h0m1 0h0m1 0h0m1 0h0m2 0h0m1 0h0m1 0h0m2 0h0m18 0h0m1 0h0m1 0h0m2 0h0m1 0h0m2 0h0m1 0h0m1 0h0m2 0h0m-39 1h0m1 0h0m1 0h0m1 0h0m1 0h0m1 0h0m1 0h0m1 0h0m1 0h0m1 0h0m19 0h0m1 0h0m1 0h0m1 0h0m1 0h0m1 0h0m1 0h0m1 0h0m1 0h0m2 0h0m1 0h0m-39 1h0m1 0h0m1 0h0m1 0h0m1 0h0m2 0h0m1 0h0m1 0h0m1 0h0m1 0h0m18 0h0m1 0h0m1 0h0m1 0h0m1 0h0m1 0h0m2 0h0m1 0h0m1 0h0m1 0h0m-42 1h0m6 0h0m1 0h0m1 0h0m1 0h0m1 0h0m1 0h0m1 0h0m1 0h0m1 0h0m1 0h0m1 0h0m14 0h0m1 0h0m1 0h0m1 0h0m1 0h0m1 0h0m1 0h0m1 0h0m1 0h0m1 0h0m1 0h0m1 0h0m1 0h0m1 0h0m1 0h0m2 0h0m1 0h0m-84 1h0m20 0h0m2 0h0m9 0h0m1 0h0m3 0h0m3 0h0m1 0h0m2 0h0m1 0h0m1 0h0m1 0h0m1 0h0m1 0h0m1 0h0m1 0h0m1 0h0m1 0h0m1 0h0m1 0h0m1 0h0m1 0h0m12 0h0m1 0h0m1 0h0m1 0h0m1 0h0m1 0h0m1 0h0m1 0h0m1 0h0m1 0h0m1 0h0m1 0h0m1 0h0m1 0h0m2 0h0m1 0h0m4 0h0m1 0h0m5 0h0m-76 1h0m17 0h0m1 0h0m1 0h0m1 0h0m1 0h0m2 0h0m1 0h0m1 0h0m2 0h0m1 0h0m1 0h0m1 0h0m1 0h0m1 0h0m1 0h0m1 0h0m1 0h0m1 0h0m1 0h0m1 0h0m1 0h0m1 0h0m1 0h0m7 0h0m1 0h0m1 0h0m1 0h0m1 0h0m1 0h0m1 0h0m1 0h0m1 0h0m1 0h0m1 0h0m1 0h0m1 0h0m1 0h0m1 0h0m1 0h0m1 0h0m1 0h0m1 0h0m1 0h0m2 0h0m2 0h0m3 0h0m14 0h0m-79 1h0m3 0h0m1 0h0m2 0h0m1 0h0m2 0h0m3 0h0m1 0h0m1 0h0m1 0h0m2 0h0m1 0h0m1 0h0m1 0h0m1 0h0m1 0h0m1 0h0m1 0h0m1 0h0m1 0h0m1 0h0m1 0h0m1 0h0m1 0h0m1 0h0m1 0h0m1 0h0m4 0h0m1 0h0m1 0h0m1 0h0m1 0h0m1 0h0m1 0h0m1 0h0m1 0h0m1 0h0m1 0h0m1 0h0m1 0h0m1 0h0m1 0h0m1 0h0m2 0h0m2 0h0m1 0h0m1 0h0m1 0h0m2 0h0m1 0h0m1 0h0m3 0h0m5 0h0m13 0h0m-94 1h0m17 0h0m2 0h0m1 0h0m1 0h0m5 0h0m2 0h0m1 0h0m1 0h0m1 0h0m1 0h0m1 0h0m1 0h0m1 0h0m1 0h0m1 0h0m1 0h0m1 0h0m1 0h0m1 0h0m1 0h0m1 0h0m1 0h0m1 0h0m1 0h0m1 0h0m1 0h0m1 0h0m1 0h0m1 0h0m1 0h0m1 0h0m1 0h0m1 0h0m1 0h0m1 0h0m1 0h0m1 0h0m1 0h0m2 0h0m1 0h0m3 0h0m1 0h0m1 0h0m1 0h0m1 0h0m1 0h0m3 0h0m8 0h0" stroke="#a3a3a7" stroke-width="1.2" stroke-linecap="round" fill="none"/>
<path d="M503.5 577h0m60 4h0m-18.5 1.5h0m14.5 1.5h0m-4.5 0.5h0m-3 1h0m-9.5 0.5h0m14.5 0h0m-3 0.5h0m-12.5 0.5h0m9 0h0m5.5 0h0m-23.5 0.5h0m11 0.5h0m9.5 0h0m15 0h0m-22 0.5h0m23 0h0" stroke="#4ea6ff" stroke-width="2.5" stroke-linecap="round" fill="none"/>
<path d="M619 580h0m-1 1h0m5.5 5.5h0m-12 2h0m4 0.5h0" stroke="#0000c4" stroke-width="2.5" stroke-linecap="round" fill="none"/>
<path d="M502.3 410.3V593H679" stroke="#000" stroke-width="1.3" fill="none"/>
<line x1="499.4" y1="593" x2="502.3" y2="593" stroke="#000" stroke-width="1.3" />
<text x="498.1" y="595.5" font-size="7" font-weight="bold" text-anchor="end" fill="#111" textLength="3.85" lengthAdjust="spacingAndGlyphs">0</text>
<line x1="499.4" y1="532" x2="502.3" y2="532" stroke="#000" stroke-width="1.3" />
<text x="498.1" y="534.5" font-size="7" font-weight="bold" text-anchor="end" fill="#111" textLength="7.7" lengthAdjust="spacingAndGlyphs">20</text>
<line x1="499.4" y1="471" x2="502.3" y2="471" stroke="#000" stroke-width="1.3" />
<text x="498.1" y="473.5" font-size="7" font-weight="bold" text-anchor="end" fill="#111" textLength="7.7" lengthAdjust="spacingAndGlyphs">40</text>
<line x1="499.4" y1="410" x2="502.3" y2="410" stroke="#000" stroke-width="1.3" />
<text x="498.1" y="412.5" font-size="7" font-weight="bold" text-anchor="end" fill="#111" textLength="7.7" lengthAdjust="spacingAndGlyphs">60</text>
<line x1="510.4" y1="593" x2="510.4" y2="595.9" stroke="#000" stroke-width="1.3" />
<text x="510.4" y="604.2" font-size="7" font-weight="bold" text-anchor="middle" fill="#111">-1.5</text>
<line x1="537" y1="593" x2="537" y2="595.9" stroke="#000" stroke-width="1.3" />
<text x="537" y="604.2" font-size="7" font-weight="bold" text-anchor="middle" fill="#111">-1.0</text>
<line x1="563.6" y1="593" x2="563.6" y2="595.9" stroke="#000" stroke-width="1.3" />
<text x="563.6" y="604.2" font-size="7" font-weight="bold" text-anchor="middle" fill="#111">-0.5</text>
<line x1="590.2" y1="593" x2="590.2" y2="595.9" stroke="#000" stroke-width="1.3" />
<text x="590.2" y="604.2" font-size="7" font-weight="bold" text-anchor="middle" fill="#111">0.0</text>
<line x1="616.8" y1="593" x2="616.8" y2="595.9" stroke="#000" stroke-width="1.3" />
<text x="616.8" y="604.2" font-size="7" font-weight="bold" text-anchor="middle" fill="#111">0.5</text>
<line x1="643.4" y1="593" x2="643.4" y2="595.9" stroke="#000" stroke-width="1.3" />
<text x="643.4" y="604.2" font-size="7" font-weight="bold" text-anchor="middle" fill="#111">1.0</text>
<line x1="670" y1="593" x2="670" y2="595.9" stroke="#000" stroke-width="1.3" />
<text x="670" y="604.2" font-size="7" font-weight="bold" text-anchor="middle" fill="#111">1.5</text>
<text x="590.5" y="616.3" font-size="10.5" font-weight="bold" text-anchor="middle" textLength="38.8" lengthAdjust="spacingAndGlyphs">Log2FC</text>
<text x="485.7" y="500.8" font-size="10.5" font-weight="bold" text-anchor="middle" transform="rotate(-90 485.7 500.8)" textLength="92" lengthAdjust="spacingAndGlyphs">-Log10 adj p-value</text>
<text x="568" y="429.5" font-size="8.4" font-weight="bold" text-anchor="end" textLength="42.3" lengthAdjust="spacingAndGlyphs">Decreased</text>
<text x="568" y="439.1" font-size="8.4" font-weight="bold" text-anchor="end">by RT</text>
<path d="M524.7 442.3l7.5 -3.3v1.9H568v2.8H532.2v1.9z" fill="#4ea6ff"/>
<text x="567.1" y="451.4" font-size="8.2" font-weight="bold" text-anchor="end" fill="#4ea6ff">18</text>
<text x="612.5" y="429.5" font-size="8.4" font-weight="bold" textLength="39.3" lengthAdjust="spacingAndGlyphs">Increased</text>
<text x="612.5" y="439.1" font-size="8.4" font-weight="bold">by RT</text>
<path d="M612.5 440.9H649.8v-1.9L657.3 442.3L649.8 445.6v-1.9H612.5z" fill="#0000c4"/>
<text x="614.7" y="451.4" font-size="8.2" font-weight="bold" fill="#0000c4">5</text>
<rect x="511.7" y="462.6" width="67.1" height="87.6" rx="6" ry="6" fill="#e6e6e6" stroke="#333" stroke-width="0.9"/>
<circle cx="540" cy="510.3" r="24.3" fill="#a3a3a8" stroke="#333" stroke-width="0.7"/>
<path d="M540 510.3L540 486A24.3 24.3 0 0 1 540.4 486Z" fill="#0000c4" stroke="#333" stroke-width="0.3"/>
<path d="M540 510.3L540.4 486A24.3 24.3 0 0 1 541.84 486.07Z" fill="#4ea6ff" stroke="#333" stroke-width="0.3"/>
<circle cx="540" cy="510.3" r="24.3" fill="none" stroke="#333" stroke-width="0.7"/>
<text x="528.9" y="468.9" font-size="4.8" text-anchor="middle" fill="#111" stroke="#111" stroke-width="0.18">Increased</text>
<text x="528.9" y="474.2" font-size="4.8" text-anchor="middle" fill="#111" stroke="#111" stroke-width="0.18">Acetylation</text>
<text x="528.9" y="479.5" font-size="4.8" text-anchor="middle" fill="#111" stroke="#111" stroke-width="0.18">by RT (5)</text>
<text x="562.7" y="472.9" font-size="4.8" text-anchor="middle" fill="#111" stroke="#111" stroke-width="0.18">Decreased</text>
<text x="562.7" y="478.2" font-size="4.8" text-anchor="middle" fill="#111" stroke="#111" stroke-width="0.18">Acetylation</text>
<text x="562.7" y="483.5" font-size="4.8" text-anchor="middle" fill="#111" stroke="#111" stroke-width="0.18">by RT (18)</text>
<line x1="533" y1="481" x2="537" y2="486" stroke="#111" stroke-width="0.6" />
<line x1="552" y1="482" x2="543" y2="486" stroke="#111" stroke-width="0.6" />
<text x="540" y="517.9" font-size="4.8" font-weight="bold" text-anchor="middle" fill="#222">Not</text>
<text x="540" y="523.3" font-size="4.8" font-weight="bold" text-anchor="middle" fill="#222">RT-regulated</text>
<text x="540" y="528.7" font-size="4.8" font-weight="bold" text-anchor="middle" fill="#222">(1,870)</text>
<text x="539.7" y="541.7" font-size="7.4" font-weight="bold" text-anchor="middle" fill="#111" textLength="44" lengthAdjust="spacingAndGlyphs">Acetylpeptides</text>
<text x="539.7" y="548.3" font-size="7.2" font-weight="bold" text-anchor="middle" fill="#111" textLength="48" lengthAdjust="spacingAndGlyphs">Identified = 1,893</text>
<defs><clipPath id="cE"><circle cx="182.4" cy="715.6" r="28.4"/></clipPath><clipPath id="cH"><circle cx="376.8" cy="719.5" r="53"/></clipPath><clipPath id="cK"><circle cx="603.2" cy="699.7" r="9"/></clipPath></defs>
<text x="61.5" y="642.1" font-size="13.5" font-weight="bold">E</text>
<text x="88.9" y="641.7" font-size="13.2" font-weight="bold" textLength="116.6" lengthAdjust="spacingAndGlyphs">Global Proteome</text>
<circle cx="123.5" cy="715.4" r="50.3" fill="#bd4b4b" stroke="#333" stroke-width="0.6"/>
<circle cx="182.4" cy="715.6" r="28.4" fill="#4b4bd6" stroke="#333" stroke-width="0.6"/>
<circle cx="123.5" cy="715.4" r="50.3" fill="#3a1ca0" clip-path="url(#cE)"/>
<circle cx="123.5" cy="715.4" r="50.3" fill="none" stroke="#333" stroke-width="0.6"/>
<circle cx="182.4" cy="715.6" r="28.4" fill="none" stroke="#333" stroke-width="0.6"/>
<text x="110.4" y="663.9" font-size="14" font-weight="bold" textLength="26.3" lengthAdjust="spacingAndGlyphs">HIIT</text>
<text x="173.5" y="685.4" font-size="14" font-weight="bold" textLength="18.4" lengthAdjust="spacingAndGlyphs">RT</text>
<text x="116.2" y="720" font-size="11.5" font-weight="bold" text-anchor="middle" fill="#fff" textLength="19.7" lengthAdjust="spacingAndGlyphs">410</text>
<text x="164.3" y="720" font-size="11.5" font-weight="bold" text-anchor="middle" fill="#fff" textLength="13" lengthAdjust="spacingAndGlyphs">41</text>
<text x="194" y="720" font-size="11.5" font-weight="bold" text-anchor="middle" fill="#fff" textLength="19.7" lengthAdjust="spacingAndGlyphs">103</text>
<text x="265.3" y="642.1" font-size="13.5" font-weight="bold">H</text>
<text x="296.3" y="642.2" font-size="13.2" font-weight="bold" textLength="129.2" lengthAdjust="spacingAndGlyphs">Phosphoproteome</text>
<circle cx="319" cy="720.4" r="34.3" fill="#bd4b4b" stroke="#333" stroke-width="0.6"/>
<circle cx="376.8" cy="719.5" r="53" fill="#4b4bd6" stroke="#333" stroke-width="0.6"/>
<circle cx="319" cy="720.4" r="34.3" fill="#3a1ca0" clip-path="url(#cH)"/>
<circle cx="319" cy="720.4" r="34.3" fill="none" stroke="#333" stroke-width="0.6"/>
<circle cx="376.8" cy="719.5" r="53" fill="none" stroke="#333" stroke-width="0.6"/>
<text x="301" y="683" font-size="14" font-weight="bold" textLength="26.3" lengthAdjust="spacingAndGlyphs">HIIT</text>
<text x="371.2" y="664.7" font-size="14" font-weight="bold" textLength="18.4" lengthAdjust="spacingAndGlyphs">RT</text>
<text x="304.2" y="724.4" font-size="11.5" font-weight="bold" text-anchor="middle" fill="#fff" textLength="18.5" lengthAdjust="spacingAndGlyphs">117</text>
<text x="338.8" y="724.4" font-size="11.5" font-weight="bold" text-anchor="middle" fill="#fff" textLength="13" lengthAdjust="spacingAndGlyphs">80</text>
<text x="385.1" y="724.4" font-size="11.5" font-weight="bold" text-anchor="middle" fill="#fff" textLength="19.7" lengthAdjust="spacingAndGlyphs">384</text>
<text x="503.4" y="642.1" font-size="13.5" font-weight="bold">K</text>
<text x="529.4" y="642.2" font-size="13.2" font-weight="bold" textLength="111.7" lengthAdjust="spacingAndGlyphs">Acetylproteome</text>
<circle cx="568.2" cy="698.7" r="31.5" fill="#bd4b4b" stroke="#333" stroke-width="0.6"/>
<circle cx="603.2" cy="699.7" r="9" fill="#4b4bd6" stroke="#333" stroke-width="0.6"/>
<circle cx="568.2" cy="698.7" r="31.5" fill="#3a1ca0" clip-path="url(#cK)"/>
<circle cx="568.2" cy="698.7" r="31.5" fill="none" stroke="#333" stroke-width="0.6"/>
<circle cx="603.2" cy="699.7" r="9" fill="none" stroke="#333" stroke-width="0.6"/>
<text x="554.4" y="665.2" font-size="14" font-weight="bold" textLength="27.6" lengthAdjust="spacingAndGlyphs">HIIT</text>
<text x="600.4" y="688.3" font-size="14" font-weight="bold" textLength="18.9" lengthAdjust="spacingAndGlyphs">RT</text>
<text x="564.4" y="704" font-size="11.5" font-weight="bold" text-anchor="middle" fill="#fff" textLength="19.7" lengthAdjust="spacingAndGlyphs">168</text>
<text x="599.8" y="734.8" font-size="11.5" font-weight="bold" textLength="5.8" lengthAdjust="spacingAndGlyphs">4</text>
<text x="616.1" y="725.6" font-size="11.5" font-weight="bold" textLength="11.8" lengthAdjust="spacingAndGlyphs">10</text>
<line x1="601.5" y1="725.5" x2="599" y2="709" stroke="#000" stroke-width="1.2" />
<path d="M598.3 704.8l-1.9 5.0 4.1-0.6z" fill="#000"/>
<line x1="617" y1="716" x2="610.6" y2="707.6" stroke="#000" stroke-width="1.2" />
<path d="M608.6 705l0.3 5.1 3.4-2.5z" fill="#000"/>
<defs><linearGradient id="gUp" x1="19.2" y1="59.3" x2="40.6" y2="35.9" gradientUnits="userSpaceOnUse"><stop offset="0" stop-color="#222" stop-opacity="0"/><stop offset="0.5" stop-color="#222" stop-opacity="1"/></linearGradient><linearGradient id="gDn" x1="19.8" y1="96.6" x2="40.6" y2="119.3" gradientUnits="userSpaceOnUse"><stop offset="0" stop-color="#222" stop-opacity="0"/><stop offset="0.5" stop-color="#222" stop-opacity="1"/></linearGradient></defs>
<text x="13.2" y="17.5" font-size="14" font-weight="bold">A</text>
<g><path d="M0.6 66.3L3.4 64.5L11 78.3L26.6 77.2L26.6 87.8L9.2 87.8L8.6 84.6Z" fill="#3f3f3f"/><path d="M6.8 67.5L11.6 76.2L24 75.8L32.8 86.8" stroke="#fff" stroke-width="3.6" stroke-linecap="round" stroke-linejoin="round" fill="none"/><path d="M6.8 67.5L11.6 76.2L24 75.8L32.8 86.8" stroke="#b9b9b9" stroke-width="2.2" stroke-linecap="round" stroke-linejoin="round" fill="none"/><path d="M7.5 67.5L10.5 74.5" stroke="#b9b9b9" stroke-width="3.2" stroke-linecap="round"/><circle cx="6.8" cy="62.6" r="3" fill="#ababab"/></g>
<path d="M21.27 61.19L35.24 45.91L37.16 47.66L40.6 35.9L29.19 40.37L31.11 42.13L17.13 57.41Z" fill="url(#gUp)"/>
<path d="M17.74 98.49L31.1 113.08L29.19 114.84L40.6 119.3L37.15 107.54L35.23 109.3L21.86 94.71Z" fill="url(#gDn)"/>
<text x="44.5" y="29.2" font-size="12.5" font-weight="bold" textLength="24.1" lengthAdjust="spacingAndGlyphs">HIIT</text>
<text x="47.4" y="42.3" font-size="9" font-weight="bold" textLength="17.6" lengthAdjust="spacingAndGlyphs">n=7</text>
<text x="43.8" y="50.8" font-size="6.3" fill="#333" textLength="25.5" lengthAdjust="spacingAndGlyphs">(4<tspan font-size="8.5">&#9794;</tspan>, 3<tspan font-size="8.5">&#9792;</tspan>)</text>
<text x="35.8" y="57.6" font-size="6.9" fill="#333" textLength="41.6" lengthAdjust="spacingAndGlyphs">mean age: 23</text>
<text x="49" y="125" font-size="12.5" font-weight="bold" textLength="15.2" lengthAdjust="spacingAndGlyphs">RT</text>
<text x="47.4" y="137.4" font-size="9" font-weight="bold" textLength="17.6" lengthAdjust="spacingAndGlyphs">n=7</text>
<text x="43.8" y="145.9" font-size="6.3" fill="#333" textLength="25.5" lengthAdjust="spacingAndGlyphs">(4<tspan font-size="8.5">&#9794;</tspan>, 3<tspan font-size="8.5">&#9792;</tspan>)</text>
<text x="35.8" y="152.7" font-size="6.9" fill="#333" textLength="41.6" lengthAdjust="spacingAndGlyphs">mean age: 24</text>
<line x1="97" y1="33.3" x2="210.2" y2="33.3" stroke="#222" stroke-width="0.9" />
<line x1="106" y1="30.5" x2="106" y2="35.6" stroke="#222" stroke-width="0.9" />
<line x1="115.43" y1="30.5" x2="115.43" y2="35.6" stroke="#222" stroke-width="0.9" />
<line x1="124.86" y1="30.5" x2="124.86" y2="35.6" stroke="#222" stroke-width="0.9" />
<line x1="134.29" y1="30.5" x2="134.29" y2="35.6" stroke="#222" stroke-width="0.9" />
<line x1="143.72" y1="30.5" x2="143.72" y2="35.6" stroke="#222" stroke-width="0.9" />
<line x1="153.15" y1="30.5" x2="153.15" y2="35.6" stroke="#222" stroke-width="0.9" />
<line x1="162.58" y1="30.5" x2="162.58" y2="35.6" stroke="#222" stroke-width="0.9" />
<line x1="172.01" y1="30.5" x2="172.01" y2="35.6" stroke="#222" stroke-width="0.9" />
<line x1="181.44" y1="30.5" x2="181.44" y2="35.6" stroke="#222" stroke-width="0.9" />
<line x1="190.87" y1="30.5" x2="190.87" y2="35.6" stroke="#222" stroke-width="0.9" />
<line x1="200.3" y1="30.5" x2="200.3" y2="35.6" stroke="#222" stroke-width="0.9" />
<line x1="97" y1="128" x2="210.2" y2="128" stroke="#222" stroke-width="0.9" />
<line x1="106" y1="125.2" x2="106" y2="130.3" stroke="#222" stroke-width="0.9" />
<line x1="115.43" y1="125.2" x2="115.43" y2="130.3" stroke="#222" stroke-width="0.9" />
<line x1="124.86" y1="125.2" x2="124.86" y2="130.3" stroke="#222" stroke-width="0.9" />
<line x1="134.29" y1="125.2" x2="134.29" y2="130.3" stroke="#222" stroke-width="0.9" />
<line x1="143.72" y1="125.2" x2="143.72" y2="130.3" stroke="#222" stroke-width="0.9" />
<line x1="153.15" y1="125.2" x2="153.15" y2="130.3" stroke="#222" stroke-width="0.9" />
<line x1="162.58" y1="125.2" x2="162.58" y2="130.3" stroke="#222" stroke-width="0.9" />
<line x1="172.01" y1="125.2" x2="172.01" y2="130.3" stroke="#222" stroke-width="0.9" />
<line x1="181.44" y1="125.2" x2="181.44" y2="130.3" stroke="#222" stroke-width="0.9" />
<line x1="190.87" y1="125.2" x2="190.87" y2="130.3" stroke="#222" stroke-width="0.9" />
<line x1="200.3" y1="125.2" x2="200.3" y2="130.3" stroke="#222" stroke-width="0.9" />
<text x="139" y="43.4" font-size="7" font-weight="bold" fill="#222" textLength="28.4" lengthAdjust="spacingAndGlyphs">12 weeks</text>
<text x="140" y="123" font-size="7" font-weight="bold" fill="#222" textLength="27.7" lengthAdjust="spacingAndGlyphs">12 weeks</text>
<circle cx="85" cy="32.3" r="12.1" fill="#eef2fa" stroke="#222" stroke-width="0.9"/>
<text x="85" y="35.5" font-size="9" font-weight="bold" text-anchor="middle" fill="#111" textLength="15" lengthAdjust="spacingAndGlyphs">Pre</text>
<circle cx="85" cy="127.4" r="12.1" fill="#eef2fa" stroke="#222" stroke-width="0.9"/>
<text x="85" y="130.6" font-size="9" font-weight="bold" text-anchor="middle" fill="#111" textLength="15" lengthAdjust="spacingAndGlyphs">Pre</text>
<circle cx="222.5" cy="33.3" r="12.1" fill="#eef2fa" stroke="#222" stroke-width="0.9"/>
<text x="222.5" y="36.5" font-size="9" font-weight="bold" text-anchor="middle" fill="#111" textLength="19.5" lengthAdjust="spacingAndGlyphs">Post</text>
<circle cx="222.5" cy="128.2" r="12.1" fill="#eef2fa" stroke="#222" stroke-width="0.9"/>
<text x="222.5" y="131.4" font-size="9" font-weight="bold" text-anchor="middle" fill="#111" textLength="19.5" lengthAdjust="spacingAndGlyphs">Post</text>
<defs><linearGradient id="va1" x1="0" y1="59" x2="0" y2="46.6" gradientUnits="userSpaceOnUse"><stop offset="0" stop-color="#222" stop-opacity="0.15"/><stop offset="0.45" stop-color="#222" stop-opacity="1"/></linearGradient></defs>
<path d="M85.4 46.6L89.4 52.2H87.1V59H83.7V52.2H81.4Z" fill="url(#va1)"/>
<defs><linearGradient id="va2" x1="0" y1="99.4" x2="0" y2="112.8" gradientUnits="userSpaceOnUse"><stop offset="0" stop-color="#222" stop-opacity="0.15"/><stop offset="0.45" stop-color="#222" stop-opacity="1"/></linearGradient></defs>
<path d="M85.8 112.8L89.8 107.2H87.5V99.4H84.1V107.2H81.8Z" fill="url(#va2)"/>
<defs><linearGradient id="va3" x1="0" y1="59" x2="0" y2="47.2" gradientUnits="userSpaceOnUse"><stop offset="0" stop-color="#222" stop-opacity="0.15"/><stop offset="0.45" stop-color="#222" stop-opacity="1"/></linearGradient></defs>
<path d="M222.5 47.2L226.5 52.8H224.2V59H220.8V52.8H218.5Z" fill="url(#va3)"/>
<defs><linearGradient id="va4" x1="0" y1="100" x2="0" y2="113.4" gradientUnits="userSpaceOnUse"><stop offset="0" stop-color="#222" stop-opacity="0.15"/><stop offset="0.45" stop-color="#222" stop-opacity="1"/></linearGradient></defs>
<path d="M222.5 113.4L226.5 107.8H224.2V100H220.8V107.8H218.5Z" fill="url(#va4)"/>
<line x1="75.6" y1="67.6" x2="101" y2="61" stroke="#555" stroke-width="2.1" stroke-linecap="round"/>
<line x1="75.6" y1="67.6" x2="101" y2="61" stroke="#e2e2e2" stroke-width="1.3" stroke-linecap="round"/>
<circle cx="75.6" cy="67.6" r="1.5" fill="#d04444"/>
<line x1="213.4" y1="68.3" x2="238.4" y2="61.7" stroke="#555" stroke-width="2.1" stroke-linecap="round"/>
<line x1="213.4" y1="68.3" x2="238.4" y2="61.7" stroke="#e2e2e2" stroke-width="1.3" stroke-linecap="round"/>
<circle cx="213.4" cy="68.3" r="1.5" fill="#d04444"/>
<rect x="79.3" y="71.4" width="11.5" height="12" fill="#b6a2d8" stroke="#6c4fa0" stroke-width="0.7"/>
<rect x="79.3" y="83.4" width="11.5" height="12.4" fill="#f6bf98" stroke="#e07a30" stroke-width="0.7"/>
<text x="85.05" y="80.46" font-size="8.5" font-weight="bold" text-anchor="middle" fill="#111">M</text>
<text x="85.05" y="92.66" font-size="8.5" font-weight="bold" text-anchor="middle" fill="#111">P</text>
<rect x="216.3" y="72.5" width="11.7" height="11.5" fill="#b6a2d8" stroke="#6c4fa0" stroke-width="0.7"/>
<rect x="216.3" y="84" width="11.7" height="12.3" fill="#f6bf98" stroke="#e07a30" stroke-width="0.7"/>
<text x="222.15" y="81.31" font-size="8.5" font-weight="bold" text-anchor="middle" fill="#111">M</text>
<text x="222.15" y="93.21" font-size="8.5" font-weight="bold" text-anchor="middle" fill="#111">P</text>
<rect x="118.1" y="57.2" width="74.9" height="44.4" rx="5" ry="5" fill="#e4e4e4" stroke="#555" stroke-width="0.9"/>
<text x="144.4" y="66.2" font-size="8" font-weight="bold" fill="#111" textLength="24.5" lengthAdjust="spacingAndGlyphs">Legend</text>
<line x1="144.4" y1="67.3" x2="168.9" y2="67.3" stroke="#111" stroke-width="0.7" />
<line x1="122.6" y1="72.3" x2="130" y2="62" stroke="#555" stroke-width="1.4" stroke-linecap="round"/>
<line x1="122.6" y1="72.3" x2="130" y2="62" stroke="#e2e2e2" stroke-width="0.6" stroke-linecap="round"/>
<circle cx="122.6" cy="72.3" r="0.8" fill="#d04444"/>
<text x="131.7" y="73.2" font-size="6" font-weight="bold" fill="#111" textLength="57" lengthAdjust="spacingAndGlyphs">Muscle Biopsy Sample</text>
<rect x="121.6" y="75.9" width="8.4" height="8.5" fill="#b6a2d8" stroke="#6c4fa0" stroke-width="0.6"/>
<text x="125.8" y="82.9" font-size="7.5" font-weight="bold" text-anchor="middle" fill="#111">M</text>
<text x="131.7" y="82.6" font-size="6" font-weight="bold" fill="#111" textLength="58.3" lengthAdjust="spacingAndGlyphs">Metabolomics Analysis</text>
<rect x="121.6" y="86.1" width="8.4" height="8.6" fill="#f6bf98" stroke="#e07a30" stroke-width="0.6"/>
<text x="125.8" y="93.1" font-size="7.5" font-weight="bold" text-anchor="middle" fill="#111">P</text>
<text x="131.7" y="91.8" font-size="6" font-weight="bold" fill="#111" textLength="33.5" lengthAdjust="spacingAndGlyphs">PTM Analysis</text>
<text x="131.7" y="98.2" font-size="6" font-weight="bold" fill="#111" textLength="50.5" lengthAdjust="spacingAndGlyphs">(phospho and acetyl)</text>
<g transform="translate(0 0)"><path d="M103.8 12.6L109 11.3" stroke="#9e2a2a" stroke-width="2" stroke-linecap="round"/><path d="M105.5 12.5L111.5 20.5M111 20.5L121.3 12.6M121.3 12.6L122 8" stroke="#9e2a2a" stroke-width="1.4" fill="none"/><path d="M121.6 7.6l1.4-0.9" stroke="#9e2a2a" stroke-width="1.2"/><path d="M110.5 21.3H119" stroke="#9e2a2a" stroke-width="2.6"/><path d="M106 26.5L112.5 20M121.5 21.5L125 26.5" stroke="#9e2a2a" stroke-width="1.3"/><path d="M101.6 26.9H108.2M121.2 26.9H128.2" stroke="#9e2a2a" stroke-width="1.4" stroke-linecap="round"/><circle cx="120.6" cy="21.3" r="3.8" fill="#9e2a2a"/><circle cx="120.6" cy="21.3" r="1.3" fill="#fff"/><circle cx="120.6" cy="21.3" r="0.5" fill="#9e2a2a"/><circle cx="116.7" cy="3.9" r="2.5" fill="#d9846a"/><path d="M107.6 10.6C108.4 7.6 110.6 6.6 113.4 6.6" stroke="#d9846a" stroke-width="4" stroke-linecap="round" fill="none"/><path d="M114.5 6.5L116.5 10.3L120.5 9.5" stroke="#d9846a" stroke-width="1.4" stroke-linecap="round" stroke-linejoin="round" fill="none"/><path d="M108 11.5L111.2 13.8L110.6 21.8" stroke="#d9846a" stroke-width="1.8" stroke-linecap="round" stroke-linejoin="round" fill="none"/><path d="M110.5 12.8L113 15.3" stroke="#d9846a" stroke-width="1.3" stroke-linecap="round"/></g>
<g><rect x="139.9" y="25.9" width="26.6" height="2.6" rx="1.3" fill="#d47b66"/><circle cx="141.2" cy="27.2" r="0.5" fill="#fff"/><circle cx="165.3" cy="27.2" r="0.5" fill="#fff"/><path d="M164.4 26C163.8 21 162.8 17 161.6 14.6L164 10.2M161.6 14.6L160.2 15.2" stroke="#d47b66" stroke-width="1.1" fill="none" stroke-linecap="round"/><circle cx="154.4" cy="2.7" r="2.3" fill="#9b1e1e"/><path d="M152.3 6.5L151.3 15.3" stroke="#9b1e1e" stroke-width="4.2" stroke-linecap="round"/><path d="M150.6 6.6L147.6 7.2L145.8 9.9" stroke="#9b1e1e" stroke-width="1.6" stroke-linecap="round" stroke-linejoin="round" fill="none"/><path d="M153.8 9.5L155 11.6L159.5 11.7" stroke="#9b1e1e" stroke-width="1.6" stroke-linecap="round" stroke-linejoin="round" fill="none"/><path d="M150.6 15.5L148.7 18.8L141.8 19.2" stroke="#9b1e1e" stroke-width="2" stroke-linecap="round" stroke-linejoin="round" fill="none"/><path d="M152 15.5L154.8 18.2L154.6 24.3" stroke="#9b1e1e" stroke-width="2" stroke-linecap="round" stroke-linejoin="round" fill="none"/></g>
<g transform="translate(76.6 0.3)"><path d="M103.8 12.6L109 11.3" stroke="#9e2a2a" stroke-width="2" stroke-linecap="round"/><path d="M105.5 12.5L111.5 20.5M111 20.5L121.3 12.6M121.3 12.6L122 8" stroke="#9e2a2a" stroke-width="1.4" fill="none"/><path d="M121.6 7.6l1.4-0.9" stroke="#9e2a2a" stroke-width="1.2"/><path d="M110.5 21.3H119" stroke="#9e2a2a" stroke-width="2.6"/><path d="M106 26.5L112.5 20M121.5 21.5L125 26.5" stroke="#9e2a2a" stroke-width="1.3"/><path d="M101.6 26.9H108.2M121.2 26.9H128.2" stroke="#9e2a2a" stroke-width="1.4" stroke-linecap="round"/><circle cx="120.6" cy="21.3" r="3.8" fill="#9e2a2a"/><circle cx="120.6" cy="21.3" r="1.3" fill="#fff"/><circle cx="120.6" cy="21.3" r="0.5" fill="#9e2a2a"/><circle cx="116.7" cy="3.9" r="2.5" fill="#d9846a"/><path d="M107.6 10.6C108.4 7.6 110.6 6.6 113.4 6.6" stroke="#d9846a" stroke-width="4" stroke-linecap="round" fill="none"/><path d="M114.5 6.5L116.5 10.3L120.5 9.5" stroke="#d9846a" stroke-width="1.4" stroke-linecap="round" stroke-linejoin="round" fill="none"/><path d="M108 11.5L111.2 13.8L110.6 21.8" stroke="#d9846a" stroke-width="1.8" stroke-linecap="round" stroke-linejoin="round" fill="none"/><path d="M110.5 12.8L113 15.3" stroke="#d9846a" stroke-width="1.3" stroke-linecap="round"/></g>
<g><path d="M100.1 157.8H136.7" stroke="#2e5f7f" stroke-width="1.6" stroke-linecap="round"/><path d="M103.2 138.8V157.8" stroke="#2e5f7f" stroke-width="1.8"/><path d="M101.8 139.3L103.2 137.4L104.6 139.3" stroke="#2e5f7f" stroke-width="1" fill="none"/><circle cx="109.3" cy="143" r="3.5" fill="none" stroke="#2e5f7f" stroke-width="1.8"/><circle cx="109.3" cy="143" r="1.2" fill="#2e5f7f"/><path d="M113.2 145.6L133.5 156.2L133.5 157.6L129 157.6L112.6 147.2Z" fill="#2e5f7f"/><path d="M123.8 152.5L134.2 140.3" stroke="#2e5f7f" stroke-width="2" stroke-linecap="round"/><path d="M134 141.5L135 157" stroke="#2e5f7f" stroke-width="0.8"/><path d="M112.3 137.6L116.4 132.4" stroke="#2e5f7f" stroke-width="1.3"/><circle cx="130.6" cy="137.9" r="2.3" fill="#3a9ad9"/><path d="M129.3 141.2L123.6 149.2" stroke="#3a9ad9" stroke-width="3.6" stroke-linecap="round"/><path d="M122.8 148.6L124.2 141L117 135.8" stroke="#3a9ad9" stroke-width="2.5" stroke-linecap="round" stroke-linejoin="round" fill="none"/></g>
<g><circle cx="152.1" cy="135" r="2.6" fill="none" stroke="#3a9ad9" stroke-width="1.9"/><path d="M152.1 137.8V146" stroke="#2e5f7f" stroke-width="1.1"/><circle cx="146.9" cy="147.4" r="2.4" fill="#2e5f7f"/><path d="M149.5 147.1H171.2Q172.7 147.1 172.7 148.6V156.8" stroke="#2e5f7f" stroke-width="3.2" fill="none" stroke-linecap="round"/><path d="M143 151.8H168.8" stroke="#3a9ad9" stroke-width="1.8"/><path d="M144.3 151.8V157.8M167.3 151.8V157.8" stroke="#3a9ad9" stroke-width="1.2"/><path d="M143.3 157.8H145.5M166.2 157.8H168.4" stroke="#3a9ad9" stroke-width="0.8"/></g>
<g><rect x="189" y="133.8" width="8.6" height="23.6" fill="#8fb4c2"/><path d="M190.8 134V157.4M193 134V157.4M195.2 134V157.4" stroke="#5d8b9c" stroke-width="0.6"/><path d="M186.2 157.8H203.6" stroke="#2e5f7f" stroke-width="1"/><path d="M205 142.9L200.6 156.8" stroke="#2e5f7f" stroke-width="1.3"/><path d="M193 150.5L200 151" stroke="#2e5f7f" stroke-width="1.6"/><circle cx="202.1" cy="135" r="2.2" fill="#3a9ad9"/><path d="M201 139L196.3 149.3" stroke="#3a9ad9" stroke-width="3.6" stroke-linecap="round"/><path d="M196.3 149.3L189 147.6L181.2 146.4" stroke="#3a9ad9" stroke-width="2.6" stroke-linecap="round" stroke-linejoin="round" fill="none"/><circle cx="182.2" cy="145.4" r="1.2" fill="#2e5f7f"/><path d="M201 140L203.5 144.5" stroke="#3a9ad9" stroke-width="1.2"/></g>
</svg>
</body></html>
